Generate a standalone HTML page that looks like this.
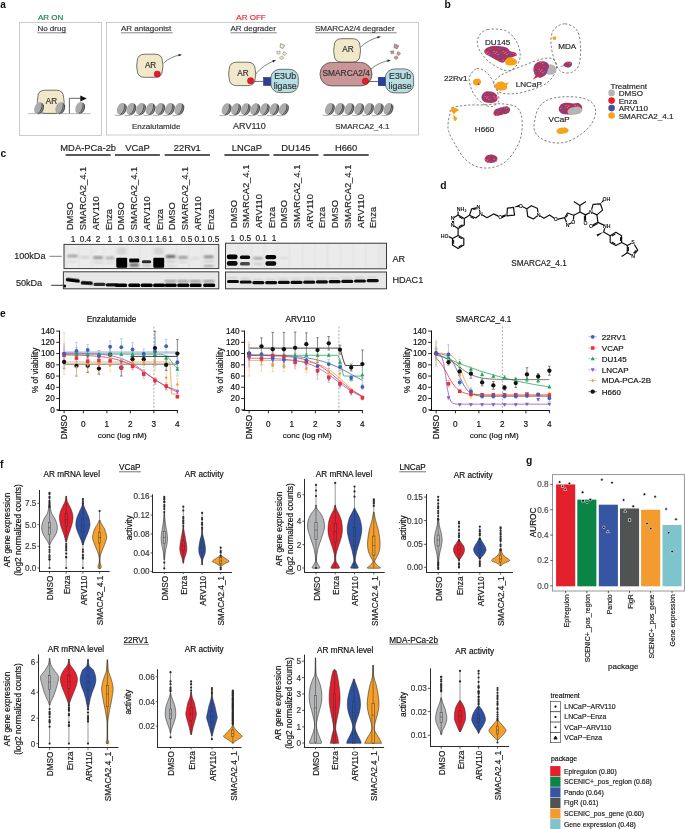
<!DOCTYPE html>
<html><head><meta charset="utf-8"><style>
html,body{margin:0;padding:0;background:#fff;}
svg{display:block;font-family:"Liberation Sans", sans-serif;}
#wrap{width:685px;height:829px;overflow:hidden;will-change:transform;}
</style></head><body><div id="wrap">
<svg width="685" height="829" viewBox="0 0 685 829">
<defs>
<filter id="bl1" x="-50%" y="-50%" width="200%" height="200%"><feGaussianBlur stdDeviation="0.9"/></filter>
<filter id="bl2" x="-50%" y="-50%" width="200%" height="200%"><feGaussianBlur stdDeviation="0.5"/></filter>
</defs>
<rect width="685" height="829" fill="#fff"/>
<text x="0.30" y="8.20" font-size="10" text-anchor="start" fill="#111" font-weight="bold">a</text>
<text x="50.70" y="20.00" font-size="8" text-anchor="middle" fill="#1a7f4b" stroke="#1a7f4b" stroke-width="0.18">AR ON</text>
<text x="251.00" y="20.00" font-size="8" text-anchor="middle" fill="#ec2530" stroke="#ec2530" stroke-width="0.18">AR OFF</text>
<rect x="19.60" y="22.50" width="81.90" height="113.00" fill="none" stroke="#bfbfbf" stroke-width="0.8"/>
<rect x="106.40" y="22.50" width="312.10" height="112.50" fill="none" stroke="#bfbfbf" stroke-width="0.8"/>
<text x="37.40" y="31.20" font-size="8" text-anchor="start" fill="#333" stroke="#333" stroke-width="0.18">No drug</text>
<line x1="37.40" y1="32.80" x2="66.30" y2="32.80" stroke="#333" stroke-width="0.6"/>
<text x="120.90" y="31.20" font-size="8" text-anchor="start" fill="#333" stroke="#333" stroke-width="0.18">AR antagonist</text>
<line x1="120.90" y1="32.80" x2="172.60" y2="32.80" stroke="#333" stroke-width="0.6"/>
<text x="230.50" y="31.20" font-size="8" text-anchor="start" fill="#333" stroke="#333" stroke-width="0.18">AR degrader</text>
<line x1="230.50" y1="32.80" x2="276.80" y2="32.80" stroke="#333" stroke-width="0.6"/>
<text x="315.00" y="31.20" font-size="8" text-anchor="start" fill="#333" stroke="#333" stroke-width="0.18">SMARCA2/4 degrader</text>
<line x1="315.00" y1="32.80" x2="396.60" y2="32.80" stroke="#333" stroke-width="0.6"/>
<line x1="28.00" y1="113.60" x2="90.70" y2="113.60" stroke="#777" stroke-width="0.5"/>
<path d="M45.224,90.2 L56.176,90.2 Q63.6,90.2 63.6,97.62400000000001 Q64.8,101.80000000000001 63.6,105.976 Q63.6,113.4 56.176,113.4 L45.224,113.4 Q37.8,113.4 37.8,105.976 Q36.599999999999994,101.80000000000001 37.8,97.62400000000001 Q37.8,90.2 45.224,90.2Z" fill="#f1e8c9" stroke="#3a3a3a" stroke-width="0.7"/>
<text x="51.50" y="103.60" font-size="8.2" text-anchor="middle" fill="#333" stroke="#333" stroke-width="0.18">AR</text>
<g transform="translate(39.00,108.20) rotate(22) scale(1.0)">
<ellipse cx="0.6" cy="0" rx="4.3" ry="6.1" fill="#9a9a9a"/>
<ellipse cx="-0.9" cy="0" rx="3.6" ry="6.0" fill="#ababab"/>
<path d="M1.0,-5.6 Q4.0,0 1.0,5.6 M2.7,-4.8 Q5.4,0 2.7,4.8" stroke="#474747" stroke-width="0.85" fill="none"/>
</g>
<g transform="translate(60.20,108.20) rotate(22) scale(1.0)">
<ellipse cx="0.6" cy="0" rx="4.3" ry="6.1" fill="#9a9a9a"/>
<ellipse cx="-0.9" cy="0" rx="3.6" ry="6.0" fill="#ababab"/>
<path d="M1.0,-5.6 Q4.0,0 1.0,5.6 M2.7,-4.8 Q5.4,0 2.7,4.8" stroke="#474747" stroke-width="0.85" fill="none"/>
</g>
<g transform="translate(80.10,108.00) rotate(22) scale(1.0)">
<ellipse cx="0.6" cy="0" rx="4.3" ry="6.1" fill="#9a9a9a"/>
<ellipse cx="-0.9" cy="0" rx="3.6" ry="6.0" fill="#ababab"/>
<path d="M1.0,-5.6 Q4.0,0 1.0,5.6 M2.7,-4.8 Q5.4,0 2.7,4.8" stroke="#474747" stroke-width="0.85" fill="none"/>
</g>
<path d="M69.4,113.4 L69.4,98.3 L80.6,98.3" fill="none" stroke="#222" stroke-width="0.7"/>
<path d="M80.3,95.4 L86.8,98.4 L80.3,101.4Z" fill="#111" stroke="none" stroke-width="1"/>
<path d="M144.59199999999998,54.2 L155.008,54.2 Q162.4,54.2 162.4,61.592 Q163.6,65.75 162.4,69.908 Q162.4,77.3 155.008,77.3 L144.59199999999998,77.3 Q137.2,77.3 137.2,69.908 Q136.0,65.75 137.2,61.592 Q137.2,54.2 144.59199999999998,54.2Z" fill="#f1e8c9" stroke="#3a3a3a" stroke-width="0.7"/>
<text x="150.60" y="67.55" font-size="8.2" text-anchor="middle" fill="#333" stroke="#333" stroke-width="0.18">AR</text>
<circle cx="157.30" cy="74.10" r="3.20" fill="#e8192c" stroke="#7a1a1a" stroke-width="0.4"/>
<path d="M163.4,63.2 Q170.96,56.29 181.1,54.8" fill="none" stroke="#333" stroke-width="0.6"/>
<path d="M181.89,54.68 L178.35,53.99 L178.70,56.37Z" fill="#222" stroke="none" stroke-width="1"/>
<g transform="translate(121.70,109.00) rotate(22) scale(1.0)">
<ellipse cx="0.6" cy="0" rx="4.3" ry="6.1" fill="#9a9a9a"/>
<ellipse cx="-0.9" cy="0" rx="3.6" ry="6.0" fill="#ababab"/>
<path d="M1.0,-5.6 Q4.0,0 1.0,5.6 M2.7,-4.8 Q5.4,0 2.7,4.8" stroke="#474747" stroke-width="0.85" fill="none"/>
</g>
<g transform="translate(131.30,109.00) rotate(22) scale(1.0)">
<ellipse cx="0.6" cy="0" rx="4.3" ry="6.1" fill="#9a9a9a"/>
<ellipse cx="-0.9" cy="0" rx="3.6" ry="6.0" fill="#ababab"/>
<path d="M1.0,-5.6 Q4.0,0 1.0,5.6 M2.7,-4.8 Q5.4,0 2.7,4.8" stroke="#474747" stroke-width="0.85" fill="none"/>
</g>
<g transform="translate(140.90,109.00) rotate(22) scale(1.0)">
<ellipse cx="0.6" cy="0" rx="4.3" ry="6.1" fill="#9a9a9a"/>
<ellipse cx="-0.9" cy="0" rx="3.6" ry="6.0" fill="#ababab"/>
<path d="M1.0,-5.6 Q4.0,0 1.0,5.6 M2.7,-4.8 Q5.4,0 2.7,4.8" stroke="#474747" stroke-width="0.85" fill="none"/>
</g>
<g transform="translate(150.50,109.00) rotate(22) scale(1.0)">
<ellipse cx="0.6" cy="0" rx="4.3" ry="6.1" fill="#9a9a9a"/>
<ellipse cx="-0.9" cy="0" rx="3.6" ry="6.0" fill="#ababab"/>
<path d="M1.0,-5.6 Q4.0,0 1.0,5.6 M2.7,-4.8 Q5.4,0 2.7,4.8" stroke="#474747" stroke-width="0.85" fill="none"/>
</g>
<g transform="translate(160.10,109.00) rotate(22) scale(1.0)">
<ellipse cx="0.6" cy="0" rx="4.3" ry="6.1" fill="#9a9a9a"/>
<ellipse cx="-0.9" cy="0" rx="3.6" ry="6.0" fill="#ababab"/>
<path d="M1.0,-5.6 Q4.0,0 1.0,5.6 M2.7,-4.8 Q5.4,0 2.7,4.8" stroke="#474747" stroke-width="0.85" fill="none"/>
</g>
<g transform="translate(169.70,109.00) rotate(22) scale(1.0)">
<ellipse cx="0.6" cy="0" rx="4.3" ry="6.1" fill="#9a9a9a"/>
<ellipse cx="-0.9" cy="0" rx="3.6" ry="6.0" fill="#ababab"/>
<path d="M1.0,-5.6 Q4.0,0 1.0,5.6 M2.7,-4.8 Q5.4,0 2.7,4.8" stroke="#474747" stroke-width="0.85" fill="none"/>
</g>
<g transform="translate(179.30,109.00) rotate(22) scale(1.0)">
<ellipse cx="0.6" cy="0" rx="4.3" ry="6.1" fill="#9a9a9a"/>
<ellipse cx="-0.9" cy="0" rx="3.6" ry="6.0" fill="#ababab"/>
<path d="M1.0,-5.6 Q4.0,0 1.0,5.6 M2.7,-4.8 Q5.4,0 2.7,4.8" stroke="#474747" stroke-width="0.85" fill="none"/>
</g>
<path d="M114.70,115.20 Q118.70,116.20 122.70,114.60" fill="none" stroke="#777" stroke-width="0.6"/>
<path d="M124.30,115.20 Q128.30,116.20 132.30,114.60" fill="none" stroke="#777" stroke-width="0.6"/>
<path d="M133.90,115.20 Q137.90,116.20 141.90,114.60" fill="none" stroke="#777" stroke-width="0.6"/>
<path d="M143.50,115.20 Q147.50,116.20 151.50,114.60" fill="none" stroke="#777" stroke-width="0.6"/>
<path d="M153.10,115.20 Q157.10,116.20 161.10,114.60" fill="none" stroke="#777" stroke-width="0.6"/>
<path d="M162.70,115.20 Q166.70,116.20 170.70,114.60" fill="none" stroke="#777" stroke-width="0.6"/>
<path d="M172.30,115.20 Q176.30,116.20 180.30,114.60" fill="none" stroke="#777" stroke-width="0.6"/>
<text x="156.20" y="129.30" font-size="8" text-anchor="middle" fill="#333" stroke="#333" stroke-width="0.18">Enzalutamide</text>
<path d="M236.688,62.2 L247.712,62.2 Q255.2,62.2 255.2,69.688 Q256.4,73.9 255.2,78.112 Q255.2,85.6 247.712,85.6 L236.688,85.6 Q229.2,85.6 229.2,78.112 Q228.0,73.9 229.2,69.688 Q229.2,62.2 236.688,62.2Z" fill="#f1e8c9" stroke="#3a3a3a" stroke-width="0.7"/>
<text x="243.00" y="75.70" font-size="8.2" text-anchor="middle" fill="#333" stroke="#333" stroke-width="0.18">AR</text>
<circle cx="250.60" cy="80.80" r="3.20" fill="#e8192c" stroke="#7a1a1a" stroke-width="0.4"/>
<line x1="253.80" y1="81.40" x2="263.40" y2="81.40" stroke="#333" stroke-width="0.7"/>
<rect x="263.40" y="77.30" width="8.40" height="8.30" fill="#2b3e9b" stroke="#1a2560" stroke-width="0.4"/>
<rect x="270.90" y="69.30" width="27.40" height="23.30" fill="#b7dfe3" stroke="#3a3a3a" stroke-width="0.7" rx="9.04" ry="8.39"/>
<text x="285.20" y="79.20" font-size="8.8" text-anchor="middle" fill="#333" stroke="#333" stroke-width="0.18">E3Ub</text>
<text x="285.20" y="88.90" font-size="8.8" text-anchor="middle" fill="#333" stroke="#333" stroke-width="0.18">ligase</text>
<path d="M255.4,74.1 Q263.59,64.78 275.2,60.4" fill="none" stroke="#333" stroke-width="0.6"/>
<path d="M275.95,60.12 L272.34,60.20 L273.19,62.44Z" fill="#222" stroke="none" stroke-width="1"/>
<path transform="translate(282,46) rotate(20) scale(1.3)" d="M-1.6,-1.4 L1.8,-1.2 L1.4,1.6 L-1.2,1.4Z" fill="#f1e8c9" stroke="#555" stroke-width="0.35"/>
<path transform="translate(278.5,52.5) rotate(-10) scale(1.0)" d="M-1.6,-1.4 L1.8,-1.2 L1.4,1.6 L-1.2,1.4Z" fill="#f1e8c9" stroke="#555" stroke-width="0.35"/>
<path transform="translate(284.5,53.5) rotate(30) scale(1.0)" d="M-1.6,-1.4 L1.8,-1.2 L1.4,1.6 L-1.2,1.4Z" fill="#f1e8c9" stroke="#555" stroke-width="0.35"/>
<path transform="translate(281.5,57.8) rotate(-30) scale(1.0)" d="M-1.6,-1.4 L1.8,-1.2 L1.4,1.6 L-1.2,1.4Z" fill="#f1e8c9" stroke="#555" stroke-width="0.35"/>
<g transform="translate(226.50,109.20) rotate(22) scale(1.0)">
<ellipse cx="0.6" cy="0" rx="4.3" ry="6.1" fill="#9a9a9a"/>
<ellipse cx="-0.9" cy="0" rx="3.6" ry="6.0" fill="#ababab"/>
<path d="M1.0,-5.6 Q4.0,0 1.0,5.6 M2.7,-4.8 Q5.4,0 2.7,4.8" stroke="#474747" stroke-width="0.85" fill="none"/>
</g>
<g transform="translate(236.05,109.20) rotate(22) scale(1.0)">
<ellipse cx="0.6" cy="0" rx="4.3" ry="6.1" fill="#9a9a9a"/>
<ellipse cx="-0.9" cy="0" rx="3.6" ry="6.0" fill="#ababab"/>
<path d="M1.0,-5.6 Q4.0,0 1.0,5.6 M2.7,-4.8 Q5.4,0 2.7,4.8" stroke="#474747" stroke-width="0.85" fill="none"/>
</g>
<g transform="translate(245.60,109.20) rotate(22) scale(1.0)">
<ellipse cx="0.6" cy="0" rx="4.3" ry="6.1" fill="#9a9a9a"/>
<ellipse cx="-0.9" cy="0" rx="3.6" ry="6.0" fill="#ababab"/>
<path d="M1.0,-5.6 Q4.0,0 1.0,5.6 M2.7,-4.8 Q5.4,0 2.7,4.8" stroke="#474747" stroke-width="0.85" fill="none"/>
</g>
<g transform="translate(255.15,109.20) rotate(22) scale(1.0)">
<ellipse cx="0.6" cy="0" rx="4.3" ry="6.1" fill="#9a9a9a"/>
<ellipse cx="-0.9" cy="0" rx="3.6" ry="6.0" fill="#ababab"/>
<path d="M1.0,-5.6 Q4.0,0 1.0,5.6 M2.7,-4.8 Q5.4,0 2.7,4.8" stroke="#474747" stroke-width="0.85" fill="none"/>
</g>
<g transform="translate(264.70,109.20) rotate(22) scale(1.0)">
<ellipse cx="0.6" cy="0" rx="4.3" ry="6.1" fill="#9a9a9a"/>
<ellipse cx="-0.9" cy="0" rx="3.6" ry="6.0" fill="#ababab"/>
<path d="M1.0,-5.6 Q4.0,0 1.0,5.6 M2.7,-4.8 Q5.4,0 2.7,4.8" stroke="#474747" stroke-width="0.85" fill="none"/>
</g>
<g transform="translate(274.25,109.20) rotate(22) scale(1.0)">
<ellipse cx="0.6" cy="0" rx="4.3" ry="6.1" fill="#9a9a9a"/>
<ellipse cx="-0.9" cy="0" rx="3.6" ry="6.0" fill="#ababab"/>
<path d="M1.0,-5.6 Q4.0,0 1.0,5.6 M2.7,-4.8 Q5.4,0 2.7,4.8" stroke="#474747" stroke-width="0.85" fill="none"/>
</g>
<g transform="translate(283.80,109.20) rotate(22) scale(1.0)">
<ellipse cx="0.6" cy="0" rx="4.3" ry="6.1" fill="#9a9a9a"/>
<ellipse cx="-0.9" cy="0" rx="3.6" ry="6.0" fill="#ababab"/>
<path d="M1.0,-5.6 Q4.0,0 1.0,5.6 M2.7,-4.8 Q5.4,0 2.7,4.8" stroke="#474747" stroke-width="0.85" fill="none"/>
</g>
<path d="M219.50,115.40 Q223.50,116.40 227.50,114.80" fill="none" stroke="#777" stroke-width="0.6"/>
<path d="M229.05,115.40 Q233.05,116.40 237.05,114.80" fill="none" stroke="#777" stroke-width="0.6"/>
<path d="M238.60,115.40 Q242.60,116.40 246.60,114.80" fill="none" stroke="#777" stroke-width="0.6"/>
<path d="M248.15,115.40 Q252.15,116.40 256.15,114.80" fill="none" stroke="#777" stroke-width="0.6"/>
<path d="M257.70,115.40 Q261.70,116.40 265.70,114.80" fill="none" stroke="#777" stroke-width="0.6"/>
<path d="M267.25,115.40 Q271.25,116.40 275.25,114.80" fill="none" stroke="#777" stroke-width="0.6"/>
<path d="M276.80,115.40 Q280.80,116.40 284.80,114.80" fill="none" stroke="#777" stroke-width="0.6"/>
<text x="249.40" y="129.40" font-size="8.3" text-anchor="middle" fill="#333" stroke="#333" stroke-width="0.18" textLength="32.6" lengthAdjust="spacingAndGlyphs">ARV110</text>
<path d="M341.71999999999997,38.7 L352.48,38.7 Q360,38.7 360,46.220000000000006 Q361.2,50.45 360,54.68 Q360,62.2 352.48,62.2 L341.71999999999997,62.2 Q334.2,62.2 334.2,54.68 Q333.0,50.45 334.2,46.220000000000006 Q334.2,38.7 341.71999999999997,38.7Z" fill="#f1e8c9" stroke="#3a3a3a" stroke-width="0.7"/>
<text x="347.90" y="52.25" font-size="8.2" text-anchor="middle" fill="#333" stroke="#333" stroke-width="0.18">AR</text>
<path d="M360.7,47 Q368.95,39.25 380,36.8" fill="none" stroke="#333" stroke-width="0.6"/>
<path d="M380.78,36.63 L377.20,36.19 L377.72,38.53Z" fill="#222" stroke="none" stroke-width="1"/>
<rect x="320.00" y="62.40" width="52.00" height="23.50" fill="#c99597" stroke="#3a3a3a" stroke-width="0.7" rx="11.5" ry="11.5"/>
<text x="346.20" y="75.50" font-size="8.4" text-anchor="middle" fill="#333" stroke="#333" stroke-width="0.18">SMARCA2/4</text>
<circle cx="365.40" cy="81.20" r="3.20" fill="#e8192c" stroke="#7a1a1a" stroke-width="0.4"/>
<line x1="368.00" y1="81.50" x2="378.20" y2="81.50" stroke="#333" stroke-width="0.7"/>
<rect x="378.20" y="77.20" width="8.30" height="8.60" fill="#2b3e9b" stroke="#1a2560" stroke-width="0.4"/>
<rect x="385.40" y="68.90" width="28.20" height="24.00" fill="#b7dfe3" stroke="#3a3a3a" stroke-width="0.7" rx="9.31" ry="8.64"/>
<text x="400.10" y="78.80" font-size="8.8" text-anchor="middle" fill="#333" stroke="#333" stroke-width="0.18">E3Ub</text>
<text x="400.10" y="88.50" font-size="8.8" text-anchor="middle" fill="#333" stroke="#333" stroke-width="0.18">ligase</text>
<path d="M370.7,69.2 Q379.11,62.07 390,60.4" fill="none" stroke="#333" stroke-width="0.6"/>
<path d="M390.79,60.28 L387.25,59.61 L387.61,61.98Z" fill="#222" stroke="none" stroke-width="1"/>
<path transform="translate(396,46.3) rotate(20) scale(1.3)" d="M-1.6,-1.4 L1.8,-1.2 L1.4,1.6 L-1.2,1.4Z" fill="#c99597" stroke="#555" stroke-width="0.35"/>
<path transform="translate(392.2,52.2) rotate(-10) scale(1.0)" d="M-1.6,-1.4 L1.8,-1.2 L1.4,1.6 L-1.2,1.4Z" fill="#c99597" stroke="#555" stroke-width="0.35"/>
<path transform="translate(398.5,53.5) rotate(30) scale(1.0)" d="M-1.6,-1.4 L1.8,-1.2 L1.4,1.6 L-1.2,1.4Z" fill="#c99597" stroke="#555" stroke-width="0.35"/>
<path transform="translate(396,57.6) rotate(-30) scale(1.0)" d="M-1.6,-1.4 L1.8,-1.2 L1.4,1.6 L-1.2,1.4Z" fill="#c99597" stroke="#555" stroke-width="0.35"/>
<g transform="translate(329.80,109.00) rotate(22) scale(1.0)">
<ellipse cx="0.6" cy="0" rx="4.3" ry="6.1" fill="#9a9a9a"/>
<ellipse cx="-0.9" cy="0" rx="3.6" ry="6.0" fill="#ababab"/>
<path d="M1.0,-5.6 Q4.0,0 1.0,5.6 M2.7,-4.8 Q5.4,0 2.7,4.8" stroke="#474747" stroke-width="0.85" fill="none"/>
</g>
<g transform="translate(339.57,109.00) rotate(22) scale(1.0)">
<ellipse cx="0.6" cy="0" rx="4.3" ry="6.1" fill="#9a9a9a"/>
<ellipse cx="-0.9" cy="0" rx="3.6" ry="6.0" fill="#ababab"/>
<path d="M1.0,-5.6 Q4.0,0 1.0,5.6 M2.7,-4.8 Q5.4,0 2.7,4.8" stroke="#474747" stroke-width="0.85" fill="none"/>
</g>
<g transform="translate(349.33,109.00) rotate(22) scale(1.0)">
<ellipse cx="0.6" cy="0" rx="4.3" ry="6.1" fill="#9a9a9a"/>
<ellipse cx="-0.9" cy="0" rx="3.6" ry="6.0" fill="#ababab"/>
<path d="M1.0,-5.6 Q4.0,0 1.0,5.6 M2.7,-4.8 Q5.4,0 2.7,4.8" stroke="#474747" stroke-width="0.85" fill="none"/>
</g>
<g transform="translate(359.10,109.00) rotate(22) scale(1.0)">
<ellipse cx="0.6" cy="0" rx="4.3" ry="6.1" fill="#9a9a9a"/>
<ellipse cx="-0.9" cy="0" rx="3.6" ry="6.0" fill="#ababab"/>
<path d="M1.0,-5.6 Q4.0,0 1.0,5.6 M2.7,-4.8 Q5.4,0 2.7,4.8" stroke="#474747" stroke-width="0.85" fill="none"/>
</g>
<g transform="translate(368.87,109.00) rotate(22) scale(1.0)">
<ellipse cx="0.6" cy="0" rx="4.3" ry="6.1" fill="#9a9a9a"/>
<ellipse cx="-0.9" cy="0" rx="3.6" ry="6.0" fill="#ababab"/>
<path d="M1.0,-5.6 Q4.0,0 1.0,5.6 M2.7,-4.8 Q5.4,0 2.7,4.8" stroke="#474747" stroke-width="0.85" fill="none"/>
</g>
<g transform="translate(378.63,109.00) rotate(22) scale(1.0)">
<ellipse cx="0.6" cy="0" rx="4.3" ry="6.1" fill="#9a9a9a"/>
<ellipse cx="-0.9" cy="0" rx="3.6" ry="6.0" fill="#ababab"/>
<path d="M1.0,-5.6 Q4.0,0 1.0,5.6 M2.7,-4.8 Q5.4,0 2.7,4.8" stroke="#474747" stroke-width="0.85" fill="none"/>
</g>
<g transform="translate(388.40,109.00) rotate(22) scale(1.0)">
<ellipse cx="0.6" cy="0" rx="4.3" ry="6.1" fill="#9a9a9a"/>
<ellipse cx="-0.9" cy="0" rx="3.6" ry="6.0" fill="#ababab"/>
<path d="M1.0,-5.6 Q4.0,0 1.0,5.6 M2.7,-4.8 Q5.4,0 2.7,4.8" stroke="#474747" stroke-width="0.85" fill="none"/>
</g>
<path d="M322.80,115.20 Q326.80,116.20 330.80,114.60" fill="none" stroke="#777" stroke-width="0.6"/>
<path d="M332.57,115.20 Q336.57,116.20 340.57,114.60" fill="none" stroke="#777" stroke-width="0.6"/>
<path d="M342.33,115.20 Q346.33,116.20 350.33,114.60" fill="none" stroke="#777" stroke-width="0.6"/>
<path d="M352.10,115.20 Q356.10,116.20 360.10,114.60" fill="none" stroke="#777" stroke-width="0.6"/>
<path d="M361.87,115.20 Q365.87,116.20 369.87,114.60" fill="none" stroke="#777" stroke-width="0.6"/>
<path d="M371.63,115.20 Q375.63,116.20 379.63,114.60" fill="none" stroke="#777" stroke-width="0.6"/>
<path d="M381.40,115.20 Q385.40,116.20 389.40,114.60" fill="none" stroke="#777" stroke-width="0.6"/>
<text x="362.40" y="129.30" font-size="8" text-anchor="middle" fill="#333" stroke="#333" stroke-width="0.18">SMARCA2_4.1</text>
<text x="444.50" y="8.30" font-size="10.3" text-anchor="start" fill="#111" font-weight="bold">b</text>
<path d="M487.40,29.60 C491.93,28.63 501.03,28.82 505.80,30.70 C510.57,32.58 513.62,37.17 516.00,40.90 C518.38,44.63 519.75,49.35 520.10,53.10 C520.45,56.85 519.80,60.50 518.10,63.40 C516.40,66.30 512.97,69.67 509.90,70.50 C506.83,71.33 503.45,70.10 499.70,68.40 C495.95,66.70 490.98,63.78 487.40,60.30 C483.82,56.82 479.67,51.47 478.20,47.50 C476.73,43.53 477.07,39.48 478.60,36.50 C480.13,33.52 482.87,30.57 487.40,29.60Z" fill="none" stroke="#5e5a55" stroke-width="0.75" stroke-dasharray="2.4,1.8"/>
<path d="M565.00,23.80 C569.00,23.97 574.90,26.63 577.50,31.00 C580.10,35.37 580.43,44.17 580.60,50.00 C580.77,55.83 580.10,62.25 578.50,66.00 C576.90,69.75 573.92,71.58 571.00,72.50 C568.08,73.42 563.67,73.25 561.00,71.50 C558.33,69.75 556.67,66.58 555.00,62.00 C553.33,57.42 551.25,49.33 551.00,44.00 C550.75,38.67 551.17,33.37 553.50,30.00 C555.83,26.63 561.00,23.63 565.00,23.80Z" fill="none" stroke="#5e5a55" stroke-width="0.75" stroke-dasharray="2.4,1.8"/>
<path d="M476.80,68.60 C479.55,67.77 483.22,69.77 486.00,72.00 C488.78,74.23 491.58,78.67 493.50,82.00 C495.42,85.33 496.63,88.83 497.50,92.00 C498.37,95.17 499.62,98.58 498.70,101.00 C497.78,103.42 494.45,105.92 492.00,106.50 C489.55,107.08 486.67,106.08 484.00,104.50 C481.33,102.92 478.17,99.75 476.00,97.00 C473.83,94.25 472.08,91.33 471.00,88.00 C469.92,84.67 468.53,80.23 469.50,77.00 C470.47,73.77 474.05,69.43 476.80,68.60Z" fill="none" stroke="#5e5a55" stroke-width="0.75" stroke-dasharray="2.4,1.8"/>
<path d="M493.80,84.00 C493.63,81.33 496.13,78.75 499.00,76.50 C501.87,74.25 506.50,72.50 511.00,70.50 C515.50,68.50 521.17,66.33 526.00,64.50 C530.83,62.67 535.83,60.53 540.00,59.50 C544.17,58.47 548.25,57.55 551.00,58.30 C553.75,59.05 555.92,61.38 556.50,64.00 C557.08,66.62 556.25,70.75 554.50,74.00 C552.75,77.25 549.92,80.83 546.00,83.50 C542.08,86.17 536.17,88.32 531.00,90.00 C525.83,91.68 520.17,93.18 515.00,93.60 C509.83,94.02 503.53,94.10 500.00,92.50 C496.47,90.90 493.97,86.67 493.80,84.00Z" fill="none" stroke="#5e5a55" stroke-width="0.75" stroke-dasharray="2.4,1.8"/>
<path d="M451.70,107.80 C454.50,106.50 461.72,105.68 467.00,105.20 C472.28,104.72 477.62,105.13 483.40,104.90 C489.18,104.67 496.27,103.48 501.70,103.80 C507.13,104.12 512.75,104.93 516.00,106.80 C519.25,108.67 520.17,111.60 521.20,115.00 C522.23,118.40 522.38,123.12 522.20,127.20 C522.02,131.28 521.47,135.42 520.10,139.50 C518.73,143.58 516.72,147.78 514.00,151.70 C511.28,155.62 507.88,160.30 503.80,163.00 C499.72,165.70 494.27,167.38 489.50,167.90 C484.73,168.42 479.47,167.77 475.20,166.10 C470.93,164.43 467.13,161.32 463.90,157.90 C460.67,154.48 458.35,150.03 455.80,145.60 C453.25,141.17 449.83,135.40 448.60,131.30 C447.37,127.20 448.13,124.05 448.40,121.00 C448.67,117.95 449.65,115.20 450.20,113.00 C450.75,110.80 448.90,109.10 451.70,107.80Z" fill="none" stroke="#5e5a55" stroke-width="0.75" stroke-dasharray="2.4,1.8"/>
<path d="M534.50,122.00 C535.15,118.17 536.33,111.67 538.50,108.00 C540.67,104.33 543.75,101.83 547.50,100.00 C551.25,98.17 555.92,97.45 561.00,97.00 C566.08,96.55 573.00,96.50 578.00,97.30 C583.00,98.10 588.07,99.52 591.00,101.80 C593.93,104.08 595.43,107.47 595.60,111.00 C595.77,114.53 594.27,119.25 592.00,123.00 C589.73,126.75 586.17,130.37 582.00,133.50 C577.83,136.63 572.00,140.28 567.00,141.80 C562.00,143.32 556.42,143.23 552.00,142.60 C547.58,141.97 543.40,139.93 540.50,138.00 C537.60,136.07 535.60,133.67 534.60,131.00 C533.60,128.33 533.85,125.83 534.50,122.00Z" fill="none" stroke="#5e5a55" stroke-width="0.75" stroke-dasharray="2.4,1.8"/>
<pattern id="spk" width="9" height="9" patternUnits="userSpaceOnUse"><rect width="9" height="9" fill="#a8305e"/><circle cx="2.1" cy="4.9" r="0.63" fill="#e8202a"/><circle cx="5.6" cy="0.6" r="0.70" fill="#e8202a"/><circle cx="2.3" cy="2.1" r="0.59" fill="#6a4fa0"/><circle cx="7.5" cy="4.3" r="0.50" fill="#3f5cb5"/><circle cx="5.7" cy="7.8" r="0.67" fill="#3f5cb5"/><circle cx="6.0" cy="0.6" r="0.63" fill="#3f5cb5"/><circle cx="2.7" cy="0.3" r="0.59" fill="#f07a8a"/><circle cx="6.5" cy="7.9" r="0.73" fill="#3f5cb5"/><circle cx="3.6" cy="7.2" r="0.73" fill="#e8202a"/><circle cx="7.9" cy="0.9" r="0.52" fill="#e8202a"/><circle cx="8.7" cy="3.9" r="0.54" fill="#3f5cb5"/><circle cx="4.6" cy="3.5" r="0.63" fill="#e8202a"/><circle cx="5.3" cy="8.1" r="0.73" fill="#3f5cb5"/><circle cx="7.7" cy="8.9" r="0.50" fill="#3f5cb5"/><circle cx="7.7" cy="8.7" r="0.62" fill="#f07a8a"/><circle cx="6.4" cy="1.9" r="0.62" fill="#3f5cb5"/><circle cx="2.6" cy="0.6" r="0.75" fill="#f07a8a"/><circle cx="0.8" cy="7.2" r="0.50" fill="#e8202a"/><circle cx="2.6" cy="6.9" r="0.46" fill="#f07a8a"/><circle cx="5.5" cy="0.4" r="0.55" fill="#3f5cb5"/><circle cx="7.9" cy="8.8" r="0.75" fill="#3f5cb5"/><circle cx="2.8" cy="0.7" r="0.46" fill="#3f5cb5"/><circle cx="1.8" cy="3.7" r="0.50" fill="#3f5cb5"/><circle cx="0.4" cy="7.8" r="0.74" fill="#e8202a"/><circle cx="8.1" cy="3.4" r="0.61" fill="#e8202a"/><circle cx="5.8" cy="5.4" r="0.64" fill="#3f5cb5"/><circle cx="8.5" cy="4.6" r="0.67" fill="#e8202a"/><circle cx="2.1" cy="2.7" r="0.61" fill="#6a4fa0"/><circle cx="4.9" cy="0.1" r="0.62" fill="#e8202a"/><circle cx="0.2" cy="5.5" r="0.47" fill="#3f5cb5"/><circle cx="5.6" cy="4.2" r="0.56" fill="#3f5cb5"/><circle cx="6.4" cy="6.6" r="0.47" fill="#e8202a"/><circle cx="6.1" cy="8.7" r="0.59" fill="#e8202a"/><circle cx="5.3" cy="2.9" r="0.54" fill="#e8202a"/><circle cx="3.3" cy="5.4" r="0.56" fill="#e8202a"/><circle cx="7.0" cy="0.2" r="0.67" fill="#3f5cb5"/><circle cx="2.8" cy="2.0" r="0.52" fill="#3f5cb5"/><circle cx="1.7" cy="3.9" r="0.48" fill="#3f5cb5"/><circle cx="2.9" cy="3.0" r="0.58" fill="#3f5cb5"/><circle cx="7.7" cy="1.5" r="0.65" fill="#e8202a"/><circle cx="8.0" cy="4.1" r="0.49" fill="#e8202a"/><circle cx="4.8" cy="1.7" r="0.70" fill="#3f5cb5"/><circle cx="1.7" cy="2.5" r="0.64" fill="#3f5cb5"/><circle cx="7.3" cy="3.1" r="0.54" fill="#e8202a"/><circle cx="7.1" cy="2.4" r="0.58" fill="#e8202a"/><circle cx="3.8" cy="3.7" r="0.50" fill="#f07a8a"/><circle cx="0.0" cy="8.5" r="0.75" fill="#f07a8a"/><circle cx="3.9" cy="8.6" r="0.52" fill="#f07a8a"/><circle cx="6.7" cy="7.5" r="0.61" fill="#3f5cb5"/><circle cx="2.6" cy="3.1" r="0.47" fill="#e8202a"/><circle cx="5.3" cy="2.6" r="0.46" fill="#3f5cb5"/><circle cx="8.1" cy="6.2" r="0.72" fill="#f07a8a"/><circle cx="8.1" cy="5.2" r="0.67" fill="#e8202a"/><circle cx="1.5" cy="2.7" r="0.61" fill="#3f5cb5"/><circle cx="3.7" cy="8.5" r="0.55" fill="#3f5cb5"/><circle cx="2.3" cy="7.8" r="0.68" fill="#e8202a"/><circle cx="3.2" cy="1.8" r="0.70" fill="#3f5cb5"/><circle cx="1.5" cy="7.1" r="0.69" fill="#f07a8a"/><circle cx="7.4" cy="0.1" r="0.71" fill="#3f5cb5"/><circle cx="0.4" cy="2.4" r="0.61" fill="#e8202a"/><circle cx="3.8" cy="4.3" r="0.45" fill="#3f5cb5"/><circle cx="0.5" cy="1.1" r="0.47" fill="#e8202a"/><circle cx="8.8" cy="7.7" r="0.60" fill="#e8202a"/><circle cx="2.8" cy="2.8" r="0.64" fill="#e8202a"/><circle cx="5.3" cy="3.2" r="0.55" fill="#e8202a"/><circle cx="1.1" cy="5.0" r="0.56" fill="#3f5cb5"/><circle cx="0.7" cy="1.6" r="0.63" fill="#e8202a"/><circle cx="7.0" cy="3.4" r="0.64" fill="#3f5cb5"/><circle cx="3.9" cy="3.4" r="0.66" fill="#e8202a"/><circle cx="3.8" cy="6.2" r="0.52" fill="#e8202a"/></pattern>
<path d="M484.50,50.00 C485.33,48.85 487.42,47.23 490.00,46.60 C492.58,45.97 497.17,46.00 500.00,46.20 C502.83,46.40 505.33,47.00 507.00,47.80 C508.67,48.60 508.67,50.25 510.00,51.00 C511.33,51.75 513.87,51.58 515.00,52.30 C516.13,53.02 517.30,54.48 516.80,55.30 C516.30,56.12 513.72,56.50 512.00,57.20 C510.28,57.90 508.00,58.57 506.50,59.50 C505.00,60.43 504.58,62.63 503.00,62.80 C501.42,62.97 499.17,61.55 497.00,60.50 C494.83,59.45 492.00,57.67 490.00,56.50 C488.00,55.33 485.92,54.58 485.00,53.50 C484.08,52.42 483.67,51.15 484.50,50.00Z" fill="url(#spk)"/>
<path fill="#f5a31a" d="M505.50,60.00 C506.00,58.82 507.75,57.83 509.00,57.50 C510.25,57.17 511.75,57.50 513.00,58.00 C514.25,58.50 515.97,59.47 516.50,60.50 C517.03,61.53 517.12,63.35 516.20,64.20 C515.28,65.05 512.70,65.53 511.00,65.60 C509.30,65.67 506.92,65.53 506.00,64.60 C505.08,63.67 505.00,61.18 505.50,60.00Z"/>
<circle cx="554.40" cy="38.10" r="1.90" fill="#f5a31a" stroke="none" stroke-width="0.5"/>
<path d="M563.50,64.50 C563.83,63.63 565.75,62.02 567.00,61.60 C568.25,61.18 570.17,61.43 571.00,62.00 C571.83,62.57 572.33,64.07 572.00,65.00 C571.67,65.93 570.17,67.30 569.00,67.60 C567.83,67.90 565.92,67.32 565.00,66.80 C564.08,66.28 563.17,65.37 563.50,64.50Z" fill="url(#spk)"/>
<line x1="560.50" y1="66.50" x2="564.00" y2="65.50" stroke="#7a7ac0" stroke-width="0.8"/>
<ellipse cx="550.3" cy="69.5" rx="6" ry="5.3" fill="#b5b5b5"/>
<path d="M534.00,66.00 C534.58,64.58 535.67,63.28 537.00,62.50 C538.33,61.72 540.33,61.30 542.00,61.30 C543.67,61.30 545.83,61.72 547.00,62.50 C548.17,63.28 548.92,64.58 549.00,66.00 C549.08,67.42 548.08,69.50 547.50,71.00 C546.92,72.50 546.75,73.87 545.50,75.00 C544.25,76.13 541.67,77.72 540.00,77.80 C538.33,77.88 536.58,76.63 535.50,75.50 C534.42,74.37 533.75,72.58 533.50,71.00 C533.25,69.42 533.42,67.42 534.00,66.00Z" fill="url(#spk)"/>
<path d="M536,75 L533,79.5 L538,77Z" fill="#e8202a"/>
<path fill="#f5a31a" d="M473.00,81.00 C473.33,79.98 474.83,78.95 476.00,78.70 C477.17,78.45 479.17,78.78 480.00,79.50 C480.83,80.22 481.33,82.03 481.00,83.00 C480.67,83.97 479.17,85.00 478.00,85.30 C476.83,85.60 474.83,85.52 474.00,84.80 C473.17,84.08 472.67,82.02 473.00,81.00Z"/>
<circle cx="478.50" cy="84.20" r="0.90" fill="#e8202a" stroke="none" stroke-width="0.5"/>
<path d="M482.00,95.00 C482.67,93.68 484.33,92.13 486.00,91.60 C487.67,91.07 490.20,91.23 492.00,91.80 C493.80,92.37 495.92,93.63 496.80,95.00 C497.68,96.37 497.93,98.72 497.30,100.00 C496.67,101.28 494.88,102.28 493.00,102.70 C491.12,103.12 487.83,103.03 486.00,102.50 C484.17,101.97 482.67,100.75 482.00,99.50 C481.33,98.25 481.33,96.32 482.00,95.00Z" fill="url(#spk)"/>
<path fill="#f5a31a" d="M494.80,86.00 C494.88,84.75 496.30,83.05 497.50,82.30 C498.70,81.55 500.67,81.35 502.00,81.50 C503.33,81.65 504.37,83.07 505.50,83.20 C506.63,83.33 508.55,81.97 508.80,82.30 C509.05,82.63 507.30,84.17 507.00,85.20 C506.70,86.23 507.75,87.63 507.00,88.50 C506.25,89.37 504.17,90.18 502.50,90.40 C500.83,90.62 498.28,90.53 497.00,89.80 C495.72,89.07 494.72,87.25 494.80,86.00Z"/>
<path fill="#f5a31a" d="M451.00,109.00 C451.33,108.38 452.50,107.88 453.50,107.80 C454.50,107.72 456.12,108.05 457.00,108.50 C457.88,108.95 458.97,109.92 458.80,110.50 C458.63,111.08 456.80,111.25 456.00,112.00 C455.20,112.75 453.83,114.00 454.00,115.00 C454.17,116.00 456.75,117.00 457.00,118.00 C457.25,119.00 456.08,120.83 455.50,121.00 C454.92,121.17 453.83,120.17 453.50,119.00 C453.17,117.83 453.83,115.25 453.50,114.00 C453.17,112.75 451.92,112.33 451.50,111.50 C451.08,110.67 450.67,109.62 451.00,109.00Z"/>
<path d="M493.50,112.50 C493.83,111.50 494.58,109.88 496.00,109.00 C497.42,108.12 500.08,107.63 502.00,107.20 C503.92,106.77 506.17,106.10 507.50,106.40 C508.83,106.70 509.83,107.90 510.00,109.00 C510.17,110.10 509.67,112.07 508.50,113.00 C507.33,113.93 504.92,114.10 503.00,114.60 C501.08,115.10 498.50,115.93 497.00,116.00 C495.50,116.07 494.58,115.58 494.00,115.00 C493.42,114.42 493.17,113.50 493.50,112.50Z" fill="url(#spk)"/>
<path d="M484.60,158.50 C484.85,157.37 486.10,155.82 487.50,155.20 C488.90,154.58 491.38,154.42 493.00,154.80 C494.62,155.18 496.62,156.38 497.20,157.50 C497.78,158.62 497.53,160.58 496.50,161.50 C495.47,162.42 492.75,162.92 491.00,163.00 C489.25,163.08 487.07,162.75 486.00,162.00 C484.93,161.25 484.35,159.63 484.60,158.50Z" fill="url(#spk)"/>
<path d="M558.80,108.00 C559.13,106.75 560.13,104.87 561.50,104.00 C562.87,103.13 565.08,102.88 567.00,102.80 C568.92,102.72 571.17,103.47 573.00,103.50 C574.83,103.53 576.58,102.67 578.00,103.00 C579.42,103.33 580.83,104.33 581.50,105.50 C582.17,106.67 582.50,108.65 582.00,110.00 C581.50,111.35 580.33,112.85 578.50,113.60 C576.67,114.35 573.58,114.43 571.00,114.50 C568.42,114.57 564.92,114.50 563.00,114.00 C561.08,113.50 560.20,112.50 559.50,111.50 C558.80,110.50 558.47,109.25 558.80,108.00Z" fill="url(#spk)"/>
<path fill="#b5b5b5" d="M568.00,110.00 C568.75,108.90 571.33,107.73 573.00,107.20 C574.67,106.67 576.52,106.50 578.00,106.80 C579.48,107.10 581.48,107.97 581.90,109.00 C582.32,110.03 581.82,112.07 580.50,113.00 C579.18,113.93 576.00,114.47 574.00,114.60 C572.00,114.73 569.50,114.57 568.50,113.80 C567.50,113.03 567.25,111.10 568.00,110.00Z"/>
<path fill="#f5a31a" d="M556.60,131.00 C556.85,130.17 557.60,128.77 559.00,128.20 C560.40,127.63 563.40,127.33 565.00,127.60 C566.60,127.87 568.27,128.93 568.60,129.80 C568.93,130.67 568.27,132.12 567.00,132.80 C565.73,133.48 562.58,133.83 561.00,133.90 C559.42,133.97 558.23,133.68 557.50,133.20 C556.77,132.72 556.35,131.83 556.60,131.00Z"/>
<text x="485.00" y="44.80" font-size="8.1" text-anchor="start" fill="#231f20" stroke="#231f20" stroke-width="0.18">DU145</text>
<text x="558.20" y="48.90" font-size="8.1" text-anchor="start" fill="#231f20" stroke="#231f20" stroke-width="0.18">MDA</text>
<text x="444.00" y="80.60" font-size="8.1" text-anchor="start" fill="#231f20" stroke="#231f20" stroke-width="0.18">22Rv1</text>
<text x="515.70" y="86.80" font-size="8.1" text-anchor="start" fill="#231f20" stroke="#231f20" stroke-width="0.18">LNCaP</text>
<text x="474.80" y="132.20" font-size="8.1" text-anchor="start" fill="#231f20" stroke="#231f20" stroke-width="0.18">H660</text>
<text x="548.50" y="121.80" font-size="8.1" text-anchor="start" fill="#231f20" stroke="#231f20" stroke-width="0.18">VCaP</text>
<text x="610.50" y="88.50" font-size="8.1" text-anchor="start" fill="#231f20" stroke="#231f20" stroke-width="0.18">Treatment</text>
<circle cx="611.60" cy="92.90" r="3.30" fill="#b5b5b5" stroke="none" stroke-width="0.5"/>
<text x="618.70" y="95.90" font-size="8.1" text-anchor="start" fill="#231f20" stroke="#231f20" stroke-width="0.18">DMSO</text>
<circle cx="611.60" cy="100.60" r="3.30" fill="#e8202a" stroke="none" stroke-width="0.5"/>
<text x="618.70" y="103.60" font-size="8.1" text-anchor="start" fill="#231f20" stroke="#231f20" stroke-width="0.18">Enza</text>
<circle cx="611.60" cy="108.10" r="3.30" fill="#3a53a4" stroke="none" stroke-width="0.5"/>
<text x="618.70" y="111.10" font-size="8.1" text-anchor="start" fill="#231f20" stroke="#231f20" stroke-width="0.18">ARV110</text>
<circle cx="611.60" cy="115.50" r="3.30" fill="#f5a31a" stroke="none" stroke-width="0.5"/>
<text x="618.70" y="118.50" font-size="8.1" text-anchor="start" fill="#231f20" stroke="#231f20" stroke-width="0.18">SMARCA2_4.1</text>
<text x="0.40" y="157.30" font-size="10.3" text-anchor="start" fill="#111" font-weight="bold">c</text>
<text x="88.20" y="151.20" font-size="9.4" text-anchor="middle" fill="#231f20" stroke="#231f20" stroke-width="0.18">MDA-PCa-2b</text>
<line x1="65.70" y1="155.10" x2="110.70" y2="155.10" stroke="#231f20" stroke-width="1.5"/>
<text x="137.40" y="151.20" font-size="9.4" text-anchor="middle" fill="#231f20" stroke="#231f20" stroke-width="0.18">VCaP</text>
<line x1="114.90" y1="155.10" x2="159.90" y2="155.10" stroke="#231f20" stroke-width="1.5"/>
<text x="187.30" y="151.20" font-size="9.4" text-anchor="middle" fill="#231f20" stroke="#231f20" stroke-width="0.18">22Rv1</text>
<line x1="164.70" y1="155.10" x2="209.90" y2="155.10" stroke="#231f20" stroke-width="1.5"/>
<text x="246.90" y="151.20" font-size="9.4" text-anchor="middle" fill="#231f20" stroke="#231f20" stroke-width="0.18">LNCaP</text>
<line x1="224.40" y1="155.10" x2="269.40" y2="155.10" stroke="#231f20" stroke-width="1.5"/>
<text x="295.95" y="151.20" font-size="9.4" text-anchor="middle" fill="#231f20" stroke="#231f20" stroke-width="0.18">DU145</text>
<line x1="273.40" y1="155.10" x2="318.50" y2="155.10" stroke="#231f20" stroke-width="1.5"/>
<text x="346.10" y="151.20" font-size="9.4" text-anchor="middle" fill="#231f20" stroke="#231f20" stroke-width="0.18">H660</text>
<line x1="323.50" y1="155.10" x2="368.70" y2="155.10" stroke="#231f20" stroke-width="1.5"/>
<text x="0.00" y="0.00" transform="translate(73.30,230.30) rotate(-90)" font-size="9.4" text-anchor="start" fill="#231f20" stroke="#231f20" stroke-width="0.18">DMSO</text>
<text x="0.00" y="0.00" transform="translate(86.05,230.30) rotate(-90)" font-size="9.4" text-anchor="start" fill="#231f20" stroke="#231f20" stroke-width="0.18">SMARCA2_4.1</text>
<text x="0.00" y="0.00" transform="translate(98.80,230.30) rotate(-90)" font-size="9.4" text-anchor="start" fill="#231f20" stroke="#231f20" stroke-width="0.18">ARV110</text>
<text x="0.00" y="0.00" transform="translate(111.55,230.30) rotate(-90)" font-size="9.4" text-anchor="start" fill="#231f20" stroke="#231f20" stroke-width="0.18">Enza</text>
<text x="0.00" y="0.00" transform="translate(124.30,230.30) rotate(-90)" font-size="9.4" text-anchor="start" fill="#231f20" stroke="#231f20" stroke-width="0.18">DMSO</text>
<text x="0.00" y="0.00" transform="translate(137.05,230.30) rotate(-90)" font-size="9.4" text-anchor="start" fill="#231f20" stroke="#231f20" stroke-width="0.18">SMARCA2_4.1</text>
<text x="0.00" y="0.00" transform="translate(149.80,230.30) rotate(-90)" font-size="9.4" text-anchor="start" fill="#231f20" stroke="#231f20" stroke-width="0.18">ARV110</text>
<text x="0.00" y="0.00" transform="translate(162.55,230.30) rotate(-90)" font-size="9.4" text-anchor="start" fill="#231f20" stroke="#231f20" stroke-width="0.18">Enza</text>
<text x="0.00" y="0.00" transform="translate(175.30,230.30) rotate(-90)" font-size="9.4" text-anchor="start" fill="#231f20" stroke="#231f20" stroke-width="0.18">DMSO</text>
<text x="0.00" y="0.00" transform="translate(188.05,230.30) rotate(-90)" font-size="9.4" text-anchor="start" fill="#231f20" stroke="#231f20" stroke-width="0.18">SMARCA2_4.1</text>
<text x="0.00" y="0.00" transform="translate(200.80,230.30) rotate(-90)" font-size="9.4" text-anchor="start" fill="#231f20" stroke="#231f20" stroke-width="0.18">ARV110</text>
<text x="0.00" y="0.00" transform="translate(213.55,230.30) rotate(-90)" font-size="9.4" text-anchor="start" fill="#231f20" stroke="#231f20" stroke-width="0.18">Enza</text>
<text x="0.00" y="0.00" transform="translate(236.50,228.20) rotate(-90)" font-size="9.4" text-anchor="start" fill="#231f20" stroke="#231f20" stroke-width="0.18">DMSO</text>
<text x="0.00" y="0.00" transform="translate(249.20,228.20) rotate(-90)" font-size="9.4" text-anchor="start" fill="#231f20" stroke="#231f20" stroke-width="0.18">SMARCA2_4.1</text>
<text x="0.00" y="0.00" transform="translate(261.90,228.20) rotate(-90)" font-size="9.4" text-anchor="start" fill="#231f20" stroke="#231f20" stroke-width="0.18">ARV110</text>
<text x="0.00" y="0.00" transform="translate(274.60,228.20) rotate(-90)" font-size="9.4" text-anchor="start" fill="#231f20" stroke="#231f20" stroke-width="0.18">Enza</text>
<text x="0.00" y="0.00" transform="translate(287.30,228.20) rotate(-90)" font-size="9.4" text-anchor="start" fill="#231f20" stroke="#231f20" stroke-width="0.18">DMSO</text>
<text x="0.00" y="0.00" transform="translate(300.00,228.20) rotate(-90)" font-size="9.4" text-anchor="start" fill="#231f20" stroke="#231f20" stroke-width="0.18">SMARCA2_4.1</text>
<text x="0.00" y="0.00" transform="translate(312.70,228.20) rotate(-90)" font-size="9.4" text-anchor="start" fill="#231f20" stroke="#231f20" stroke-width="0.18">ARV110</text>
<text x="0.00" y="0.00" transform="translate(325.40,228.20) rotate(-90)" font-size="9.4" text-anchor="start" fill="#231f20" stroke="#231f20" stroke-width="0.18">Enza</text>
<text x="0.00" y="0.00" transform="translate(338.10,228.20) rotate(-90)" font-size="9.4" text-anchor="start" fill="#231f20" stroke="#231f20" stroke-width="0.18">DMSO</text>
<text x="0.00" y="0.00" transform="translate(350.80,228.20) rotate(-90)" font-size="9.4" text-anchor="start" fill="#231f20" stroke="#231f20" stroke-width="0.18">SMARCA2_4.1</text>
<text x="0.00" y="0.00" transform="translate(363.50,228.20) rotate(-90)" font-size="9.4" text-anchor="start" fill="#231f20" stroke="#231f20" stroke-width="0.18">ARV110</text>
<text x="0.00" y="0.00" transform="translate(376.20,228.20) rotate(-90)" font-size="9.4" text-anchor="start" fill="#231f20" stroke="#231f20" stroke-width="0.18">Enza</text>
<text x="73.00" y="241.80" font-size="8.3" text-anchor="middle" fill="#231f20" stroke="#231f20" stroke-width="0.18">1</text>
<text x="85.40" y="241.80" font-size="8.3" text-anchor="middle" fill="#231f20" stroke="#231f20" stroke-width="0.18">0.4</text>
<text x="98.10" y="241.80" font-size="8.3" text-anchor="middle" fill="#231f20" stroke="#231f20" stroke-width="0.18">2</text>
<text x="109.80" y="241.80" font-size="8.3" text-anchor="middle" fill="#231f20" stroke="#231f20" stroke-width="0.18">1</text>
<text x="120.90" y="241.80" font-size="8.3" text-anchor="middle" fill="#231f20" stroke="#231f20" stroke-width="0.18">1</text>
<text x="133.70" y="241.80" font-size="8.3" text-anchor="middle" fill="#231f20" stroke="#231f20" stroke-width="0.18">0.3</text>
<text x="147.10" y="241.80" font-size="8.3" text-anchor="middle" fill="#231f20" stroke="#231f20" stroke-width="0.18">0.1</text>
<text x="161.20" y="241.80" font-size="8.3" text-anchor="middle" fill="#231f20" stroke="#231f20" stroke-width="0.18">1.6</text>
<text x="170.60" y="241.80" font-size="8.3" text-anchor="middle" fill="#231f20" stroke="#231f20" stroke-width="0.18">1</text>
<text x="186.70" y="241.80" font-size="8.3" text-anchor="middle" fill="#231f20" stroke="#231f20" stroke-width="0.18">0.5</text>
<text x="200.20" y="241.80" font-size="8.3" text-anchor="middle" fill="#231f20" stroke="#231f20" stroke-width="0.18">0.1</text>
<text x="213.60" y="241.80" font-size="8.3" text-anchor="middle" fill="#231f20" stroke="#231f20" stroke-width="0.18">0.5</text>
<text x="232.80" y="240.90" font-size="8.3" text-anchor="middle" fill="#231f20" stroke="#231f20" stroke-width="0.18">1</text>
<text x="245.30" y="240.90" font-size="8.3" text-anchor="middle" fill="#231f20" stroke="#231f20" stroke-width="0.18">0.5</text>
<text x="261.20" y="240.90" font-size="8.3" text-anchor="middle" fill="#231f20" stroke="#231f20" stroke-width="0.18">0.1</text>
<text x="274.10" y="240.90" font-size="8.3" text-anchor="middle" fill="#231f20" stroke="#231f20" stroke-width="0.18">1</text>
<rect x="64.00" y="244.40" width="154.80" height="24.20" fill="#e7e7e7" stroke="none" stroke-width="1"/>
<rect x="67.90" y="245.00" width="10.00" height="23.00" fill="#ebebeb" stroke="none" stroke-width="1"/>
<rect x="79.80" y="245.00" width="10.00" height="23.00" fill="#ebebeb" stroke="none" stroke-width="1"/>
<rect x="92.70" y="245.00" width="10.00" height="23.00" fill="#ebebeb" stroke="none" stroke-width="1"/>
<rect x="104.60" y="245.00" width="10.00" height="23.00" fill="#ebebeb" stroke="none" stroke-width="1"/>
<rect x="115.80" y="245.00" width="10.00" height="23.00" fill="#ebebeb" stroke="none" stroke-width="1"/>
<rect x="129.00" y="245.00" width="10.00" height="23.00" fill="#ebebeb" stroke="none" stroke-width="1"/>
<rect x="141.40" y="245.00" width="10.00" height="23.00" fill="#ebebeb" stroke="none" stroke-width="1"/>
<rect x="153.80" y="245.00" width="10.00" height="23.00" fill="#ebebeb" stroke="none" stroke-width="1"/>
<rect x="165.40" y="245.00" width="10.00" height="23.00" fill="#ebebeb" stroke="none" stroke-width="1"/>
<rect x="177.90" y="245.00" width="10.00" height="23.00" fill="#ebebeb" stroke="none" stroke-width="1"/>
<rect x="190.30" y="245.00" width="10.00" height="23.00" fill="#ebebeb" stroke="none" stroke-width="1"/>
<rect x="203.90" y="245.00" width="10.00" height="23.00" fill="#ebebeb" stroke="none" stroke-width="1"/>
<rect x="67.35" y="254.70" width="10.50" height="2.60" rx="1.30" fill="#9a9a9a" filter="url(#bl1)" transform="rotate(0 72.60 256.00)"/>
<rect x="67.60" y="260.70" width="10.00" height="1.60" rx="0.80" fill="#d8d8d8" filter="url(#bl1)" transform="rotate(0 72.60 261.50)"/>
<rect x="80.30" y="256.30" width="9.00" height="2.00" rx="1.00" fill="#c8c8c8" filter="url(#bl1)" transform="rotate(0 84.80 257.30)"/>
<rect x="93.00" y="256.30" width="10.00" height="2.60" rx="1.30" fill="#8f8f8f" filter="url(#bl1)" transform="rotate(0 98.00 257.60)"/>
<rect x="93.00" y="261.60" width="10.00" height="1.80" rx="0.90" fill="#d0d0d0" filter="url(#bl1)" transform="rotate(0 98.00 262.50)"/>
<rect x="105.50" y="256.80" width="9.00" height="2.40" rx="1.20" fill="#a8a8a8" filter="url(#bl1)" transform="rotate(0 110.00 258.00)"/>
<rect x="105.50" y="261.70" width="9.00" height="1.60" rx="0.80" fill="#d5d5d5" filter="url(#bl1)" transform="rotate(0 110.00 262.50)"/>
<rect x="117.00" y="247.50" width="9.00" height="7.00" rx="1.50" fill="#d3d3d3" filter="url(#bl1)" transform="rotate(0 121.50 251.00)"/>
<rect x="116.40" y="257.70" width="10.80" height="10.00" rx="1.00" fill="#000" filter="url(#bl2)" transform="rotate(0 121.80 262.70)"/>
<rect x="116.70" y="258.20" width="10.20" height="9.00" rx="1.00" fill="#000" filter="url(#bl2)" transform="rotate(0 121.80 262.70)"/>
<rect x="129.20" y="258.40" width="10.00" height="4.00" rx="1.00" fill="#050505" filter="url(#bl2)" transform="rotate(0 134.20 260.40)"/>
<rect x="129.45" y="263.00" width="9.50" height="4.00" rx="1.50" fill="#7a7a7a" filter="url(#bl1)" transform="rotate(0 134.20 265.00)"/>
<rect x="141.75" y="260.30" width="9.50" height="3.00" rx="1.50" fill="#2a2a2a" filter="url(#bl2)" transform="rotate(0 146.50 261.80)"/>
<rect x="142.00" y="264.25" width="9.00" height="2.50" rx="1.25" fill="#c0c0c0" filter="url(#bl1)" transform="rotate(0 146.50 265.50)"/>
<rect x="153.40" y="257.70" width="10.80" height="10.00" rx="1.00" fill="#000" filter="url(#bl2)" transform="rotate(0 158.80 262.70)"/>
<rect x="153.70" y="258.20" width="10.20" height="9.00" rx="1.00" fill="#000" filter="url(#bl2)" transform="rotate(0 158.80 262.70)"/>
<rect x="154.30" y="247.50" width="9.00" height="7.00" rx="1.50" fill="#d3d3d3" filter="url(#bl1)" transform="rotate(0 158.80 251.00)"/>
<rect x="165.60" y="255.10" width="10.00" height="3.00" rx="1.50" fill="#666" filter="url(#bl1)" transform="rotate(0 170.60 256.60)"/>
<rect x="165.85" y="260.50" width="9.50" height="2.00" rx="1.00" fill="#c8c8c8" filter="url(#bl1)" transform="rotate(0 170.60 261.50)"/>
<rect x="165.85" y="265.25" width="9.50" height="1.50" rx="0.75" fill="#cfcfcf" filter="url(#bl1)" transform="rotate(0 170.60 266.00)"/>
<rect x="178.25" y="256.10" width="9.50" height="2.60" rx="1.30" fill="#959595" filter="url(#bl1)" transform="rotate(0 183.00 257.40)"/>
<rect x="178.25" y="261.20" width="9.50" height="1.60" rx="0.80" fill="#d0d0d0" filter="url(#bl1)" transform="rotate(0 183.00 262.00)"/>
<rect x="191.00" y="257.50" width="9.00" height="2.00" rx="1.00" fill="#d4d4d4" filter="url(#bl1)" transform="rotate(0 195.50 258.50)"/>
<rect x="203.70" y="255.40" width="10.00" height="2.80" rx="1.40" fill="#858585" filter="url(#bl1)" transform="rotate(0 208.70 256.80)"/>
<rect x="203.70" y="260.70" width="10.00" height="1.60" rx="0.80" fill="#bdbdbd" filter="url(#bl1)" transform="rotate(0 208.70 261.50)"/>
<rect x="203.70" y="265.10" width="10.00" height="1.80" rx="0.90" fill="#a5a5a5" filter="url(#bl1)" transform="rotate(0 208.70 266.00)"/>
<rect x="64.00" y="244.40" width="154.80" height="24.20" fill="none" stroke="#3a3a3a" stroke-width="1"/>
<rect x="63.40" y="271.80" width="155.40" height="17.00" fill="#e7e7e7" stroke="none" stroke-width="1"/>
<rect x="65.80" y="278.60" width="14.00" height="3.40" rx="1.50" fill="#000" filter="url(#bl2)" transform="rotate(7 72.80 280.30)"/>
<rect x="80.80" y="281.30" width="12.00" height="3.40" rx="1.50" fill="#111" filter="url(#bl2)" transform="rotate(3 86.80 283.00)"/>
<rect x="93.50" y="282.70" width="12.00" height="3.20" rx="1.50" fill="#2a2a2a" filter="url(#bl2)" transform="rotate(0 99.50 284.30)"/>
<rect x="105.80" y="283.20" width="12.00" height="3.20" rx="1.50" fill="#111" filter="url(#bl2)" transform="rotate(0 111.80 284.80)"/>
<rect x="115.10" y="283.60" width="12.00" height="3.40" rx="1.50" fill="#050505" filter="url(#bl2)" transform="rotate(0 121.10 285.30)"/>
<rect x="128.30" y="283.60" width="12.00" height="3.40" rx="1.50" fill="#050505" filter="url(#bl2)" transform="rotate(0 134.30 285.30)"/>
<rect x="140.70" y="283.60" width="12.00" height="3.40" rx="1.50" fill="#050505" filter="url(#bl2)" transform="rotate(0 146.70 285.30)"/>
<rect x="153.10" y="283.60" width="12.00" height="3.40" rx="1.50" fill="#050505" filter="url(#bl2)" transform="rotate(0 159.10 285.30)"/>
<rect x="164.70" y="283.60" width="12.00" height="3.40" rx="1.50" fill="#050505" filter="url(#bl2)" transform="rotate(0 170.70 285.30)"/>
<rect x="177.20" y="283.60" width="12.00" height="3.40" rx="1.50" fill="#050505" filter="url(#bl2)" transform="rotate(0 183.20 285.30)"/>
<rect x="189.60" y="283.60" width="12.00" height="3.40" rx="1.50" fill="#050505" filter="url(#bl2)" transform="rotate(0 195.60 285.30)"/>
<rect x="203.20" y="283.60" width="12.00" height="3.40" rx="1.50" fill="#050505" filter="url(#bl2)" transform="rotate(0 209.20 285.30)"/>
<rect x="164.65" y="280.20" width="11.50" height="2.00" rx="1.00" fill="#8a8a8a" filter="url(#bl1)" transform="rotate(0 170.40 281.20)"/>
<rect x="177.15" y="280.20" width="11.50" height="2.00" rx="1.00" fill="#8a8a8a" filter="url(#bl1)" transform="rotate(0 182.90 281.20)"/>
<rect x="189.55" y="280.20" width="11.50" height="2.00" rx="1.00" fill="#8a8a8a" filter="url(#bl1)" transform="rotate(0 195.30 281.20)"/>
<rect x="203.15" y="280.20" width="11.50" height="2.00" rx="1.00" fill="#8a8a8a" filter="url(#bl1)" transform="rotate(0 208.90 281.20)"/>
<rect x="63.10" y="284.50" width="3.00" height="3.00" rx="1.50" fill="#000" filter="url(#bl2)" transform="rotate(0 64.60 286.00)"/>
<rect x="63.40" y="271.80" width="155.40" height="17.00" fill="none" stroke="#3a3a3a" stroke-width="1"/>
<rect x="225.50" y="243.20" width="161.00" height="25.60" fill="#e7e7e7" stroke="none" stroke-width="1"/>
<rect x="227.50" y="244.00" width="10.00" height="24.00" fill="#ebebeb" stroke="none" stroke-width="1"/>
<rect x="240.20" y="244.00" width="10.00" height="24.00" fill="#ebebeb" stroke="none" stroke-width="1"/>
<rect x="252.90" y="244.00" width="10.00" height="24.00" fill="#ebebeb" stroke="none" stroke-width="1"/>
<rect x="265.60" y="244.00" width="10.00" height="24.00" fill="#ebebeb" stroke="none" stroke-width="1"/>
<rect x="278.30" y="244.00" width="10.00" height="24.00" fill="#ebebeb" stroke="none" stroke-width="1"/>
<rect x="291.00" y="244.00" width="10.00" height="24.00" fill="#ebebeb" stroke="none" stroke-width="1"/>
<rect x="303.70" y="244.00" width="10.00" height="24.00" fill="#ebebeb" stroke="none" stroke-width="1"/>
<rect x="316.40" y="244.00" width="10.00" height="24.00" fill="#ebebeb" stroke="none" stroke-width="1"/>
<rect x="329.10" y="244.00" width="10.00" height="24.00" fill="#ebebeb" stroke="none" stroke-width="1"/>
<rect x="341.80" y="244.00" width="10.00" height="24.00" fill="#ebebeb" stroke="none" stroke-width="1"/>
<rect x="354.50" y="244.00" width="10.00" height="24.00" fill="#ebebeb" stroke="none" stroke-width="1"/>
<rect x="367.20" y="244.00" width="10.00" height="24.00" fill="#ebebeb" stroke="none" stroke-width="1"/>
<rect x="226.80" y="254.50" width="10.80" height="4.80" rx="2.20" fill="#000" filter="url(#bl2)" transform="rotate(0 232.20 256.90)"/>
<rect x="226.80" y="261.10" width="10.80" height="4.60" rx="2.20" fill="#0a0a0a" filter="url(#bl2)" transform="rotate(0 232.20 263.40)"/>
<rect x="239.90" y="255.50" width="10.20" height="3.60" rx="1.60" fill="#0d0d0d" filter="url(#bl2)" transform="rotate(0 245.00 257.30)"/>
<rect x="240.00" y="262.10" width="10.00" height="3.40" rx="1.60" fill="#4a4a4a" filter="url(#bl2)" transform="rotate(0 245.00 263.80)"/>
<rect x="253.25" y="257.10" width="9.50" height="2.40" rx="1.20" fill="#a0a0a0" filter="url(#bl1)" transform="rotate(0 258.00 258.30)"/>
<rect x="253.25" y="262.90" width="9.50" height="2.20" rx="1.10" fill="#c4c4c4" filter="url(#bl1)" transform="rotate(0 258.00 264.00)"/>
<rect x="265.40" y="254.90" width="10.80" height="4.40" rx="2.00" fill="#000" filter="url(#bl2)" transform="rotate(0 270.80 257.10)"/>
<rect x="265.40" y="261.30" width="10.80" height="4.40" rx="2.00" fill="#080808" filter="url(#bl2)" transform="rotate(0 270.80 263.50)"/>
<rect x="279.00" y="257.00" width="9.00" height="2.00" rx="1.00" fill="#dadada" filter="url(#bl1)" transform="rotate(0 283.50 258.00)"/>
<rect x="225.50" y="243.20" width="161.00" height="25.60" fill="none" stroke="#3a3a3a" stroke-width="1"/>
<rect x="225.50" y="272.00" width="161.00" height="16.80" fill="#e7e7e7" stroke="none" stroke-width="1"/>
<rect x="227.00" y="279.90" width="12.00" height="3.20" rx="1.50" fill="#0a0a0a" filter="url(#bl2)" transform="rotate(0 233.00 281.50)"/>
<rect x="227.50" y="277.60" width="10.00" height="1.40" rx="0.70" fill="#c8c8c8" filter="url(#bl1)" transform="rotate(0 232.50 278.30)"/>
<rect x="239.70" y="280.40" width="12.00" height="3.20" rx="1.50" fill="#0a0a0a" filter="url(#bl2)" transform="rotate(0 245.70 282.00)"/>
<rect x="240.20" y="278.10" width="10.00" height="1.40" rx="0.70" fill="#c8c8c8" filter="url(#bl1)" transform="rotate(0 245.20 278.80)"/>
<rect x="252.40" y="281.00" width="12.00" height="3.20" rx="1.50" fill="#0a0a0a" filter="url(#bl2)" transform="rotate(0 258.40 282.60)"/>
<rect x="252.90" y="278.70" width="10.00" height="1.40" rx="0.70" fill="#c8c8c8" filter="url(#bl1)" transform="rotate(0 257.90 279.40)"/>
<rect x="265.10" y="281.00" width="12.00" height="3.20" rx="1.50" fill="#0a0a0a" filter="url(#bl2)" transform="rotate(0 271.10 282.60)"/>
<rect x="265.60" y="278.70" width="10.00" height="1.40" rx="0.70" fill="#c8c8c8" filter="url(#bl1)" transform="rotate(0 270.60 279.40)"/>
<rect x="277.80" y="280.80" width="12.00" height="3.20" rx="1.50" fill="#0a0a0a" filter="url(#bl2)" transform="rotate(0 283.80 282.40)"/>
<rect x="278.30" y="278.50" width="10.00" height="1.40" rx="0.70" fill="#c8c8c8" filter="url(#bl1)" transform="rotate(0 283.30 279.20)"/>
<rect x="290.50" y="280.70" width="12.00" height="3.20" rx="1.50" fill="#0a0a0a" filter="url(#bl2)" transform="rotate(0 296.50 282.30)"/>
<rect x="291.00" y="278.40" width="10.00" height="1.40" rx="0.70" fill="#c8c8c8" filter="url(#bl1)" transform="rotate(0 296.00 279.10)"/>
<rect x="303.20" y="280.60" width="12.00" height="3.20" rx="1.50" fill="#0a0a0a" filter="url(#bl2)" transform="rotate(0 309.20 282.20)"/>
<rect x="303.70" y="278.30" width="10.00" height="1.40" rx="0.70" fill="#c8c8c8" filter="url(#bl1)" transform="rotate(0 308.70 279.00)"/>
<rect x="315.90" y="280.20" width="12.00" height="3.20" rx="1.50" fill="#0a0a0a" filter="url(#bl2)" transform="rotate(0 321.90 281.80)"/>
<rect x="316.40" y="277.90" width="10.00" height="1.40" rx="0.70" fill="#c8c8c8" filter="url(#bl1)" transform="rotate(0 321.40 278.60)"/>
<rect x="328.60" y="280.00" width="12.00" height="3.20" rx="1.50" fill="#0a0a0a" filter="url(#bl2)" transform="rotate(0 334.60 281.60)"/>
<rect x="329.10" y="277.70" width="10.00" height="1.40" rx="0.70" fill="#c8c8c8" filter="url(#bl1)" transform="rotate(0 334.10 278.40)"/>
<rect x="341.30" y="279.70" width="12.00" height="3.20" rx="1.50" fill="#0a0a0a" filter="url(#bl2)" transform="rotate(0 347.30 281.30)"/>
<rect x="341.80" y="277.40" width="10.00" height="1.40" rx="0.70" fill="#c8c8c8" filter="url(#bl1)" transform="rotate(0 346.80 278.10)"/>
<rect x="354.00" y="279.40" width="12.00" height="3.20" rx="1.50" fill="#0a0a0a" filter="url(#bl2)" transform="rotate(0 360.00 281.00)"/>
<rect x="354.50" y="277.10" width="10.00" height="1.40" rx="0.70" fill="#c8c8c8" filter="url(#bl1)" transform="rotate(0 359.50 277.80)"/>
<rect x="366.70" y="279.00" width="12.00" height="3.20" rx="1.50" fill="#0a0a0a" filter="url(#bl2)" transform="rotate(0 372.70 280.60)"/>
<rect x="367.20" y="276.70" width="10.00" height="1.40" rx="0.70" fill="#c8c8c8" filter="url(#bl1)" transform="rotate(0 372.20 277.40)"/>
<rect x="225.50" y="272.00" width="161.00" height="16.80" fill="none" stroke="#3a3a3a" stroke-width="1"/>
<text x="45.50" y="259.30" font-size="9.1" text-anchor="end" fill="#231f20" stroke="#231f20" stroke-width="0.18">100kDa</text>
<line x1="49.40" y1="256.30" x2="61.80" y2="256.30" stroke="#808080" stroke-width="1.0"/>
<text x="42.20" y="286.40" font-size="9.1" text-anchor="end" fill="#231f20" stroke="#231f20" stroke-width="0.18">50kDa</text>
<line x1="51.20" y1="285.30" x2="63.40" y2="285.30" stroke="#222" stroke-width="0.9"/>
<text x="392.40" y="262.20" font-size="9.1" text-anchor="start" fill="#231f20" stroke="#231f20" stroke-width="0.18">AR</text>
<text x="392.40" y="283.30" font-size="9.1" text-anchor="start" fill="#231f20" stroke="#231f20" stroke-width="0.18">HDAC1</text>
<text x="440.30" y="189.30" font-size="10.3" text-anchor="start" fill="#111" font-weight="bold">d</text>
<path d="M458.10,214.90 L464.30,218.40 L464.30,225.00 L458.10,228.50 L452.50,225.00 L452.50,218.40Z" fill="none" stroke="#111" stroke-width="1.2" stroke-linejoin="round"/>
<line x1="458.80" y1="216.56" x2="462.52" y2="218.66" stroke="#111" stroke-width="1.08"/>
<line x1="462.52" y1="224.74" x2="458.80" y2="226.84" stroke="#111" stroke-width="1.08"/>
<line x1="453.60" y1="223.68" x2="453.60" y2="219.72" stroke="#111" stroke-width="1.08"/>
<path d="M458.10,214.90 L458.10,211.40" fill="none" stroke="#111" stroke-width="1.2" stroke-linejoin="round"/>
<path d="M458.10,235.50 L463.80,238.50 L463.80,245.10 L458.10,248.60 L452.50,245.10 L452.50,238.50Z" fill="none" stroke="#111" stroke-width="1.2" stroke-linejoin="round"/>
<path d="M458.10,228.50 L458.10,235.50" fill="none" stroke="#111" stroke-width="1.2" stroke-linejoin="round"/>
<line x1="458.73" y1="237.07" x2="462.15" y2="238.87" stroke="#111" stroke-width="1.08"/>
<line x1="462.08" y1="244.86" x2="458.66" y2="246.96" stroke="#111" stroke-width="1.08"/>
<line x1="453.60" y1="243.78" x2="453.60" y2="239.82" stroke="#111" stroke-width="1.08"/>
<path d="M452.50,238.50 L448.80,236.60" fill="none" stroke="#111" stroke-width="1.2" stroke-linejoin="round"/>
<path d="M469.50,215.30 L471.70,208.80 L478.30,207.40 L480.90,214.00 L475.70,218.00Z" fill="none" stroke="#111" stroke-width="1.2" stroke-linejoin="round"/>
<path d="M464.30,218.40 L469.50,215.30" fill="none" stroke="#111" stroke-width="1.2" stroke-linejoin="round"/>
<line x1="473.23" y1="209.50" x2="477.19" y2="208.66" stroke="#111" stroke-width="1.08"/>
<line x1="470.34" y1="216.76" x2="474.06" y2="218.38" stroke="#111" stroke-width="1.08"/>
<path d="M480.90,214.00 L486.90,217.70 L493.60,213.90 L500.20,217.10 L505.90,214.90" fill="none" stroke="#111" stroke-width="1.2" stroke-linejoin="round"/>
<path d="M507.40,208.20 L513.50,207.30 L514.50,215.20 L506.90,215.80Z" fill="none" stroke="#111" stroke-width="1.2" stroke-linejoin="round"/>
<path d="M506.9,215.8 L501.21,216.24 L501.79,218.36Z" fill="#111" stroke="none" stroke-width="1"/>
<path d="M513.5,207.3 L519.75,206.97 L519.25,204.83Z" fill="#111" stroke="none" stroke-width="1"/>
<path d="M520.70,205.70 L526.80,208.80" fill="none" stroke="#111" stroke-width="1.2" stroke-linejoin="round"/>
<path d="M526.80,208.80 L531.50,205.70 L537.20,208.20 L538.60,214.90 L533.40,219.00 L527.70,216.40Z" fill="none" stroke="#111" stroke-width="1.2" stroke-linejoin="round"/>
<path d="M538.60,214.90 L543.90,218.30 L549.60,214.90 L555.30,219.00 L556.10,219.60 L564.70,217.70" fill="none" stroke="#111" stroke-width="1.2" stroke-linejoin="round"/>
<path d="M564.70,217.70 L567.50,213.00 L573.80,215.20 L573.20,222.10 L567.50,224.70Z" fill="none" stroke="#111" stroke-width="1.2" stroke-linejoin="round"/>
<line x1="566.12" y1="217.27" x2="567.80" y2="214.45" stroke="#111" stroke-width="1.08"/>
<path d="M573.80,215.20 L579.90,212.00 L579.90,205.40 L573.80,201.60" fill="none" stroke="#111" stroke-width="1.2" stroke-linejoin="round"/>
<path d="M579.90,205.40 L585.90,201.60" fill="none" stroke="#111" stroke-width="1.2" stroke-linejoin="round"/>
<path d="M579.90,212.00 L585.50,214.90 L590.90,212.00" fill="none" stroke="#111" stroke-width="1.2" stroke-linejoin="round"/>
<path d="M585.50,214.90 L585.50,222.40" fill="none" stroke="#111" stroke-width="1.2" stroke-linejoin="round"/>
<line x1="584.40" y1="215.65" x2="584.40" y2="221.65" stroke="#111" stroke-width="1.08"/>
<path d="M590.90,212.00 L596.90,214.90 L602.60,210.10 L600.40,203.80 L593.10,204.40Z" fill="none" stroke="#111" stroke-width="1.2" stroke-linejoin="round"/>
<path d="M600.4,203.8 L605.30,200.26 L603.70,198.74Z" fill="#111" stroke="none" stroke-width="1"/>
<path d="M596.90,214.90 L597.90,222.40 L605.50,225.90" fill="none" stroke="#111" stroke-width="1.2" stroke-linejoin="round"/>
<path d="M597.90,222.40 L591.20,225.90" fill="none" stroke="#111" stroke-width="1.2" stroke-linejoin="round"/>
<line x1="597.69" y1="223.64" x2="592.33" y2="226.44" stroke="#111" stroke-width="1.08"/>
<path d="M605.50,225.90 L603.60,232.00 L610.20,235.70" fill="none" stroke="#111" stroke-width="1.2" stroke-linejoin="round"/>
<path d="M603.6,232 L596.50,234.42 L597.50,236.38Z" fill="#111" stroke="none" stroke-width="1"/>
<path d="M610.20,235.70 L615.90,232.30 L621.60,235.70 L621.60,242.40 L615.90,245.60 L610.20,242.40Z" fill="none" stroke="#111" stroke-width="1.2" stroke-linejoin="round"/>
<line x1="611.90" y1="235.96" x2="615.32" y2="233.92" stroke="#111" stroke-width="1.08"/>
<line x1="620.50" y1="237.04" x2="620.50" y2="241.06" stroke="#111" stroke-width="1.08"/>
<line x1="615.30" y1="244.00" x2="611.88" y2="242.08" stroke="#111" stroke-width="1.08"/>
<path d="M621.60,242.40 L627.30,245.60" fill="none" stroke="#111" stroke-width="1.2" stroke-linejoin="round"/>
<path d="M627.30,245.60 L633.00,242.40 L637.70,250.00 L633.00,255.70 L627.30,252.80Z" fill="none" stroke="#111" stroke-width="1.2" stroke-linejoin="round"/>
<line x1="628.40" y1="251.36" x2="628.40" y2="247.04" stroke="#111" stroke-width="1.08"/>
<line x1="635.91" y1="250.44" x2="633.09" y2="253.86" stroke="#111" stroke-width="1.08"/>
<path d="M627.30,252.80 L621.60,256.60" fill="none" stroke="#111" stroke-width="1.2" stroke-linejoin="round"/>
<rect x="450.94" y="216.26" width="3.12" height="4.68" fill="#fff" stroke="none" stroke-width="1"/>
<text x="452.50" y="220.47" font-size="5.2" text-anchor="middle" fill="#111" font-weight="bold">N</text>
<rect x="450.94" y="222.86" width="3.12" height="4.68" fill="#fff" stroke="none" stroke-width="1"/>
<text x="452.50" y="227.07" font-size="5.2" text-anchor="middle" fill="#111" font-weight="bold">N</text>
<rect x="476.74" y="205.06" width="3.12" height="4.68" fill="#fff" stroke="none" stroke-width="1"/>
<text x="478.30" y="209.27" font-size="5.2" text-anchor="middle" fill="#111" font-weight="bold">N</text>
<rect x="479.34" y="211.86" width="3.12" height="4.68" fill="#fff" stroke="none" stroke-width="1"/>
<text x="480.90" y="216.07" font-size="5.2" text-anchor="middle" fill="#111" font-weight="bold">N</text>
<rect x="498.64" y="214.96" width="3.12" height="4.68" fill="#fff" stroke="none" stroke-width="1"/>
<text x="500.20" y="219.17" font-size="5.2" text-anchor="middle" fill="#111" font-weight="bold">O</text>
<rect x="519.14" y="203.36" width="3.12" height="4.68" fill="#fff" stroke="none" stroke-width="1"/>
<text x="520.70" y="207.57" font-size="5.2" text-anchor="middle" fill="#111" font-weight="bold">O</text>
<rect x="537.04" y="212.56" width="3.12" height="4.68" fill="#fff" stroke="none" stroke-width="1"/>
<text x="538.60" y="216.77" font-size="5.2" text-anchor="middle" fill="#111" font-weight="bold">N</text>
<rect x="554.24" y="216.86" width="3.12" height="4.68" fill="#fff" stroke="none" stroke-width="1"/>
<text x="555.80" y="221.07" font-size="5.2" text-anchor="middle" fill="#111" font-weight="bold">O</text>
<rect x="565.94" y="222.36" width="3.12" height="4.68" fill="#fff" stroke="none" stroke-width="1"/>
<text x="567.50" y="226.57" font-size="5.2" text-anchor="middle" fill="#111" font-weight="bold">N</text>
<rect x="571.64" y="219.76" width="3.12" height="4.68" fill="#fff" stroke="none" stroke-width="1"/>
<text x="573.20" y="223.97" font-size="5.2" text-anchor="middle" fill="#111" font-weight="bold">O</text>
<rect x="583.94" y="220.86" width="3.12" height="4.68" fill="#fff" stroke="none" stroke-width="1"/>
<text x="585.50" y="225.07" font-size="5.2" text-anchor="middle" fill="#111" font-weight="bold">O</text>
<rect x="589.34" y="209.66" width="3.12" height="4.68" fill="#fff" stroke="none" stroke-width="1"/>
<text x="590.90" y="213.87" font-size="5.2" text-anchor="middle" fill="#111" font-weight="bold">N</text>
<rect x="603.18" y="196.36" width="6.24" height="4.68" fill="#fff" stroke="none" stroke-width="1"/>
<text x="606.30" y="200.57" font-size="5.2" text-anchor="middle" fill="#111" font-weight="bold">OH</text>
<rect x="589.44" y="223.86" width="3.12" height="4.68" fill="#fff" stroke="none" stroke-width="1"/>
<text x="591.00" y="228.07" font-size="5.2" text-anchor="middle" fill="#111" font-weight="bold">O</text>
<rect x="603.68" y="223.56" width="6.24" height="4.68" fill="#fff" stroke="none" stroke-width="1"/>
<text x="606.80" y="227.77" font-size="5.2" text-anchor="middle" fill="#111" font-weight="bold">NH</text>
<rect x="631.44" y="240.06" width="3.12" height="4.68" fill="#fff" stroke="none" stroke-width="1"/>
<text x="633.00" y="244.27" font-size="5.2" text-anchor="middle" fill="#111" font-weight="bold">S</text>
<rect x="631.44" y="253.36" width="3.12" height="4.68" fill="#fff" stroke="none" stroke-width="1"/>
<text x="633.00" y="257.57" font-size="5.2" text-anchor="middle" fill="#111" font-weight="bold">N</text>
<rect x="441.48" y="233.56" width="6.24" height="4.68" fill="#fff" stroke="none" stroke-width="1"/>
<text x="444.60" y="237.77" font-size="5.2" text-anchor="middle" fill="#111" font-weight="bold">HO</text>
<text x="456.80" y="211.30" font-size="5.2" text-anchor="start" fill="#111" font-weight="bold">NH</text>
<text x="464.60" y="212.30" font-size="3.6" text-anchor="start" fill="#111" font-weight="bold">2</text>
<text x="539.00" y="265.90" font-size="8.2" text-anchor="middle" fill="#231f20" stroke="#231f20" stroke-width="0.18">SMARCA2_4.1</text>
<text x="0.00" y="317.30" font-size="10.3" text-anchor="start" fill="#111" font-weight="bold">e</text>
<line x1="153.90" y1="326.50" x2="153.90" y2="410.00" stroke="#8a8a8a" stroke-width="0.7" stroke-dasharray="2,1.6"/>
<path d="M64.13,352.46 L66.02,352.46 L67.91,352.46 L69.79,352.46 L71.68,352.46 L73.57,352.46 L75.46,352.46 L77.34,352.46 L79.23,352.46 L81.12,352.46 L83.01,352.46 L84.90,352.46 L86.78,352.46 L88.67,352.46 L90.56,352.46 L92.45,352.46 L94.34,352.46 L96.22,352.46 L98.11,352.46 L100.00,352.46 L101.89,352.46 L103.77,352.46 L105.66,352.46 L107.55,352.46 L109.44,352.46 L111.33,352.46 L113.21,352.46 L115.10,352.46 L116.99,352.46 L118.88,352.46 L120.77,352.46 L122.65,352.46 L124.54,352.46 L126.43,352.46 L128.32,352.46 L130.20,352.46 L132.09,352.46 L133.98,352.46 L135.87,352.46 L137.76,352.46 L139.64,352.46 L141.53,352.46 L143.42,352.46 L145.31,352.46 L147.19,352.46 L149.08,352.46 L150.97,352.46 L152.86,352.46 L154.75,352.46 L156.63,352.46 L158.52,352.46 L160.41,352.46 L162.30,352.46 L164.19,352.46 L166.07,352.46 L167.96,352.46 L169.85,352.46 L171.74,352.46 L173.62,352.46 L175.51,352.46 L177.40,352.46" fill="none" stroke="#bccbea" stroke-width="2.6" stroke-linejoin="round"/>
<path d="M64.13,362.02 L66.02,362.02 L67.91,362.02 L69.79,362.02 L71.68,362.02 L73.57,362.02 L75.46,362.02 L77.34,362.02 L79.23,362.02 L81.12,362.02 L83.01,362.02 L84.90,362.02 L86.78,362.02 L88.67,362.02 L90.56,362.02 L92.45,362.02 L94.34,362.02 L96.22,362.02 L98.11,362.02 L100.00,362.02 L101.89,362.02 L103.77,362.02 L105.66,362.02 L107.55,362.02 L109.44,362.02 L111.33,362.02 L113.21,362.02 L115.10,362.02 L116.99,362.02 L118.88,362.02 L120.77,362.02 L122.65,362.02 L124.54,362.02 L126.43,362.02 L128.32,362.02 L130.20,362.02 L132.09,362.02 L133.98,362.02 L135.87,362.02 L137.76,362.02 L139.64,362.02 L141.53,362.02 L143.42,362.02 L145.31,362.02 L147.19,362.02 L149.08,362.02 L150.97,362.02 L152.86,362.02 L154.75,362.02 L156.63,362.02 L158.52,362.02 L160.41,362.02 L162.30,362.02 L164.19,362.02 L166.07,362.02 L167.96,362.02 L169.85,362.02 L171.74,394.06 L173.62,394.06 L175.51,394.06 L177.40,394.06" fill="none" stroke="#f59a36" stroke-width="0.8" stroke-linejoin="round"/>
<path d="M64.13,354.15 L66.02,354.15 L67.91,354.15 L69.79,354.15 L71.68,354.15 L73.57,354.15 L75.46,354.15 L77.34,354.15 L79.23,354.15 L81.12,354.15 L83.01,354.15 L84.90,354.15 L86.78,354.15 L88.67,354.15 L90.56,354.15 L92.45,354.15 L94.34,354.15 L96.22,354.15 L98.11,354.15 L100.00,354.15 L101.89,354.15 L103.77,354.15 L105.66,354.15 L107.55,354.15 L109.44,354.15 L111.33,354.15 L113.21,354.15 L115.10,354.15 L116.99,354.15 L118.88,354.15 L120.77,354.15 L122.65,354.15 L124.54,354.15 L126.43,354.15 L128.32,354.15 L130.20,354.15 L132.09,354.15 L133.98,354.15 L135.87,354.15 L137.76,354.15 L139.64,354.15 L141.53,354.15 L143.42,354.15 L145.31,354.15 L147.19,354.15 L149.08,354.15 L150.97,354.15 L152.86,354.16 L154.75,354.17 L156.63,354.19 L158.52,354.24 L160.41,354.34 L162.30,354.55 L164.19,354.96 L166.07,355.75 L167.96,357.16 L169.85,359.33 L171.74,362.05 L173.62,364.69 L175.51,366.70 L177.40,367.95" fill="none" stroke="#25a558" stroke-width="0.8" stroke-linejoin="round"/>
<path d="M64.13,364.27 L66.02,364.27 L67.91,364.27 L69.79,364.27 L71.68,364.27 L73.57,364.27 L75.46,364.27 L77.34,364.27 L79.23,364.27 L81.12,364.27 L83.01,364.27 L84.90,364.27 L86.78,364.27 L88.67,364.27 L90.56,364.27 L92.45,364.27 L94.34,364.27 L96.22,364.27 L98.11,364.27 L100.00,364.27 L101.89,364.27 L103.77,364.27 L105.66,364.27 L107.55,364.27 L109.44,364.27 L111.33,364.27 L113.21,364.27 L115.10,364.27 L116.99,364.27 L118.88,364.27 L120.77,364.27 L122.65,364.27 L124.54,364.27 L126.43,364.27 L128.32,364.27 L130.20,364.27 L132.09,364.27 L133.98,364.27 L135.87,364.27 L137.76,364.27 L139.64,364.27 L141.53,364.27 L143.42,364.27 L145.31,364.27 L147.19,364.27 L149.08,364.27 L150.97,364.27 L152.86,364.27 L154.75,364.27 L156.63,364.27 L158.52,364.27 L160.41,364.27 L162.30,364.27 L164.19,364.27 L166.07,364.27 L167.96,364.27 L169.85,364.27 L171.74,364.27 L173.62,364.27 L175.51,364.27 L177.40,364.27" fill="none" stroke="#a0a0a0" stroke-width="1.6" stroke-linejoin="round"/>
<path d="M64.13,353.12 L66.02,353.13 L67.91,353.15 L69.79,353.17 L71.68,353.19 L73.57,353.21 L75.46,353.24 L77.34,353.27 L79.23,353.31 L81.12,353.35 L83.01,353.40 L84.90,353.45 L86.78,353.51 L88.67,353.59 L90.56,353.67 L92.45,353.76 L94.34,353.87 L96.22,353.99 L98.11,354.13 L100.00,354.29 L101.89,354.48 L103.77,354.68 L105.66,354.92 L107.55,355.19 L109.44,355.49 L111.33,355.83 L113.21,356.22 L115.10,356.65 L116.99,357.14 L118.88,357.68 L120.77,358.28 L122.65,358.95 L124.54,359.69 L126.43,360.51 L128.32,361.39 L130.20,362.35 L132.09,363.39 L133.98,364.50 L135.87,365.68 L137.76,366.93 L139.64,368.23 L141.53,369.58 L143.42,370.97 L145.31,372.38 L147.19,373.80 L149.08,375.22 L150.97,376.62 L152.86,378.00 L154.75,379.33 L156.63,380.62 L158.52,381.84 L160.41,382.99 L162.30,384.08 L164.19,385.09 L166.07,386.02 L167.96,386.88 L169.85,387.67 L171.74,388.38 L173.62,389.03 L175.51,389.61 L177.40,390.13" fill="none" stroke="#8c5cc0" stroke-width="0.8" stroke-linejoin="round"/>
<path d="M64.13,354.93 L66.02,354.96 L67.91,354.99 L69.79,355.02 L71.68,355.06 L73.57,355.10 L75.46,355.15 L77.34,355.20 L79.23,355.26 L81.12,355.32 L83.01,355.40 L84.90,355.48 L86.78,355.57 L88.67,355.68 L90.56,355.79 L92.45,355.92 L94.34,356.06 L96.22,356.22 L98.11,356.39 L100.00,356.59 L101.89,356.81 L103.77,357.05 L105.66,357.32 L107.55,357.61 L109.44,357.94 L111.33,358.30 L113.21,358.70 L115.10,359.14 L116.99,359.62 L118.88,360.14 L120.77,360.71 L122.65,361.34 L124.54,362.01 L126.43,362.74 L128.32,363.52 L130.20,364.37 L132.09,365.26 L133.98,366.22 L135.87,367.23 L137.76,368.29 L139.64,369.40 L141.53,370.56 L143.42,371.75 L145.31,372.98 L147.19,374.24 L149.08,375.51 L150.97,376.80 L152.86,378.09 L154.75,379.37 L156.63,380.64 L158.52,381.89 L160.41,383.10 L162.30,384.29 L164.19,385.43 L166.07,386.52 L167.96,387.56 L169.85,388.55 L171.74,389.48 L173.62,390.36 L175.51,391.18 L177.40,391.94" fill="none" stroke="#ec3038" stroke-width="0.8" stroke-linejoin="round"/>
<line x1="64.10" y1="368.76" x2="64.10" y2="355.27" stroke="#555555" stroke-width="0.7"/>
<line x1="62.80" y1="355.27" x2="65.40" y2="355.27" stroke="#555555" stroke-width="0.7"/>
<line x1="62.80" y1="368.76" x2="65.40" y2="368.76" stroke="#555555" stroke-width="0.7"/>
<line x1="76.49" y1="376.07" x2="76.49" y2="355.83" stroke="#555555" stroke-width="0.7"/>
<line x1="75.19" y1="355.83" x2="77.79" y2="355.83" stroke="#555555" stroke-width="0.7"/>
<line x1="75.19" y1="376.07" x2="77.79" y2="376.07" stroke="#555555" stroke-width="0.7"/>
<line x1="87.70" y1="372.42" x2="87.70" y2="358.93" stroke="#555555" stroke-width="0.7"/>
<line x1="86.40" y1="358.93" x2="89.00" y2="358.93" stroke="#555555" stroke-width="0.7"/>
<line x1="86.40" y1="372.42" x2="89.00" y2="372.42" stroke="#555555" stroke-width="0.7"/>
<line x1="98.91" y1="374.16" x2="98.91" y2="362.92" stroke="#555555" stroke-width="0.7"/>
<line x1="97.61" y1="362.92" x2="100.21" y2="362.92" stroke="#555555" stroke-width="0.7"/>
<line x1="97.61" y1="374.16" x2="100.21" y2="374.16" stroke="#555555" stroke-width="0.7"/>
<line x1="110.12" y1="361.46" x2="110.12" y2="347.96" stroke="#555555" stroke-width="0.7"/>
<line x1="108.82" y1="347.96" x2="111.42" y2="347.96" stroke="#555555" stroke-width="0.7"/>
<line x1="108.82" y1="361.46" x2="111.42" y2="361.46" stroke="#555555" stroke-width="0.7"/>
<line x1="121.33" y1="376.07" x2="121.33" y2="359.21" stroke="#555555" stroke-width="0.7"/>
<line x1="120.03" y1="359.21" x2="122.63" y2="359.21" stroke="#555555" stroke-width="0.7"/>
<line x1="120.03" y1="376.07" x2="122.63" y2="376.07" stroke="#555555" stroke-width="0.7"/>
<line x1="132.54" y1="363.70" x2="132.54" y2="354.71" stroke="#555555" stroke-width="0.7"/>
<line x1="131.24" y1="354.71" x2="133.84" y2="354.71" stroke="#555555" stroke-width="0.7"/>
<line x1="131.24" y1="363.70" x2="133.84" y2="363.70" stroke="#555555" stroke-width="0.7"/>
<line x1="143.75" y1="364.83" x2="143.75" y2="353.59" stroke="#555555" stroke-width="0.7"/>
<line x1="142.45" y1="353.59" x2="145.05" y2="353.59" stroke="#555555" stroke-width="0.7"/>
<line x1="142.45" y1="364.83" x2="145.05" y2="364.83" stroke="#555555" stroke-width="0.7"/>
<line x1="154.96" y1="364.94" x2="154.96" y2="331.21" stroke="#555555" stroke-width="0.7"/>
<line x1="153.66" y1="331.21" x2="156.26" y2="331.21" stroke="#555555" stroke-width="0.7"/>
<line x1="153.66" y1="364.94" x2="156.26" y2="364.94" stroke="#555555" stroke-width="0.7"/>
<line x1="166.17" y1="370.51" x2="166.17" y2="359.26" stroke="#555555" stroke-width="0.7"/>
<line x1="164.87" y1="359.26" x2="167.47" y2="359.26" stroke="#555555" stroke-width="0.7"/>
<line x1="164.87" y1="370.51" x2="167.47" y2="370.51" stroke="#555555" stroke-width="0.7"/>
<line x1="177.38" y1="367.64" x2="177.38" y2="339.53" stroke="#555555" stroke-width="0.7"/>
<line x1="176.08" y1="339.53" x2="178.68" y2="339.53" stroke="#555555" stroke-width="0.7"/>
<line x1="176.08" y1="367.64" x2="178.68" y2="367.64" stroke="#555555" stroke-width="0.7"/>
<line x1="64.10" y1="374.38" x2="64.10" y2="332.79" stroke="#f9c990" stroke-width="0.7"/>
<line x1="62.80" y1="332.79" x2="65.40" y2="332.79" stroke="#f9c990" stroke-width="0.7"/>
<line x1="62.80" y1="374.38" x2="65.40" y2="374.38" stroke="#f9c990" stroke-width="0.7"/>
<line x1="76.49" y1="376.52" x2="76.49" y2="358.53" stroke="#f9c990" stroke-width="0.7"/>
<line x1="75.19" y1="358.53" x2="77.79" y2="358.53" stroke="#f9c990" stroke-width="0.7"/>
<line x1="75.19" y1="376.52" x2="77.79" y2="376.52" stroke="#f9c990" stroke-width="0.7"/>
<line x1="87.70" y1="371.57" x2="87.70" y2="358.08" stroke="#f9c990" stroke-width="0.7"/>
<line x1="86.40" y1="358.08" x2="89.00" y2="358.08" stroke="#f9c990" stroke-width="0.7"/>
<line x1="86.40" y1="371.57" x2="89.00" y2="371.57" stroke="#f9c990" stroke-width="0.7"/>
<line x1="98.91" y1="371.57" x2="98.91" y2="358.08" stroke="#f9c990" stroke-width="0.7"/>
<line x1="97.61" y1="358.08" x2="100.21" y2="358.08" stroke="#f9c990" stroke-width="0.7"/>
<line x1="97.61" y1="371.57" x2="100.21" y2="371.57" stroke="#f9c990" stroke-width="0.7"/>
<line x1="110.12" y1="371.01" x2="110.12" y2="359.77" stroke="#f9c990" stroke-width="0.7"/>
<line x1="108.82" y1="359.77" x2="111.42" y2="359.77" stroke="#f9c990" stroke-width="0.7"/>
<line x1="108.82" y1="371.01" x2="111.42" y2="371.01" stroke="#f9c990" stroke-width="0.7"/>
<line x1="121.33" y1="369.33" x2="121.33" y2="358.08" stroke="#f9c990" stroke-width="0.7"/>
<line x1="120.03" y1="358.08" x2="122.63" y2="358.08" stroke="#f9c990" stroke-width="0.7"/>
<line x1="120.03" y1="369.33" x2="122.63" y2="369.33" stroke="#f9c990" stroke-width="0.7"/>
<line x1="132.54" y1="369.33" x2="132.54" y2="355.83" stroke="#f9c990" stroke-width="0.7"/>
<line x1="131.24" y1="355.83" x2="133.84" y2="355.83" stroke="#f9c990" stroke-width="0.7"/>
<line x1="131.24" y1="369.33" x2="133.84" y2="369.33" stroke="#f9c990" stroke-width="0.7"/>
<line x1="143.75" y1="367.64" x2="143.75" y2="356.40" stroke="#f9c990" stroke-width="0.7"/>
<line x1="142.45" y1="356.40" x2="145.05" y2="356.40" stroke="#f9c990" stroke-width="0.7"/>
<line x1="142.45" y1="367.64" x2="145.05" y2="367.64" stroke="#f9c990" stroke-width="0.7"/>
<line x1="154.96" y1="369.89" x2="154.96" y2="353.02" stroke="#f9c990" stroke-width="0.7"/>
<line x1="153.66" y1="353.02" x2="156.26" y2="353.02" stroke="#f9c990" stroke-width="0.7"/>
<line x1="153.66" y1="369.89" x2="156.26" y2="369.89" stroke="#f9c990" stroke-width="0.7"/>
<line x1="166.17" y1="383.38" x2="166.17" y2="372.14" stroke="#f9c990" stroke-width="0.7"/>
<line x1="164.87" y1="372.14" x2="167.47" y2="372.14" stroke="#f9c990" stroke-width="0.7"/>
<line x1="164.87" y1="383.38" x2="167.47" y2="383.38" stroke="#f9c990" stroke-width="0.7"/>
<line x1="177.38" y1="390.12" x2="177.38" y2="378.88" stroke="#f9c990" stroke-width="0.7"/>
<line x1="176.08" y1="378.88" x2="178.68" y2="378.88" stroke="#f9c990" stroke-width="0.7"/>
<line x1="176.08" y1="390.12" x2="178.68" y2="390.12" stroke="#f9c990" stroke-width="0.7"/>
<line x1="64.10" y1="363.14" x2="64.10" y2="344.03" stroke="#c6addf" stroke-width="0.7"/>
<line x1="62.80" y1="344.03" x2="65.40" y2="344.03" stroke="#c6addf" stroke-width="0.7"/>
<line x1="62.80" y1="363.14" x2="65.40" y2="363.14" stroke="#c6addf" stroke-width="0.7"/>
<line x1="76.49" y1="367.08" x2="76.49" y2="342.34" stroke="#c6addf" stroke-width="0.7"/>
<line x1="75.19" y1="342.34" x2="77.79" y2="342.34" stroke="#c6addf" stroke-width="0.7"/>
<line x1="75.19" y1="367.08" x2="77.79" y2="367.08" stroke="#c6addf" stroke-width="0.7"/>
<line x1="87.70" y1="362.02" x2="87.70" y2="350.77" stroke="#c6addf" stroke-width="0.7"/>
<line x1="86.40" y1="350.77" x2="89.00" y2="350.77" stroke="#c6addf" stroke-width="0.7"/>
<line x1="86.40" y1="362.02" x2="89.00" y2="362.02" stroke="#c6addf" stroke-width="0.7"/>
<line x1="98.91" y1="358.64" x2="98.91" y2="350.77" stroke="#c6addf" stroke-width="0.7"/>
<line x1="97.61" y1="350.77" x2="100.21" y2="350.77" stroke="#c6addf" stroke-width="0.7"/>
<line x1="97.61" y1="358.64" x2="100.21" y2="358.64" stroke="#c6addf" stroke-width="0.7"/>
<line x1="110.12" y1="358.08" x2="110.12" y2="352.46" stroke="#c6addf" stroke-width="0.7"/>
<line x1="108.82" y1="352.46" x2="111.42" y2="352.46" stroke="#c6addf" stroke-width="0.7"/>
<line x1="108.82" y1="358.08" x2="111.42" y2="358.08" stroke="#c6addf" stroke-width="0.7"/>
<line x1="121.33" y1="364.83" x2="121.33" y2="359.21" stroke="#c6addf" stroke-width="0.7"/>
<line x1="120.03" y1="359.21" x2="122.63" y2="359.21" stroke="#c6addf" stroke-width="0.7"/>
<line x1="120.03" y1="364.83" x2="122.63" y2="364.83" stroke="#c6addf" stroke-width="0.7"/>
<line x1="132.54" y1="368.76" x2="132.54" y2="363.14" stroke="#c6addf" stroke-width="0.7"/>
<line x1="131.24" y1="363.14" x2="133.84" y2="363.14" stroke="#c6addf" stroke-width="0.7"/>
<line x1="131.24" y1="368.76" x2="133.84" y2="368.76" stroke="#c6addf" stroke-width="0.7"/>
<line x1="143.75" y1="376.07" x2="143.75" y2="370.45" stroke="#c6addf" stroke-width="0.7"/>
<line x1="142.45" y1="370.45" x2="145.05" y2="370.45" stroke="#c6addf" stroke-width="0.7"/>
<line x1="142.45" y1="376.07" x2="145.05" y2="376.07" stroke="#c6addf" stroke-width="0.7"/>
<line x1="154.96" y1="384.50" x2="154.96" y2="378.88" stroke="#c6addf" stroke-width="0.7"/>
<line x1="153.66" y1="378.88" x2="156.26" y2="378.88" stroke="#c6addf" stroke-width="0.7"/>
<line x1="153.66" y1="384.50" x2="156.26" y2="384.50" stroke="#c6addf" stroke-width="0.7"/>
<line x1="166.17" y1="390.12" x2="166.17" y2="384.50" stroke="#c6addf" stroke-width="0.7"/>
<line x1="164.87" y1="384.50" x2="167.47" y2="384.50" stroke="#c6addf" stroke-width="0.7"/>
<line x1="164.87" y1="390.12" x2="167.47" y2="390.12" stroke="#c6addf" stroke-width="0.7"/>
<line x1="177.38" y1="393.50" x2="177.38" y2="390.12" stroke="#c6addf" stroke-width="0.7"/>
<line x1="176.08" y1="390.12" x2="178.68" y2="390.12" stroke="#c6addf" stroke-width="0.7"/>
<line x1="176.08" y1="393.50" x2="178.68" y2="393.50" stroke="#c6addf" stroke-width="0.7"/>
<line x1="64.10" y1="355.83" x2="64.10" y2="352.46" stroke="#93d3ac" stroke-width="0.7"/>
<line x1="62.80" y1="352.46" x2="65.40" y2="352.46" stroke="#93d3ac" stroke-width="0.7"/>
<line x1="62.80" y1="355.83" x2="65.40" y2="355.83" stroke="#93d3ac" stroke-width="0.7"/>
<line x1="76.49" y1="355.83" x2="76.49" y2="352.46" stroke="#93d3ac" stroke-width="0.7"/>
<line x1="75.19" y1="352.46" x2="77.79" y2="352.46" stroke="#93d3ac" stroke-width="0.7"/>
<line x1="75.19" y1="355.83" x2="77.79" y2="355.83" stroke="#93d3ac" stroke-width="0.7"/>
<line x1="87.70" y1="355.83" x2="87.70" y2="352.46" stroke="#93d3ac" stroke-width="0.7"/>
<line x1="86.40" y1="352.46" x2="89.00" y2="352.46" stroke="#93d3ac" stroke-width="0.7"/>
<line x1="86.40" y1="355.83" x2="89.00" y2="355.83" stroke="#93d3ac" stroke-width="0.7"/>
<line x1="98.91" y1="355.83" x2="98.91" y2="352.46" stroke="#93d3ac" stroke-width="0.7"/>
<line x1="97.61" y1="352.46" x2="100.21" y2="352.46" stroke="#93d3ac" stroke-width="0.7"/>
<line x1="97.61" y1="355.83" x2="100.21" y2="355.83" stroke="#93d3ac" stroke-width="0.7"/>
<line x1="110.12" y1="355.83" x2="110.12" y2="352.46" stroke="#93d3ac" stroke-width="0.7"/>
<line x1="108.82" y1="352.46" x2="111.42" y2="352.46" stroke="#93d3ac" stroke-width="0.7"/>
<line x1="108.82" y1="355.83" x2="111.42" y2="355.83" stroke="#93d3ac" stroke-width="0.7"/>
<line x1="121.33" y1="355.83" x2="121.33" y2="352.46" stroke="#93d3ac" stroke-width="0.7"/>
<line x1="120.03" y1="352.46" x2="122.63" y2="352.46" stroke="#93d3ac" stroke-width="0.7"/>
<line x1="120.03" y1="355.83" x2="122.63" y2="355.83" stroke="#93d3ac" stroke-width="0.7"/>
<line x1="132.54" y1="355.83" x2="132.54" y2="352.46" stroke="#93d3ac" stroke-width="0.7"/>
<line x1="131.24" y1="352.46" x2="133.84" y2="352.46" stroke="#93d3ac" stroke-width="0.7"/>
<line x1="131.24" y1="355.83" x2="133.84" y2="355.83" stroke="#93d3ac" stroke-width="0.7"/>
<line x1="143.75" y1="355.83" x2="143.75" y2="352.46" stroke="#93d3ac" stroke-width="0.7"/>
<line x1="142.45" y1="352.46" x2="145.05" y2="352.46" stroke="#93d3ac" stroke-width="0.7"/>
<line x1="142.45" y1="355.83" x2="145.05" y2="355.83" stroke="#93d3ac" stroke-width="0.7"/>
<line x1="154.96" y1="355.83" x2="154.96" y2="352.46" stroke="#93d3ac" stroke-width="0.7"/>
<line x1="153.66" y1="352.46" x2="156.26" y2="352.46" stroke="#93d3ac" stroke-width="0.7"/>
<line x1="153.66" y1="355.83" x2="156.26" y2="355.83" stroke="#93d3ac" stroke-width="0.7"/>
<line x1="166.17" y1="360.33" x2="166.17" y2="355.83" stroke="#93d3ac" stroke-width="0.7"/>
<line x1="164.87" y1="355.83" x2="167.47" y2="355.83" stroke="#93d3ac" stroke-width="0.7"/>
<line x1="164.87" y1="360.33" x2="167.47" y2="360.33" stroke="#93d3ac" stroke-width="0.7"/>
<line x1="177.38" y1="376.07" x2="177.38" y2="362.58" stroke="#93d3ac" stroke-width="0.7"/>
<line x1="176.08" y1="362.58" x2="178.68" y2="362.58" stroke="#93d3ac" stroke-width="0.7"/>
<line x1="176.08" y1="376.07" x2="178.68" y2="376.07" stroke="#93d3ac" stroke-width="0.7"/>
<line x1="64.10" y1="360.89" x2="64.10" y2="349.65" stroke="#f5a0a3" stroke-width="0.7"/>
<line x1="62.80" y1="349.65" x2="65.40" y2="349.65" stroke="#f5a0a3" stroke-width="0.7"/>
<line x1="62.80" y1="360.89" x2="65.40" y2="360.89" stroke="#f5a0a3" stroke-width="0.7"/>
<line x1="76.49" y1="361.46" x2="76.49" y2="354.71" stroke="#f5a0a3" stroke-width="0.7"/>
<line x1="75.19" y1="354.71" x2="77.79" y2="354.71" stroke="#f5a0a3" stroke-width="0.7"/>
<line x1="75.19" y1="361.46" x2="77.79" y2="361.46" stroke="#f5a0a3" stroke-width="0.7"/>
<line x1="87.70" y1="364.60" x2="87.70" y2="357.86" stroke="#f5a0a3" stroke-width="0.7"/>
<line x1="86.40" y1="357.86" x2="89.00" y2="357.86" stroke="#f5a0a3" stroke-width="0.7"/>
<line x1="86.40" y1="364.60" x2="89.00" y2="364.60" stroke="#f5a0a3" stroke-width="0.7"/>
<line x1="98.91" y1="365.00" x2="98.91" y2="356.00" stroke="#f5a0a3" stroke-width="0.7"/>
<line x1="97.61" y1="356.00" x2="100.21" y2="356.00" stroke="#f5a0a3" stroke-width="0.7"/>
<line x1="97.61" y1="365.00" x2="100.21" y2="365.00" stroke="#f5a0a3" stroke-width="0.7"/>
<line x1="110.12" y1="364.27" x2="110.12" y2="357.52" stroke="#f5a0a3" stroke-width="0.7"/>
<line x1="108.82" y1="357.52" x2="111.42" y2="357.52" stroke="#f5a0a3" stroke-width="0.7"/>
<line x1="108.82" y1="364.27" x2="111.42" y2="364.27" stroke="#f5a0a3" stroke-width="0.7"/>
<line x1="121.33" y1="370.90" x2="121.33" y2="364.15" stroke="#f5a0a3" stroke-width="0.7"/>
<line x1="120.03" y1="364.15" x2="122.63" y2="364.15" stroke="#f5a0a3" stroke-width="0.7"/>
<line x1="120.03" y1="370.90" x2="122.63" y2="370.90" stroke="#f5a0a3" stroke-width="0.7"/>
<line x1="132.54" y1="369.61" x2="132.54" y2="362.86" stroke="#f5a0a3" stroke-width="0.7"/>
<line x1="131.24" y1="362.86" x2="133.84" y2="362.86" stroke="#f5a0a3" stroke-width="0.7"/>
<line x1="131.24" y1="369.61" x2="133.84" y2="369.61" stroke="#f5a0a3" stroke-width="0.7"/>
<line x1="143.75" y1="378.66" x2="143.75" y2="369.66" stroke="#f5a0a3" stroke-width="0.7"/>
<line x1="142.45" y1="369.66" x2="145.05" y2="369.66" stroke="#f5a0a3" stroke-width="0.7"/>
<line x1="142.45" y1="378.66" x2="145.05" y2="378.66" stroke="#f5a0a3" stroke-width="0.7"/>
<line x1="154.96" y1="383.10" x2="154.96" y2="377.48" stroke="#f5a0a3" stroke-width="0.7"/>
<line x1="153.66" y1="377.48" x2="156.26" y2="377.48" stroke="#f5a0a3" stroke-width="0.7"/>
<line x1="153.66" y1="383.10" x2="156.26" y2="383.10" stroke="#f5a0a3" stroke-width="0.7"/>
<line x1="166.17" y1="389.39" x2="166.17" y2="382.65" stroke="#f5a0a3" stroke-width="0.7"/>
<line x1="164.87" y1="382.65" x2="167.47" y2="382.65" stroke="#f5a0a3" stroke-width="0.7"/>
<line x1="164.87" y1="389.39" x2="167.47" y2="389.39" stroke="#f5a0a3" stroke-width="0.7"/>
<line x1="177.38" y1="398.33" x2="177.38" y2="394.96" stroke="#f5a0a3" stroke-width="0.7"/>
<line x1="176.08" y1="394.96" x2="178.68" y2="394.96" stroke="#f5a0a3" stroke-width="0.7"/>
<line x1="176.08" y1="398.33" x2="178.68" y2="398.33" stroke="#f5a0a3" stroke-width="0.7"/>
<line x1="64.10" y1="360.33" x2="64.10" y2="346.84" stroke="#9fb3e0" stroke-width="0.7"/>
<line x1="62.80" y1="346.84" x2="65.40" y2="346.84" stroke="#9fb3e0" stroke-width="0.7"/>
<line x1="62.80" y1="360.33" x2="65.40" y2="360.33" stroke="#9fb3e0" stroke-width="0.7"/>
<line x1="76.49" y1="354.37" x2="76.49" y2="347.63" stroke="#9fb3e0" stroke-width="0.7"/>
<line x1="75.19" y1="347.63" x2="77.79" y2="347.63" stroke="#9fb3e0" stroke-width="0.7"/>
<line x1="75.19" y1="354.37" x2="77.79" y2="354.37" stroke="#9fb3e0" stroke-width="0.7"/>
<line x1="87.70" y1="355.61" x2="87.70" y2="344.37" stroke="#9fb3e0" stroke-width="0.7"/>
<line x1="86.40" y1="344.37" x2="89.00" y2="344.37" stroke="#9fb3e0" stroke-width="0.7"/>
<line x1="86.40" y1="355.61" x2="89.00" y2="355.61" stroke="#9fb3e0" stroke-width="0.7"/>
<line x1="98.91" y1="361.74" x2="98.91" y2="350.49" stroke="#9fb3e0" stroke-width="0.7"/>
<line x1="97.61" y1="350.49" x2="100.21" y2="350.49" stroke="#9fb3e0" stroke-width="0.7"/>
<line x1="97.61" y1="361.74" x2="100.21" y2="361.74" stroke="#9fb3e0" stroke-width="0.7"/>
<line x1="110.12" y1="352.18" x2="110.12" y2="340.94" stroke="#9fb3e0" stroke-width="0.7"/>
<line x1="108.82" y1="340.94" x2="111.42" y2="340.94" stroke="#9fb3e0" stroke-width="0.7"/>
<line x1="108.82" y1="352.18" x2="111.42" y2="352.18" stroke="#9fb3e0" stroke-width="0.7"/>
<line x1="121.33" y1="355.61" x2="121.33" y2="338.75" stroke="#9fb3e0" stroke-width="0.7"/>
<line x1="120.03" y1="338.75" x2="122.63" y2="338.75" stroke="#9fb3e0" stroke-width="0.7"/>
<line x1="120.03" y1="355.61" x2="122.63" y2="355.61" stroke="#9fb3e0" stroke-width="0.7"/>
<line x1="132.54" y1="356.23" x2="132.54" y2="342.74" stroke="#9fb3e0" stroke-width="0.7"/>
<line x1="131.24" y1="342.74" x2="133.84" y2="342.74" stroke="#9fb3e0" stroke-width="0.7"/>
<line x1="131.24" y1="356.23" x2="133.84" y2="356.23" stroke="#9fb3e0" stroke-width="0.7"/>
<line x1="143.75" y1="358.08" x2="143.75" y2="349.09" stroke="#9fb3e0" stroke-width="0.7"/>
<line x1="142.45" y1="349.09" x2="145.05" y2="349.09" stroke="#9fb3e0" stroke-width="0.7"/>
<line x1="142.45" y1="358.08" x2="145.05" y2="358.08" stroke="#9fb3e0" stroke-width="0.7"/>
<line x1="154.96" y1="365.45" x2="154.96" y2="337.34" stroke="#9fb3e0" stroke-width="0.7"/>
<line x1="153.66" y1="337.34" x2="156.26" y2="337.34" stroke="#9fb3e0" stroke-width="0.7"/>
<line x1="153.66" y1="365.45" x2="156.26" y2="365.45" stroke="#9fb3e0" stroke-width="0.7"/>
<line x1="166.17" y1="352.91" x2="166.17" y2="339.42" stroke="#9fb3e0" stroke-width="0.7"/>
<line x1="164.87" y1="339.42" x2="167.47" y2="339.42" stroke="#9fb3e0" stroke-width="0.7"/>
<line x1="164.87" y1="352.91" x2="167.47" y2="352.91" stroke="#9fb3e0" stroke-width="0.7"/>
<line x1="177.38" y1="368.99" x2="177.38" y2="355.50" stroke="#9fb3e0" stroke-width="0.7"/>
<line x1="176.08" y1="355.50" x2="178.68" y2="355.50" stroke="#9fb3e0" stroke-width="0.7"/>
<line x1="176.08" y1="368.99" x2="178.68" y2="368.99" stroke="#9fb3e0" stroke-width="0.7"/>
<circle cx="64.10" cy="362.02" r="2.15" fill="#111111" stroke="none" stroke-width="0.5"/>
<circle cx="76.49" cy="365.95" r="2.15" fill="#111111" stroke="none" stroke-width="0.5"/>
<circle cx="87.70" cy="365.67" r="2.15" fill="#111111" stroke="none" stroke-width="0.5"/>
<circle cx="98.91" cy="368.54" r="2.15" fill="#111111" stroke="none" stroke-width="0.5"/>
<circle cx="110.12" cy="354.71" r="2.15" fill="#111111" stroke="none" stroke-width="0.5"/>
<circle cx="121.33" cy="367.64" r="2.15" fill="#111111" stroke="none" stroke-width="0.5"/>
<circle cx="132.54" cy="359.21" r="2.15" fill="#111111" stroke="none" stroke-width="0.5"/>
<circle cx="143.75" cy="359.21" r="2.15" fill="#111111" stroke="none" stroke-width="0.5"/>
<circle cx="154.96" cy="348.08" r="2.15" fill="#111111" stroke="none" stroke-width="0.5"/>
<circle cx="166.17" cy="364.88" r="2.15" fill="#111111" stroke="none" stroke-width="0.5"/>
<circle cx="177.38" cy="353.59" r="2.15" fill="#111111" stroke="none" stroke-width="0.5"/>
<path d="M64.10,351.79 L65.60,353.59 L64.10,355.39 L62.60,353.59Z" fill="#f59a36" stroke="none" stroke-width="1"/>
<path d="M76.49,365.73 L77.99,367.53 L76.49,369.33 L74.99,367.53Z" fill="#f59a36" stroke="none" stroke-width="1"/>
<path d="M87.70,363.03 L89.20,364.83 L87.70,366.63 L86.20,364.83Z" fill="#f59a36" stroke="none" stroke-width="1"/>
<path d="M98.91,363.03 L100.41,364.83 L98.91,366.63 L97.41,364.83Z" fill="#f59a36" stroke="none" stroke-width="1"/>
<path d="M110.12,363.59 L111.62,365.39 L110.12,367.19 L108.62,365.39Z" fill="#f59a36" stroke="none" stroke-width="1"/>
<path d="M121.33,361.90 L122.83,363.70 L121.33,365.50 L119.83,363.70Z" fill="#f59a36" stroke="none" stroke-width="1"/>
<path d="M132.54,360.78 L134.04,362.58 L132.54,364.38 L131.04,362.58Z" fill="#f59a36" stroke="none" stroke-width="1"/>
<path d="M143.75,360.22 L145.25,362.02 L143.75,363.82 L142.25,362.02Z" fill="#f59a36" stroke="none" stroke-width="1"/>
<path d="M154.96,359.66 L156.46,361.46 L154.96,363.26 L153.46,361.46Z" fill="#f59a36" stroke="none" stroke-width="1"/>
<path d="M166.17,375.96 L167.67,377.76 L166.17,379.56 L164.67,377.76Z" fill="#f59a36" stroke="none" stroke-width="1"/>
<path d="M177.38,382.70 L178.88,384.50 L177.38,386.30 L175.88,384.50Z" fill="#f59a36" stroke="none" stroke-width="1"/>
<path d="M64.10,355.69 L66.10,352.09 L62.10,352.09Z" fill="#8c5cc0" stroke="none" stroke-width="1"/>
<path d="M76.49,356.81 L78.49,353.21 L74.49,353.21Z" fill="#8c5cc0" stroke="none" stroke-width="1"/>
<path d="M87.70,358.50 L89.70,354.90 L85.70,354.90Z" fill="#8c5cc0" stroke="none" stroke-width="1"/>
<path d="M98.91,356.81 L100.91,353.21 L96.91,353.21Z" fill="#8c5cc0" stroke="none" stroke-width="1"/>
<path d="M110.12,357.37 L112.12,353.77 L108.12,353.77Z" fill="#8c5cc0" stroke="none" stroke-width="1"/>
<path d="M121.33,364.12 L123.33,360.52 L119.33,360.52Z" fill="#8c5cc0" stroke="none" stroke-width="1"/>
<path d="M132.54,368.05 L134.54,364.45 L130.54,364.45Z" fill="#8c5cc0" stroke="none" stroke-width="1"/>
<path d="M143.75,375.36 L145.75,371.76 L141.75,371.76Z" fill="#8c5cc0" stroke="none" stroke-width="1"/>
<path d="M154.96,383.79 L156.96,380.19 L152.96,380.19Z" fill="#8c5cc0" stroke="none" stroke-width="1"/>
<path d="M166.17,389.41 L168.17,385.81 L164.17,385.81Z" fill="#8c5cc0" stroke="none" stroke-width="1"/>
<path d="M177.38,393.91 L179.38,390.31 L175.38,390.31Z" fill="#8c5cc0" stroke="none" stroke-width="1"/>
<path d="M64.10,352.05 L66.10,355.65 L62.10,355.65Z" fill="#25a558" stroke="none" stroke-width="1"/>
<path d="M76.49,352.05 L78.49,355.65 L74.49,355.65Z" fill="#25a558" stroke="none" stroke-width="1"/>
<path d="M87.70,352.05 L89.70,355.65 L85.70,355.65Z" fill="#25a558" stroke="none" stroke-width="1"/>
<path d="M98.91,352.05 L100.91,355.65 L96.91,355.65Z" fill="#25a558" stroke="none" stroke-width="1"/>
<path d="M110.12,352.05 L112.12,355.65 L108.12,355.65Z" fill="#25a558" stroke="none" stroke-width="1"/>
<path d="M121.33,352.05 L123.33,355.65 L119.33,355.65Z" fill="#25a558" stroke="none" stroke-width="1"/>
<path d="M132.54,352.05 L134.54,355.65 L130.54,355.65Z" fill="#25a558" stroke="none" stroke-width="1"/>
<path d="M143.75,352.05 L145.75,355.65 L141.75,355.65Z" fill="#25a558" stroke="none" stroke-width="1"/>
<path d="M154.96,352.05 L156.96,355.65 L152.96,355.65Z" fill="#25a558" stroke="none" stroke-width="1"/>
<path d="M166.17,355.98 L168.17,359.58 L164.17,359.58Z" fill="#25a558" stroke="none" stroke-width="1"/>
<path d="M177.38,367.23 L179.38,370.83 L175.38,370.83Z" fill="#25a558" stroke="none" stroke-width="1"/>
<rect x="62.35" y="353.52" width="3.50" height="3.50" fill="#ec3038" stroke="none" stroke-width="1"/>
<rect x="74.74" y="356.33" width="3.50" height="3.50" fill="#ec3038" stroke="none" stroke-width="1"/>
<rect x="85.95" y="359.48" width="3.50" height="3.50" fill="#ec3038" stroke="none" stroke-width="1"/>
<rect x="97.16" y="358.75" width="3.50" height="3.50" fill="#ec3038" stroke="none" stroke-width="1"/>
<rect x="108.37" y="359.14" width="3.50" height="3.50" fill="#ec3038" stroke="none" stroke-width="1"/>
<rect x="119.58" y="365.78" width="3.50" height="3.50" fill="#ec3038" stroke="none" stroke-width="1"/>
<rect x="130.79" y="364.48" width="3.50" height="3.50" fill="#ec3038" stroke="none" stroke-width="1"/>
<rect x="142.00" y="372.41" width="3.50" height="3.50" fill="#ec3038" stroke="none" stroke-width="1"/>
<rect x="153.21" y="378.54" width="3.50" height="3.50" fill="#ec3038" stroke="none" stroke-width="1"/>
<rect x="164.42" y="384.27" width="3.50" height="3.50" fill="#ec3038" stroke="none" stroke-width="1"/>
<rect x="175.63" y="394.90" width="3.50" height="3.50" fill="#ec3038" stroke="none" stroke-width="1"/>
<circle cx="64.10" cy="353.59" r="1.90" fill="#3a62bc" stroke="none" stroke-width="0.5"/>
<circle cx="76.49" cy="351.00" r="1.90" fill="#3a62bc" stroke="none" stroke-width="0.5"/>
<circle cx="87.70" cy="349.99" r="1.90" fill="#3a62bc" stroke="none" stroke-width="0.5"/>
<circle cx="98.91" cy="356.12" r="1.90" fill="#3a62bc" stroke="none" stroke-width="0.5"/>
<circle cx="110.12" cy="346.56" r="1.90" fill="#3a62bc" stroke="none" stroke-width="0.5"/>
<circle cx="121.33" cy="347.18" r="1.90" fill="#3a62bc" stroke="none" stroke-width="0.5"/>
<circle cx="132.54" cy="349.48" r="1.90" fill="#3a62bc" stroke="none" stroke-width="0.5"/>
<circle cx="143.75" cy="353.59" r="1.90" fill="#3a62bc" stroke="none" stroke-width="0.5"/>
<circle cx="154.96" cy="351.39" r="1.90" fill="#3a62bc" stroke="none" stroke-width="0.5"/>
<circle cx="166.17" cy="346.17" r="1.90" fill="#3a62bc" stroke="none" stroke-width="0.5"/>
<circle cx="177.38" cy="362.24" r="1.90" fill="#3a62bc" stroke="none" stroke-width="0.5"/>
<line x1="59.50" y1="330.60" x2="59.50" y2="410.50" stroke="#111" stroke-width="1"/>
<line x1="57.60" y1="410.50" x2="177.90" y2="410.50" stroke="#111" stroke-width="1"/>
<line x1="56.20" y1="409.80" x2="59.60" y2="409.80" stroke="#111" stroke-width="0.9"/>
<text x="54.70" y="412.70" font-size="8.2" text-anchor="end" fill="#111" stroke="#111" stroke-width="0.18">0</text>
<line x1="56.20" y1="398.56" x2="59.60" y2="398.56" stroke="#111" stroke-width="0.9"/>
<text x="54.70" y="401.46" font-size="8.2" text-anchor="end" fill="#111" stroke="#111" stroke-width="0.18">20</text>
<line x1="56.20" y1="387.31" x2="59.60" y2="387.31" stroke="#111" stroke-width="0.9"/>
<text x="54.70" y="390.21" font-size="8.2" text-anchor="end" fill="#111" stroke="#111" stroke-width="0.18">40</text>
<line x1="56.20" y1="376.07" x2="59.60" y2="376.07" stroke="#111" stroke-width="0.9"/>
<text x="54.70" y="378.97" font-size="8.2" text-anchor="end" fill="#111" stroke="#111" stroke-width="0.18">60</text>
<line x1="56.20" y1="364.83" x2="59.60" y2="364.83" stroke="#111" stroke-width="0.9"/>
<text x="54.70" y="367.73" font-size="8.2" text-anchor="end" fill="#111" stroke="#111" stroke-width="0.18">80</text>
<line x1="56.20" y1="353.59" x2="59.60" y2="353.59" stroke="#111" stroke-width="0.9"/>
<text x="54.70" y="356.49" font-size="8.2" text-anchor="end" fill="#111" stroke="#111" stroke-width="0.18">100</text>
<line x1="56.20" y1="342.34" x2="59.60" y2="342.34" stroke="#111" stroke-width="0.9"/>
<text x="54.70" y="345.24" font-size="8.2" text-anchor="end" fill="#111" stroke="#111" stroke-width="0.18">120</text>
<line x1="56.20" y1="331.10" x2="59.60" y2="331.10" stroke="#111" stroke-width="0.9"/>
<text x="54.70" y="334.00" font-size="8.2" text-anchor="end" fill="#111" stroke="#111" stroke-width="0.18">140</text>
<line x1="83.40" y1="410.10" x2="83.40" y2="413.30" stroke="#111" stroke-width="0.9"/>
<text x="83.40" y="426.50" font-size="8.2" text-anchor="middle" fill="#111" stroke="#111" stroke-width="0.18">0</text>
<line x1="106.90" y1="410.10" x2="106.90" y2="413.30" stroke="#111" stroke-width="0.9"/>
<text x="106.90" y="426.50" font-size="8.2" text-anchor="middle" fill="#111" stroke="#111" stroke-width="0.18">1</text>
<line x1="130.40" y1="410.10" x2="130.40" y2="413.30" stroke="#111" stroke-width="0.9"/>
<text x="130.40" y="426.50" font-size="8.2" text-anchor="middle" fill="#111" stroke="#111" stroke-width="0.18">2</text>
<line x1="153.90" y1="410.10" x2="153.90" y2="413.30" stroke="#111" stroke-width="0.9"/>
<text x="153.90" y="426.50" font-size="8.2" text-anchor="middle" fill="#111" stroke="#111" stroke-width="0.18">3</text>
<line x1="177.40" y1="410.10" x2="177.40" y2="413.30" stroke="#111" stroke-width="0.9"/>
<text x="177.40" y="426.50" font-size="8.2" text-anchor="middle" fill="#111" stroke="#111" stroke-width="0.18">4</text>
<line x1="64.10" y1="410.10" x2="64.10" y2="413.30" stroke="#111" stroke-width="0.9"/>
<text x="0.00" y="0.00" transform="translate(67.10,414.80) rotate(-90)" font-size="8.2" text-anchor="end" fill="#111" stroke="#111" stroke-width="0.18">DMSO</text>
<text x="122.18" y="437.90" font-size="8.1" text-anchor="middle" fill="#111" stroke="#111" stroke-width="0.18">conc (log nM)</text>
<text x="0.00" y="0.00" transform="translate(38.20,370.30) rotate(-90)" font-size="8.2" text-anchor="middle" fill="#111" stroke="#111" stroke-width="0.18">% of viability</text>
<text x="111.60" y="321.50" font-size="8.2" text-anchor="middle" fill="#111" stroke="#111" stroke-width="0.18">Enzalutamide</text>
<line x1="130.40" y1="356.40" x2="177.40" y2="356.40" stroke="#111" stroke-width="0.8"/>
<line x1="338.90" y1="326.50" x2="338.90" y2="410.00" stroke="#8a8a8a" stroke-width="0.7" stroke-dasharray="2,1.6"/>
<path d="M249.13,348.13 L251.02,348.13 L252.91,348.13 L254.79,348.13 L256.68,348.13 L258.57,348.13 L260.46,348.13 L262.34,348.13 L264.23,348.13 L266.12,348.13 L268.01,348.13 L269.90,348.13 L271.78,348.13 L273.67,348.13 L275.56,348.13 L277.45,348.13 L279.34,348.13 L281.22,348.13 L283.11,348.13 L285.00,348.13 L286.89,348.13 L288.77,348.13 L290.66,348.13 L292.55,348.13 L294.44,348.13 L296.33,348.13 L298.21,348.13 L300.10,348.13 L301.99,348.13 L303.88,348.13 L305.76,348.13 L307.65,348.13 L309.54,348.13 L311.43,348.13 L313.32,348.13 L315.20,348.13 L317.09,348.13 L318.98,348.13 L320.87,348.13 L322.76,348.13 L324.64,348.13 L326.53,348.13 L328.42,348.13 L330.31,348.13 L332.19,348.13 L334.08,348.13 L335.97,348.13 L337.86,348.13 L339.75,348.13 L341.63,353.89 L343.52,360.87 L345.41,365.50 L347.30,365.50 L349.19,365.50 L351.07,365.50 L352.96,365.50 L354.85,365.50 L356.74,365.50 L358.62,365.50 L360.51,365.50 L362.40,365.50" fill="none" stroke="#111111" stroke-width="0.8" stroke-linejoin="round"/>
<path d="M249.13,355.27 L251.02,355.27 L252.91,355.27 L254.79,355.27 L256.68,355.27 L258.57,355.27 L260.46,355.27 L262.34,355.27 L264.23,355.27 L266.12,355.27 L268.01,355.27 L269.90,355.27 L271.78,355.27 L273.67,355.27 L275.56,355.27 L277.45,355.27 L279.34,355.27 L281.22,355.27 L283.11,355.27 L285.00,355.27 L286.89,355.27 L288.77,355.27 L290.66,355.27 L292.55,355.27 L294.44,355.27 L296.33,355.27 L298.21,355.27 L300.10,355.27 L301.99,355.27 L303.88,355.27 L305.76,355.27 L307.65,355.27 L309.54,355.27 L311.43,355.27 L313.32,355.27 L315.20,355.27 L317.09,355.27 L318.98,355.27 L320.87,355.27 L322.76,355.27 L324.64,355.27 L326.53,355.27 L328.42,355.27 L330.31,355.27 L332.19,355.27 L334.08,355.27 L335.97,355.27 L337.86,355.27 L339.75,359.02 L341.63,367.37 L343.52,375.72 L345.41,376.07 L347.30,376.07 L349.19,376.07 L351.07,376.07 L352.96,376.07 L354.85,376.07 L356.74,376.07 L358.62,376.07 L360.51,376.07 L362.40,376.07" fill="none" stroke="#25a558" stroke-width="0.8" stroke-linejoin="round"/>
<path d="M249.13,354.86 L251.02,354.88 L252.91,354.90 L254.79,354.92 L256.68,354.94 L258.57,354.96 L260.46,354.99 L262.34,355.02 L264.23,355.05 L266.12,355.09 L268.01,355.13 L269.90,355.17 L271.78,355.22 L273.67,355.27 L275.56,355.33 L277.45,355.40 L279.34,355.47 L281.22,355.55 L283.11,355.64 L285.00,355.73 L286.89,355.84 L288.77,355.96 L290.66,356.09 L292.55,356.23 L294.44,356.39 L296.33,356.56 L298.21,356.75 L300.10,356.95 L301.99,357.18 L303.88,357.42 L305.76,357.69 L307.65,357.99 L309.54,358.31 L311.43,358.66 L313.32,359.04 L315.20,359.45 L317.09,359.89 L318.98,360.37 L320.87,360.88 L322.76,361.43 L324.64,362.03 L326.53,362.66 L328.42,363.33 L330.31,364.04 L332.19,364.80 L334.08,365.59 L335.97,366.42 L337.86,367.29 L339.75,368.20 L341.63,369.13 L343.52,370.10 L345.41,371.09 L347.30,372.10 L349.19,373.13 L351.07,374.16 L352.96,375.21 L354.85,376.25 L356.74,377.29 L358.62,378.31 L360.51,379.33 L362.40,380.32" fill="none" stroke="#3a62bc" stroke-width="0.8" stroke-linejoin="round"/>
<path d="M249.13,360.34 L251.02,360.34 L252.91,360.35 L254.79,360.35 L256.68,360.35 L258.57,360.36 L260.46,360.36 L262.34,360.36 L264.23,360.37 L266.12,360.38 L268.01,360.39 L269.90,360.40 L271.78,360.41 L273.67,360.42 L275.56,360.44 L277.45,360.46 L279.34,360.48 L281.22,360.51 L283.11,360.54 L285.00,360.57 L286.89,360.62 L288.77,360.67 L290.66,360.73 L292.55,360.80 L294.44,360.88 L296.33,360.98 L298.21,361.10 L300.10,361.23 L301.99,361.39 L303.88,361.58 L305.76,361.80 L307.65,362.05 L309.54,362.35 L311.43,362.70 L313.32,363.10 L315.20,363.56 L317.09,364.09 L318.98,364.71 L320.87,365.40 L322.76,366.20 L324.64,367.09 L326.53,368.09 L328.42,369.21 L330.31,370.43 L332.19,371.77 L334.08,373.22 L335.97,374.77 L337.86,376.40 L339.75,378.10 L341.63,379.85 L343.52,381.62 L345.41,383.39 L347.30,385.14 L349.19,386.85 L351.07,388.49 L352.96,390.04 L354.85,391.50 L356.74,392.85 L358.62,394.08 L360.51,395.21 L362.40,396.22" fill="none" stroke="#f59a36" stroke-width="0.8" stroke-linejoin="round"/>
<path d="M249.13,358.19 L251.02,358.21 L252.91,358.23 L254.79,358.25 L256.68,358.27 L258.57,358.30 L260.46,358.32 L262.34,358.36 L264.23,358.40 L266.12,358.44 L268.01,358.49 L269.90,358.54 L271.78,358.61 L273.67,358.68 L275.56,358.76 L277.45,358.85 L279.34,358.95 L281.22,359.07 L283.11,359.21 L285.00,359.36 L286.89,359.53 L288.77,359.72 L290.66,359.94 L292.55,360.18 L294.44,360.45 L296.33,360.76 L298.21,361.11 L300.10,361.49 L301.99,361.93 L303.88,362.41 L305.76,362.94 L307.65,363.53 L309.54,364.18 L311.43,364.90 L313.32,365.68 L315.20,366.53 L317.09,367.46 L318.98,368.45 L320.87,369.52 L322.76,370.66 L324.64,371.87 L326.53,373.13 L328.42,374.46 L330.31,375.83 L332.19,377.23 L334.08,378.67 L335.97,380.12 L337.86,381.58 L339.75,383.02 L341.63,384.45 L343.52,385.84 L345.41,387.20 L347.30,388.50 L349.19,389.74 L351.07,390.93 L352.96,392.04 L354.85,393.08 L356.74,394.05 L358.62,394.94 L360.51,395.77 L362.40,396.53" fill="none" stroke="#8c5cc0" stroke-width="0.8" stroke-linejoin="round"/>
<path d="M249.13,355.36 L251.02,355.38 L252.91,355.39 L254.79,355.41 L256.68,355.43 L258.57,355.45 L260.46,355.48 L262.34,355.51 L264.23,355.54 L266.12,355.58 L268.01,355.62 L269.90,355.67 L271.78,355.72 L273.67,355.79 L275.56,355.86 L277.45,355.94 L279.34,356.04 L281.22,356.14 L283.11,356.26 L285.00,356.40 L286.89,356.56 L288.77,356.74 L290.66,356.94 L292.55,357.17 L294.44,357.42 L296.33,357.72 L298.21,358.04 L300.10,358.41 L301.99,358.83 L303.88,359.29 L305.76,359.81 L307.65,360.39 L309.54,361.03 L311.43,361.74 L313.32,362.52 L315.20,363.37 L317.09,364.31 L318.98,365.33 L320.87,366.42 L322.76,367.60 L324.64,368.86 L326.53,370.19 L328.42,371.59 L330.31,373.05 L332.19,374.56 L334.08,376.11 L335.97,377.69 L337.86,379.28 L339.75,380.86 L341.63,382.44 L343.52,383.98 L345.41,385.49 L347.30,386.94 L349.19,388.33 L351.07,389.65 L352.96,390.89 L354.85,392.06 L356.74,393.15 L358.62,394.15 L360.51,395.08 L362.40,395.92" fill="none" stroke="#ec3038" stroke-width="0.8" stroke-linejoin="round"/>
<line x1="261.49" y1="354.77" x2="261.49" y2="337.90" stroke="#555555" stroke-width="0.7"/>
<line x1="260.19" y1="337.90" x2="262.79" y2="337.90" stroke="#555555" stroke-width="0.7"/>
<line x1="260.19" y1="354.77" x2="262.79" y2="354.77" stroke="#555555" stroke-width="0.7"/>
<line x1="272.70" y1="366.12" x2="272.70" y2="332.39" stroke="#555555" stroke-width="0.7"/>
<line x1="271.40" y1="332.39" x2="274.00" y2="332.39" stroke="#555555" stroke-width="0.7"/>
<line x1="271.40" y1="366.12" x2="274.00" y2="366.12" stroke="#555555" stroke-width="0.7"/>
<line x1="283.91" y1="366.12" x2="283.91" y2="332.39" stroke="#555555" stroke-width="0.7"/>
<line x1="282.61" y1="332.39" x2="285.21" y2="332.39" stroke="#555555" stroke-width="0.7"/>
<line x1="282.61" y1="366.12" x2="285.21" y2="366.12" stroke="#555555" stroke-width="0.7"/>
<line x1="295.12" y1="363.54" x2="295.12" y2="332.06" stroke="#555555" stroke-width="0.7"/>
<line x1="293.82" y1="332.06" x2="296.42" y2="332.06" stroke="#555555" stroke-width="0.7"/>
<line x1="293.82" y1="363.54" x2="296.42" y2="363.54" stroke="#555555" stroke-width="0.7"/>
<line x1="306.33" y1="355.38" x2="306.33" y2="332.90" stroke="#555555" stroke-width="0.7"/>
<line x1="305.03" y1="332.90" x2="307.63" y2="332.90" stroke="#555555" stroke-width="0.7"/>
<line x1="305.03" y1="355.38" x2="307.63" y2="355.38" stroke="#555555" stroke-width="0.7"/>
<line x1="317.54" y1="362.41" x2="317.54" y2="337.68" stroke="#555555" stroke-width="0.7"/>
<line x1="316.24" y1="337.68" x2="318.84" y2="337.68" stroke="#555555" stroke-width="0.7"/>
<line x1="316.24" y1="362.41" x2="318.84" y2="362.41" stroke="#555555" stroke-width="0.7"/>
<line x1="328.75" y1="350.04" x2="328.75" y2="336.55" stroke="#555555" stroke-width="0.7"/>
<line x1="327.45" y1="336.55" x2="330.05" y2="336.55" stroke="#555555" stroke-width="0.7"/>
<line x1="327.45" y1="350.04" x2="330.05" y2="350.04" stroke="#555555" stroke-width="0.7"/>
<line x1="339.96" y1="354.15" x2="339.96" y2="345.15" stroke="#555555" stroke-width="0.7"/>
<line x1="338.66" y1="345.15" x2="341.26" y2="345.15" stroke="#555555" stroke-width="0.7"/>
<line x1="338.66" y1="354.15" x2="341.26" y2="354.15" stroke="#555555" stroke-width="0.7"/>
<line x1="351.17" y1="370.90" x2="351.17" y2="364.15" stroke="#555555" stroke-width="0.7"/>
<line x1="349.87" y1="364.15" x2="352.47" y2="364.15" stroke="#555555" stroke-width="0.7"/>
<line x1="349.87" y1="370.90" x2="352.47" y2="370.90" stroke="#555555" stroke-width="0.7"/>
<line x1="362.38" y1="378.15" x2="362.38" y2="350.04" stroke="#555555" stroke-width="0.7"/>
<line x1="361.08" y1="350.04" x2="363.68" y2="350.04" stroke="#555555" stroke-width="0.7"/>
<line x1="361.08" y1="378.15" x2="363.68" y2="378.15" stroke="#555555" stroke-width="0.7"/>
<line x1="249.10" y1="376.07" x2="249.10" y2="342.34" stroke="#f9c990" stroke-width="0.7"/>
<line x1="247.80" y1="342.34" x2="250.40" y2="342.34" stroke="#f9c990" stroke-width="0.7"/>
<line x1="247.80" y1="376.07" x2="250.40" y2="376.07" stroke="#f9c990" stroke-width="0.7"/>
<line x1="261.49" y1="371.01" x2="261.49" y2="350.77" stroke="#f9c990" stroke-width="0.7"/>
<line x1="260.19" y1="350.77" x2="262.79" y2="350.77" stroke="#f9c990" stroke-width="0.7"/>
<line x1="260.19" y1="371.01" x2="262.79" y2="371.01" stroke="#f9c990" stroke-width="0.7"/>
<line x1="272.70" y1="371.57" x2="272.70" y2="358.08" stroke="#f9c990" stroke-width="0.7"/>
<line x1="271.40" y1="358.08" x2="274.00" y2="358.08" stroke="#f9c990" stroke-width="0.7"/>
<line x1="271.40" y1="371.57" x2="274.00" y2="371.57" stroke="#f9c990" stroke-width="0.7"/>
<line x1="283.91" y1="371.41" x2="283.91" y2="362.41" stroke="#f9c990" stroke-width="0.7"/>
<line x1="282.61" y1="362.41" x2="285.21" y2="362.41" stroke="#f9c990" stroke-width="0.7"/>
<line x1="282.61" y1="371.41" x2="285.21" y2="371.41" stroke="#f9c990" stroke-width="0.7"/>
<line x1="295.12" y1="367.08" x2="295.12" y2="358.08" stroke="#f9c990" stroke-width="0.7"/>
<line x1="293.82" y1="358.08" x2="296.42" y2="358.08" stroke="#f9c990" stroke-width="0.7"/>
<line x1="293.82" y1="367.08" x2="296.42" y2="367.08" stroke="#f9c990" stroke-width="0.7"/>
<line x1="306.33" y1="372.36" x2="306.33" y2="365.62" stroke="#f9c990" stroke-width="0.7"/>
<line x1="305.03" y1="365.62" x2="307.63" y2="365.62" stroke="#f9c990" stroke-width="0.7"/>
<line x1="305.03" y1="372.36" x2="307.63" y2="372.36" stroke="#f9c990" stroke-width="0.7"/>
<line x1="317.54" y1="366.51" x2="317.54" y2="355.27" stroke="#f9c990" stroke-width="0.7"/>
<line x1="316.24" y1="355.27" x2="318.84" y2="355.27" stroke="#f9c990" stroke-width="0.7"/>
<line x1="316.24" y1="366.51" x2="318.84" y2="366.51" stroke="#f9c990" stroke-width="0.7"/>
<line x1="328.75" y1="375.23" x2="328.75" y2="368.48" stroke="#f9c990" stroke-width="0.7"/>
<line x1="327.45" y1="368.48" x2="330.05" y2="368.48" stroke="#f9c990" stroke-width="0.7"/>
<line x1="327.45" y1="375.23" x2="330.05" y2="375.23" stroke="#f9c990" stroke-width="0.7"/>
<line x1="339.96" y1="376.91" x2="339.96" y2="370.17" stroke="#f9c990" stroke-width="0.7"/>
<line x1="338.66" y1="370.17" x2="341.26" y2="370.17" stroke="#f9c990" stroke-width="0.7"/>
<line x1="338.66" y1="376.91" x2="341.26" y2="376.91" stroke="#f9c990" stroke-width="0.7"/>
<line x1="351.17" y1="394.23" x2="351.17" y2="388.61" stroke="#f9c990" stroke-width="0.7"/>
<line x1="349.87" y1="388.61" x2="352.47" y2="388.61" stroke="#f9c990" stroke-width="0.7"/>
<line x1="349.87" y1="394.23" x2="352.47" y2="394.23" stroke="#f9c990" stroke-width="0.7"/>
<line x1="362.38" y1="399.85" x2="362.38" y2="396.48" stroke="#f9c990" stroke-width="0.7"/>
<line x1="361.08" y1="396.48" x2="363.68" y2="396.48" stroke="#f9c990" stroke-width="0.7"/>
<line x1="361.08" y1="399.85" x2="363.68" y2="399.85" stroke="#f9c990" stroke-width="0.7"/>
<line x1="249.10" y1="364.94" x2="249.10" y2="351.45" stroke="#c6addf" stroke-width="0.7"/>
<line x1="247.80" y1="351.45" x2="250.40" y2="351.45" stroke="#c6addf" stroke-width="0.7"/>
<line x1="247.80" y1="364.94" x2="250.40" y2="364.94" stroke="#c6addf" stroke-width="0.7"/>
<line x1="261.49" y1="364.83" x2="261.49" y2="353.59" stroke="#c6addf" stroke-width="0.7"/>
<line x1="260.19" y1="353.59" x2="262.79" y2="353.59" stroke="#c6addf" stroke-width="0.7"/>
<line x1="260.19" y1="364.83" x2="262.79" y2="364.83" stroke="#c6addf" stroke-width="0.7"/>
<line x1="272.70" y1="364.83" x2="272.70" y2="355.83" stroke="#c6addf" stroke-width="0.7"/>
<line x1="271.40" y1="355.83" x2="274.00" y2="355.83" stroke="#c6addf" stroke-width="0.7"/>
<line x1="271.40" y1="364.83" x2="274.00" y2="364.83" stroke="#c6addf" stroke-width="0.7"/>
<line x1="283.91" y1="365.39" x2="283.91" y2="356.40" stroke="#c6addf" stroke-width="0.7"/>
<line x1="282.61" y1="356.40" x2="285.21" y2="356.40" stroke="#c6addf" stroke-width="0.7"/>
<line x1="282.61" y1="365.39" x2="285.21" y2="365.39" stroke="#c6addf" stroke-width="0.7"/>
<line x1="295.12" y1="365.95" x2="295.12" y2="356.96" stroke="#c6addf" stroke-width="0.7"/>
<line x1="293.82" y1="356.96" x2="296.42" y2="356.96" stroke="#c6addf" stroke-width="0.7"/>
<line x1="293.82" y1="365.95" x2="296.42" y2="365.95" stroke="#c6addf" stroke-width="0.7"/>
<line x1="306.33" y1="367.08" x2="306.33" y2="360.33" stroke="#c6addf" stroke-width="0.7"/>
<line x1="305.03" y1="360.33" x2="307.63" y2="360.33" stroke="#c6addf" stroke-width="0.7"/>
<line x1="305.03" y1="367.08" x2="307.63" y2="367.08" stroke="#c6addf" stroke-width="0.7"/>
<line x1="317.54" y1="374.95" x2="317.54" y2="368.20" stroke="#c6addf" stroke-width="0.7"/>
<line x1="316.24" y1="368.20" x2="318.84" y2="368.20" stroke="#c6addf" stroke-width="0.7"/>
<line x1="316.24" y1="374.95" x2="318.84" y2="374.95" stroke="#c6addf" stroke-width="0.7"/>
<line x1="328.75" y1="382.25" x2="328.75" y2="375.51" stroke="#c6addf" stroke-width="0.7"/>
<line x1="327.45" y1="375.51" x2="330.05" y2="375.51" stroke="#c6addf" stroke-width="0.7"/>
<line x1="327.45" y1="382.25" x2="330.05" y2="382.25" stroke="#c6addf" stroke-width="0.7"/>
<line x1="339.96" y1="387.88" x2="339.96" y2="382.25" stroke="#c6addf" stroke-width="0.7"/>
<line x1="338.66" y1="382.25" x2="341.26" y2="382.25" stroke="#c6addf" stroke-width="0.7"/>
<line x1="338.66" y1="387.88" x2="341.26" y2="387.88" stroke="#c6addf" stroke-width="0.7"/>
<line x1="351.17" y1="395.18" x2="351.17" y2="390.69" stroke="#c6addf" stroke-width="0.7"/>
<line x1="349.87" y1="390.69" x2="352.47" y2="390.69" stroke="#c6addf" stroke-width="0.7"/>
<line x1="349.87" y1="395.18" x2="352.47" y2="395.18" stroke="#c6addf" stroke-width="0.7"/>
<line x1="362.38" y1="399.68" x2="362.38" y2="396.31" stroke="#c6addf" stroke-width="0.7"/>
<line x1="361.08" y1="396.31" x2="363.68" y2="396.31" stroke="#c6addf" stroke-width="0.7"/>
<line x1="361.08" y1="399.68" x2="363.68" y2="399.68" stroke="#c6addf" stroke-width="0.7"/>
<line x1="249.10" y1="356.96" x2="249.10" y2="353.59" stroke="#93d3ac" stroke-width="0.7"/>
<line x1="247.80" y1="353.59" x2="250.40" y2="353.59" stroke="#93d3ac" stroke-width="0.7"/>
<line x1="247.80" y1="356.96" x2="250.40" y2="356.96" stroke="#93d3ac" stroke-width="0.7"/>
<line x1="261.49" y1="356.96" x2="261.49" y2="353.59" stroke="#93d3ac" stroke-width="0.7"/>
<line x1="260.19" y1="353.59" x2="262.79" y2="353.59" stroke="#93d3ac" stroke-width="0.7"/>
<line x1="260.19" y1="356.96" x2="262.79" y2="356.96" stroke="#93d3ac" stroke-width="0.7"/>
<line x1="272.70" y1="356.96" x2="272.70" y2="353.59" stroke="#93d3ac" stroke-width="0.7"/>
<line x1="271.40" y1="353.59" x2="274.00" y2="353.59" stroke="#93d3ac" stroke-width="0.7"/>
<line x1="271.40" y1="356.96" x2="274.00" y2="356.96" stroke="#93d3ac" stroke-width="0.7"/>
<line x1="283.91" y1="356.96" x2="283.91" y2="353.59" stroke="#93d3ac" stroke-width="0.7"/>
<line x1="282.61" y1="353.59" x2="285.21" y2="353.59" stroke="#93d3ac" stroke-width="0.7"/>
<line x1="282.61" y1="356.96" x2="285.21" y2="356.96" stroke="#93d3ac" stroke-width="0.7"/>
<line x1="295.12" y1="356.96" x2="295.12" y2="353.59" stroke="#93d3ac" stroke-width="0.7"/>
<line x1="293.82" y1="353.59" x2="296.42" y2="353.59" stroke="#93d3ac" stroke-width="0.7"/>
<line x1="293.82" y1="356.96" x2="296.42" y2="356.96" stroke="#93d3ac" stroke-width="0.7"/>
<line x1="306.33" y1="356.96" x2="306.33" y2="353.59" stroke="#93d3ac" stroke-width="0.7"/>
<line x1="305.03" y1="353.59" x2="307.63" y2="353.59" stroke="#93d3ac" stroke-width="0.7"/>
<line x1="305.03" y1="356.96" x2="307.63" y2="356.96" stroke="#93d3ac" stroke-width="0.7"/>
<line x1="317.54" y1="356.96" x2="317.54" y2="353.59" stroke="#93d3ac" stroke-width="0.7"/>
<line x1="316.24" y1="353.59" x2="318.84" y2="353.59" stroke="#93d3ac" stroke-width="0.7"/>
<line x1="316.24" y1="356.96" x2="318.84" y2="356.96" stroke="#93d3ac" stroke-width="0.7"/>
<line x1="328.75" y1="356.96" x2="328.75" y2="353.59" stroke="#93d3ac" stroke-width="0.7"/>
<line x1="327.45" y1="353.59" x2="330.05" y2="353.59" stroke="#93d3ac" stroke-width="0.7"/>
<line x1="327.45" y1="356.96" x2="330.05" y2="356.96" stroke="#93d3ac" stroke-width="0.7"/>
<line x1="339.96" y1="364.83" x2="339.96" y2="359.21" stroke="#93d3ac" stroke-width="0.7"/>
<line x1="338.66" y1="359.21" x2="341.26" y2="359.21" stroke="#93d3ac" stroke-width="0.7"/>
<line x1="338.66" y1="364.83" x2="341.26" y2="364.83" stroke="#93d3ac" stroke-width="0.7"/>
<line x1="351.17" y1="381.13" x2="351.17" y2="376.63" stroke="#93d3ac" stroke-width="0.7"/>
<line x1="349.87" y1="376.63" x2="352.47" y2="376.63" stroke="#93d3ac" stroke-width="0.7"/>
<line x1="349.87" y1="381.13" x2="352.47" y2="381.13" stroke="#93d3ac" stroke-width="0.7"/>
<line x1="362.38" y1="386.02" x2="362.38" y2="363.54" stroke="#93d3ac" stroke-width="0.7"/>
<line x1="361.08" y1="363.54" x2="363.68" y2="363.54" stroke="#93d3ac" stroke-width="0.7"/>
<line x1="361.08" y1="386.02" x2="363.68" y2="386.02" stroke="#93d3ac" stroke-width="0.7"/>
<line x1="249.10" y1="366.80" x2="249.10" y2="344.31" stroke="#f5a0a3" stroke-width="0.7"/>
<line x1="247.80" y1="344.31" x2="250.40" y2="344.31" stroke="#f5a0a3" stroke-width="0.7"/>
<line x1="247.80" y1="366.80" x2="250.40" y2="366.80" stroke="#f5a0a3" stroke-width="0.7"/>
<line x1="261.49" y1="364.44" x2="261.49" y2="353.19" stroke="#f5a0a3" stroke-width="0.7"/>
<line x1="260.19" y1="353.19" x2="262.79" y2="353.19" stroke="#f5a0a3" stroke-width="0.7"/>
<line x1="260.19" y1="364.44" x2="262.79" y2="364.44" stroke="#f5a0a3" stroke-width="0.7"/>
<line x1="272.70" y1="363.99" x2="272.70" y2="347.12" stroke="#f5a0a3" stroke-width="0.7"/>
<line x1="271.40" y1="347.12" x2="274.00" y2="347.12" stroke="#f5a0a3" stroke-width="0.7"/>
<line x1="271.40" y1="363.99" x2="274.00" y2="363.99" stroke="#f5a0a3" stroke-width="0.7"/>
<line x1="283.91" y1="363.14" x2="283.91" y2="349.65" stroke="#f5a0a3" stroke-width="0.7"/>
<line x1="282.61" y1="349.65" x2="285.21" y2="349.65" stroke="#f5a0a3" stroke-width="0.7"/>
<line x1="282.61" y1="363.14" x2="285.21" y2="363.14" stroke="#f5a0a3" stroke-width="0.7"/>
<line x1="295.12" y1="368.99" x2="295.12" y2="355.50" stroke="#f5a0a3" stroke-width="0.7"/>
<line x1="293.82" y1="355.50" x2="296.42" y2="355.50" stroke="#f5a0a3" stroke-width="0.7"/>
<line x1="293.82" y1="368.99" x2="296.42" y2="368.99" stroke="#f5a0a3" stroke-width="0.7"/>
<line x1="306.33" y1="367.64" x2="306.33" y2="356.40" stroke="#f5a0a3" stroke-width="0.7"/>
<line x1="305.03" y1="356.40" x2="307.63" y2="356.40" stroke="#f5a0a3" stroke-width="0.7"/>
<line x1="305.03" y1="367.64" x2="307.63" y2="367.64" stroke="#f5a0a3" stroke-width="0.7"/>
<line x1="317.54" y1="379.11" x2="317.54" y2="362.24" stroke="#f5a0a3" stroke-width="0.7"/>
<line x1="316.24" y1="362.24" x2="318.84" y2="362.24" stroke="#f5a0a3" stroke-width="0.7"/>
<line x1="316.24" y1="379.11" x2="318.84" y2="379.11" stroke="#f5a0a3" stroke-width="0.7"/>
<line x1="328.75" y1="380.62" x2="328.75" y2="373.88" stroke="#f5a0a3" stroke-width="0.7"/>
<line x1="327.45" y1="373.88" x2="330.05" y2="373.88" stroke="#f5a0a3" stroke-width="0.7"/>
<line x1="327.45" y1="380.62" x2="330.05" y2="380.62" stroke="#f5a0a3" stroke-width="0.7"/>
<line x1="339.96" y1="386.47" x2="339.96" y2="380.85" stroke="#f5a0a3" stroke-width="0.7"/>
<line x1="338.66" y1="380.85" x2="341.26" y2="380.85" stroke="#f5a0a3" stroke-width="0.7"/>
<line x1="338.66" y1="386.47" x2="341.26" y2="386.47" stroke="#f5a0a3" stroke-width="0.7"/>
<line x1="351.17" y1="393.39" x2="351.17" y2="388.89" stroke="#f5a0a3" stroke-width="0.7"/>
<line x1="349.87" y1="388.89" x2="352.47" y2="388.89" stroke="#f5a0a3" stroke-width="0.7"/>
<line x1="349.87" y1="393.39" x2="352.47" y2="393.39" stroke="#f5a0a3" stroke-width="0.7"/>
<line x1="362.38" y1="399.34" x2="362.38" y2="395.97" stroke="#f5a0a3" stroke-width="0.7"/>
<line x1="361.08" y1="395.97" x2="363.68" y2="395.97" stroke="#f5a0a3" stroke-width="0.7"/>
<line x1="361.08" y1="399.34" x2="363.68" y2="399.34" stroke="#f5a0a3" stroke-width="0.7"/>
<line x1="249.10" y1="360.44" x2="249.10" y2="346.95" stroke="#9fb3e0" stroke-width="0.7"/>
<line x1="247.80" y1="346.95" x2="250.40" y2="346.95" stroke="#9fb3e0" stroke-width="0.7"/>
<line x1="247.80" y1="360.44" x2="250.40" y2="360.44" stroke="#9fb3e0" stroke-width="0.7"/>
<line x1="261.49" y1="360.78" x2="261.49" y2="347.29" stroke="#9fb3e0" stroke-width="0.7"/>
<line x1="260.19" y1="347.29" x2="262.79" y2="347.29" stroke="#9fb3e0" stroke-width="0.7"/>
<line x1="260.19" y1="360.78" x2="262.79" y2="360.78" stroke="#9fb3e0" stroke-width="0.7"/>
<line x1="272.70" y1="363.42" x2="272.70" y2="352.18" stroke="#9fb3e0" stroke-width="0.7"/>
<line x1="271.40" y1="352.18" x2="274.00" y2="352.18" stroke="#9fb3e0" stroke-width="0.7"/>
<line x1="271.40" y1="363.42" x2="274.00" y2="363.42" stroke="#9fb3e0" stroke-width="0.7"/>
<line x1="283.91" y1="364.94" x2="283.91" y2="353.70" stroke="#9fb3e0" stroke-width="0.7"/>
<line x1="282.61" y1="353.70" x2="285.21" y2="353.70" stroke="#9fb3e0" stroke-width="0.7"/>
<line x1="282.61" y1="364.94" x2="285.21" y2="364.94" stroke="#9fb3e0" stroke-width="0.7"/>
<line x1="295.12" y1="364.60" x2="295.12" y2="353.36" stroke="#9fb3e0" stroke-width="0.7"/>
<line x1="293.82" y1="353.36" x2="296.42" y2="353.36" stroke="#9fb3e0" stroke-width="0.7"/>
<line x1="293.82" y1="364.60" x2="296.42" y2="364.60" stroke="#9fb3e0" stroke-width="0.7"/>
<line x1="306.33" y1="364.55" x2="306.33" y2="355.55" stroke="#9fb3e0" stroke-width="0.7"/>
<line x1="305.03" y1="355.55" x2="307.63" y2="355.55" stroke="#9fb3e0" stroke-width="0.7"/>
<line x1="305.03" y1="364.55" x2="307.63" y2="364.55" stroke="#9fb3e0" stroke-width="0.7"/>
<line x1="317.54" y1="369.49" x2="317.54" y2="362.75" stroke="#9fb3e0" stroke-width="0.7"/>
<line x1="316.24" y1="362.75" x2="318.84" y2="362.75" stroke="#9fb3e0" stroke-width="0.7"/>
<line x1="316.24" y1="369.49" x2="318.84" y2="369.49" stroke="#9fb3e0" stroke-width="0.7"/>
<line x1="328.75" y1="368.59" x2="328.75" y2="359.60" stroke="#9fb3e0" stroke-width="0.7"/>
<line x1="327.45" y1="359.60" x2="330.05" y2="359.60" stroke="#9fb3e0" stroke-width="0.7"/>
<line x1="327.45" y1="368.59" x2="330.05" y2="368.59" stroke="#9fb3e0" stroke-width="0.7"/>
<line x1="339.96" y1="370.28" x2="339.96" y2="363.54" stroke="#9fb3e0" stroke-width="0.7"/>
<line x1="338.66" y1="363.54" x2="341.26" y2="363.54" stroke="#9fb3e0" stroke-width="0.7"/>
<line x1="338.66" y1="370.28" x2="341.26" y2="370.28" stroke="#9fb3e0" stroke-width="0.7"/>
<line x1="351.17" y1="379.78" x2="351.17" y2="375.28" stroke="#9fb3e0" stroke-width="0.7"/>
<line x1="349.87" y1="375.28" x2="352.47" y2="375.28" stroke="#9fb3e0" stroke-width="0.7"/>
<line x1="349.87" y1="379.78" x2="352.47" y2="379.78" stroke="#9fb3e0" stroke-width="0.7"/>
<line x1="362.38" y1="389.17" x2="362.38" y2="384.67" stroke="#9fb3e0" stroke-width="0.7"/>
<line x1="361.08" y1="384.67" x2="363.68" y2="384.67" stroke="#9fb3e0" stroke-width="0.7"/>
<line x1="361.08" y1="389.17" x2="363.68" y2="389.17" stroke="#9fb3e0" stroke-width="0.7"/>
<circle cx="249.10" cy="353.59" r="2.15" fill="#111111" stroke="none" stroke-width="0.5"/>
<circle cx="261.49" cy="346.33" r="2.15" fill="#111111" stroke="none" stroke-width="0.5"/>
<circle cx="272.70" cy="349.26" r="2.15" fill="#111111" stroke="none" stroke-width="0.5"/>
<circle cx="283.91" cy="349.26" r="2.15" fill="#111111" stroke="none" stroke-width="0.5"/>
<circle cx="295.12" cy="347.80" r="2.15" fill="#111111" stroke="none" stroke-width="0.5"/>
<circle cx="306.33" cy="344.14" r="2.15" fill="#111111" stroke="none" stroke-width="0.5"/>
<circle cx="317.54" cy="350.04" r="2.15" fill="#111111" stroke="none" stroke-width="0.5"/>
<circle cx="328.75" cy="343.30" r="2.15" fill="#111111" stroke="none" stroke-width="0.5"/>
<circle cx="339.96" cy="349.65" r="2.15" fill="#111111" stroke="none" stroke-width="0.5"/>
<circle cx="351.17" cy="367.53" r="2.15" fill="#111111" stroke="none" stroke-width="0.5"/>
<circle cx="362.38" cy="364.10" r="2.15" fill="#111111" stroke="none" stroke-width="0.5"/>
<path d="M249.10,357.41 L250.60,359.21 L249.10,361.01 L247.60,359.21Z" fill="#f59a36" stroke="none" stroke-width="1"/>
<path d="M261.49,359.09 L262.99,360.89 L261.49,362.69 L259.99,360.89Z" fill="#f59a36" stroke="none" stroke-width="1"/>
<path d="M272.70,363.03 L274.20,364.83 L272.70,366.63 L271.20,364.83Z" fill="#f59a36" stroke="none" stroke-width="1"/>
<path d="M283.91,365.11 L285.41,366.91 L283.91,368.71 L282.41,366.91Z" fill="#f59a36" stroke="none" stroke-width="1"/>
<path d="M295.12,360.78 L296.62,362.58 L295.12,364.38 L293.62,362.58Z" fill="#f59a36" stroke="none" stroke-width="1"/>
<path d="M306.33,367.19 L307.83,368.99 L306.33,370.79 L304.83,368.99Z" fill="#f59a36" stroke="none" stroke-width="1"/>
<path d="M317.54,359.09 L319.04,360.89 L317.54,362.69 L316.04,360.89Z" fill="#f59a36" stroke="none" stroke-width="1"/>
<path d="M328.75,370.06 L330.25,371.86 L328.75,373.66 L327.25,371.86Z" fill="#f59a36" stroke="none" stroke-width="1"/>
<path d="M339.96,371.74 L341.46,373.54 L339.96,375.34 L338.46,373.54Z" fill="#f59a36" stroke="none" stroke-width="1"/>
<path d="M351.17,389.62 L352.67,391.42 L351.17,393.22 L349.67,391.42Z" fill="#f59a36" stroke="none" stroke-width="1"/>
<path d="M362.38,396.36 L363.88,398.16 L362.38,399.96 L360.88,398.16Z" fill="#f59a36" stroke="none" stroke-width="1"/>
<path d="M249.10,360.30 L251.10,356.70 L247.10,356.70Z" fill="#8c5cc0" stroke="none" stroke-width="1"/>
<path d="M261.49,361.31 L263.49,357.71 L259.49,357.71Z" fill="#8c5cc0" stroke="none" stroke-width="1"/>
<path d="M272.70,362.43 L274.70,358.83 L270.70,358.83Z" fill="#8c5cc0" stroke="none" stroke-width="1"/>
<path d="M283.91,362.99 L285.91,359.39 L281.91,359.39Z" fill="#8c5cc0" stroke="none" stroke-width="1"/>
<path d="M295.12,363.56 L297.12,359.96 L293.12,359.96Z" fill="#8c5cc0" stroke="none" stroke-width="1"/>
<path d="M306.33,365.80 L308.33,362.20 L304.33,362.20Z" fill="#8c5cc0" stroke="none" stroke-width="1"/>
<path d="M317.54,373.67 L319.54,370.07 L315.54,370.07Z" fill="#8c5cc0" stroke="none" stroke-width="1"/>
<path d="M328.75,380.98 L330.75,377.38 L326.75,377.38Z" fill="#8c5cc0" stroke="none" stroke-width="1"/>
<path d="M339.96,387.17 L341.96,383.57 L337.96,383.57Z" fill="#8c5cc0" stroke="none" stroke-width="1"/>
<path d="M351.17,395.04 L353.17,391.44 L349.17,391.44Z" fill="#8c5cc0" stroke="none" stroke-width="1"/>
<path d="M362.38,400.10 L364.38,396.50 L360.38,396.50Z" fill="#8c5cc0" stroke="none" stroke-width="1"/>
<path d="M249.10,353.17 L251.10,356.77 L247.10,356.77Z" fill="#25a558" stroke="none" stroke-width="1"/>
<path d="M261.49,353.17 L263.49,356.77 L259.49,356.77Z" fill="#25a558" stroke="none" stroke-width="1"/>
<path d="M272.70,353.17 L274.70,356.77 L270.70,356.77Z" fill="#25a558" stroke="none" stroke-width="1"/>
<path d="M283.91,353.17 L285.91,356.77 L281.91,356.77Z" fill="#25a558" stroke="none" stroke-width="1"/>
<path d="M295.12,353.17 L297.12,356.77 L293.12,356.77Z" fill="#25a558" stroke="none" stroke-width="1"/>
<path d="M306.33,353.17 L308.33,356.77 L304.33,356.77Z" fill="#25a558" stroke="none" stroke-width="1"/>
<path d="M317.54,353.17 L319.54,356.77 L315.54,356.77Z" fill="#25a558" stroke="none" stroke-width="1"/>
<path d="M328.75,353.17 L330.75,356.77 L326.75,356.77Z" fill="#25a558" stroke="none" stroke-width="1"/>
<path d="M339.96,359.92 L341.96,363.52 L337.96,363.52Z" fill="#25a558" stroke="none" stroke-width="1"/>
<path d="M351.17,376.78 L353.17,380.38 L349.17,380.38Z" fill="#25a558" stroke="none" stroke-width="1"/>
<path d="M362.38,372.68 L364.38,376.28 L360.38,376.28Z" fill="#25a558" stroke="none" stroke-width="1"/>
<rect x="247.35" y="353.80" width="3.50" height="3.50" fill="#ec3038" stroke="none" stroke-width="1"/>
<rect x="259.74" y="357.06" width="3.50" height="3.50" fill="#ec3038" stroke="none" stroke-width="1"/>
<rect x="270.95" y="353.80" width="3.50" height="3.50" fill="#ec3038" stroke="none" stroke-width="1"/>
<rect x="282.16" y="354.65" width="3.50" height="3.50" fill="#ec3038" stroke="none" stroke-width="1"/>
<rect x="293.37" y="360.49" width="3.50" height="3.50" fill="#ec3038" stroke="none" stroke-width="1"/>
<rect x="304.58" y="360.27" width="3.50" height="3.50" fill="#ec3038" stroke="none" stroke-width="1"/>
<rect x="315.79" y="368.92" width="3.50" height="3.50" fill="#ec3038" stroke="none" stroke-width="1"/>
<rect x="327.00" y="375.50" width="3.50" height="3.50" fill="#ec3038" stroke="none" stroke-width="1"/>
<rect x="338.21" y="381.91" width="3.50" height="3.50" fill="#ec3038" stroke="none" stroke-width="1"/>
<rect x="349.42" y="389.39" width="3.50" height="3.50" fill="#ec3038" stroke="none" stroke-width="1"/>
<rect x="360.63" y="395.91" width="3.50" height="3.50" fill="#ec3038" stroke="none" stroke-width="1"/>
<circle cx="249.10" cy="353.70" r="1.90" fill="#3a62bc" stroke="none" stroke-width="0.5"/>
<circle cx="261.49" cy="354.04" r="1.90" fill="#3a62bc" stroke="none" stroke-width="0.5"/>
<circle cx="272.70" cy="357.80" r="1.90" fill="#3a62bc" stroke="none" stroke-width="0.5"/>
<circle cx="283.91" cy="359.32" r="1.90" fill="#3a62bc" stroke="none" stroke-width="0.5"/>
<circle cx="295.12" cy="358.98" r="1.90" fill="#3a62bc" stroke="none" stroke-width="0.5"/>
<circle cx="306.33" cy="360.05" r="1.90" fill="#3a62bc" stroke="none" stroke-width="0.5"/>
<circle cx="317.54" cy="366.12" r="1.90" fill="#3a62bc" stroke="none" stroke-width="0.5"/>
<circle cx="328.75" cy="364.10" r="1.90" fill="#3a62bc" stroke="none" stroke-width="0.5"/>
<circle cx="339.96" cy="366.91" r="1.90" fill="#3a62bc" stroke="none" stroke-width="0.5"/>
<circle cx="351.17" cy="377.53" r="1.90" fill="#3a62bc" stroke="none" stroke-width="0.5"/>
<circle cx="362.38" cy="386.92" r="1.90" fill="#3a62bc" stroke="none" stroke-width="0.5"/>
<line x1="244.50" y1="330.60" x2="244.50" y2="410.50" stroke="#111" stroke-width="1"/>
<line x1="242.60" y1="410.50" x2="362.90" y2="410.50" stroke="#111" stroke-width="1"/>
<line x1="241.20" y1="409.80" x2="244.60" y2="409.80" stroke="#111" stroke-width="0.9"/>
<text x="239.70" y="412.70" font-size="8.2" text-anchor="end" fill="#111" stroke="#111" stroke-width="0.18">0</text>
<line x1="241.20" y1="398.56" x2="244.60" y2="398.56" stroke="#111" stroke-width="0.9"/>
<text x="239.70" y="401.46" font-size="8.2" text-anchor="end" fill="#111" stroke="#111" stroke-width="0.18">20</text>
<line x1="241.20" y1="387.31" x2="244.60" y2="387.31" stroke="#111" stroke-width="0.9"/>
<text x="239.70" y="390.21" font-size="8.2" text-anchor="end" fill="#111" stroke="#111" stroke-width="0.18">40</text>
<line x1="241.20" y1="376.07" x2="244.60" y2="376.07" stroke="#111" stroke-width="0.9"/>
<text x="239.70" y="378.97" font-size="8.2" text-anchor="end" fill="#111" stroke="#111" stroke-width="0.18">60</text>
<line x1="241.20" y1="364.83" x2="244.60" y2="364.83" stroke="#111" stroke-width="0.9"/>
<text x="239.70" y="367.73" font-size="8.2" text-anchor="end" fill="#111" stroke="#111" stroke-width="0.18">80</text>
<line x1="241.20" y1="353.59" x2="244.60" y2="353.59" stroke="#111" stroke-width="0.9"/>
<text x="239.70" y="356.49" font-size="8.2" text-anchor="end" fill="#111" stroke="#111" stroke-width="0.18">100</text>
<line x1="241.20" y1="342.34" x2="244.60" y2="342.34" stroke="#111" stroke-width="0.9"/>
<text x="239.70" y="345.24" font-size="8.2" text-anchor="end" fill="#111" stroke="#111" stroke-width="0.18">120</text>
<line x1="241.20" y1="331.10" x2="244.60" y2="331.10" stroke="#111" stroke-width="0.9"/>
<text x="239.70" y="334.00" font-size="8.2" text-anchor="end" fill="#111" stroke="#111" stroke-width="0.18">140</text>
<line x1="268.40" y1="410.10" x2="268.40" y2="413.30" stroke="#111" stroke-width="0.9"/>
<text x="268.40" y="426.50" font-size="8.2" text-anchor="middle" fill="#111" stroke="#111" stroke-width="0.18">0</text>
<line x1="291.90" y1="410.10" x2="291.90" y2="413.30" stroke="#111" stroke-width="0.9"/>
<text x="291.90" y="426.50" font-size="8.2" text-anchor="middle" fill="#111" stroke="#111" stroke-width="0.18">1</text>
<line x1="315.40" y1="410.10" x2="315.40" y2="413.30" stroke="#111" stroke-width="0.9"/>
<text x="315.40" y="426.50" font-size="8.2" text-anchor="middle" fill="#111" stroke="#111" stroke-width="0.18">2</text>
<line x1="338.90" y1="410.10" x2="338.90" y2="413.30" stroke="#111" stroke-width="0.9"/>
<text x="338.90" y="426.50" font-size="8.2" text-anchor="middle" fill="#111" stroke="#111" stroke-width="0.18">3</text>
<line x1="362.40" y1="410.10" x2="362.40" y2="413.30" stroke="#111" stroke-width="0.9"/>
<text x="362.40" y="426.50" font-size="8.2" text-anchor="middle" fill="#111" stroke="#111" stroke-width="0.18">4</text>
<line x1="249.10" y1="410.10" x2="249.10" y2="413.30" stroke="#111" stroke-width="0.9"/>
<text x="0.00" y="0.00" transform="translate(252.10,414.80) rotate(-90)" font-size="8.2" text-anchor="end" fill="#111" stroke="#111" stroke-width="0.18">DMSO</text>
<text x="307.17" y="437.90" font-size="8.1" text-anchor="middle" fill="#111" stroke="#111" stroke-width="0.18">conc (log nM)</text>
<text x="0.00" y="0.00" transform="translate(223.20,370.30) rotate(-90)" font-size="8.2" text-anchor="middle" fill="#111" stroke="#111" stroke-width="0.18">% of viability</text>
<text x="300.30" y="321.50" font-size="8.2" text-anchor="middle" fill="#111" stroke="#111" stroke-width="0.18">ARV110</text>
<line x1="502.40" y1="326.50" x2="502.40" y2="410.00" stroke="#8a8a8a" stroke-width="0.7" stroke-dasharray="2,1.6"/>
<path d="M436.13,353.59 L438.02,354.44 L439.91,355.29 L441.79,356.12 L443.68,356.94 L445.57,357.76 L447.46,358.56 L449.34,359.36 L451.23,360.14 L453.12,360.91 L455.01,361.68 L456.90,362.43 L458.78,363.17 L460.67,363.90 L462.56,364.63 L464.45,365.34 L466.34,366.04 L468.22,366.73 L470.11,367.41 L472.00,368.08 L473.89,368.75 L475.77,369.40 L477.66,370.04 L479.55,370.67 L481.44,371.29 L483.33,371.90 L485.21,372.50 L487.10,373.08 L488.99,373.66 L490.88,374.23 L492.76,374.79 L494.65,375.34 L496.54,375.88 L498.43,376.40 L500.32,376.92 L502.20,377.43 L504.09,377.93 L505.98,378.41 L507.87,378.89 L509.76,379.36 L511.64,379.81 L513.53,380.26 L515.42,380.69 L517.31,381.12 L519.19,381.53 L521.08,381.94 L522.97,382.33 L524.86,382.72 L526.75,383.09 L528.63,383.46 L530.52,383.81 L532.41,384.16 L534.30,384.49 L536.19,384.81 L538.07,385.12 L539.96,385.43 L541.85,385.72 L543.74,386.00 L545.62,386.27 L547.51,386.54 L549.40,386.79" fill="none" stroke="#25a558" stroke-width="0.8" stroke-linejoin="round"/>
<path d="M436.13,355.26 L438.02,355.64 L439.91,356.10 L441.79,356.65 L443.68,357.30 L445.57,358.07 L447.46,358.95 L449.34,359.96 L451.23,361.09 L453.12,362.32 L455.01,363.65 L456.90,365.05 L458.78,366.49 L460.67,367.93 L462.56,369.34 L464.45,370.68 L466.34,371.94 L468.22,373.08 L470.11,374.11 L472.00,375.01 L473.89,375.79 L475.77,376.46 L477.66,377.02 L479.55,377.50 L481.44,377.89 L483.33,378.22 L485.21,378.48 L487.10,378.70 L488.99,378.88 L490.88,379.02 L492.76,379.13 L494.65,379.23 L496.54,379.30 L498.43,379.37 L500.32,379.41 L502.20,379.45 L504.09,379.49 L505.98,379.51 L507.87,379.53 L509.76,379.55 L511.64,379.56 L513.53,379.57 L515.42,379.58 L517.31,379.59 L519.19,379.59 L521.08,379.60 L522.97,379.60 L524.86,379.60 L526.75,379.60 L528.63,379.61 L530.52,379.61 L532.41,379.61 L534.30,379.61 L536.19,379.61 L538.07,379.61 L539.96,379.61 L541.85,379.61 L543.74,379.61 L545.62,379.61 L547.51,379.61 L549.40,379.61" fill="none" stroke="#555" stroke-width="0.8" stroke-linejoin="round"/>
<path d="M436.13,353.34 L438.02,353.50 L439.91,353.73 L441.79,354.08 L443.68,354.58 L445.57,355.33 L447.46,356.39 L449.34,357.89 L451.23,359.95 L453.12,362.65 L455.01,366.04 L456.90,370.01 L458.78,374.34 L460.67,378.69 L462.56,382.74 L464.45,386.22 L466.34,389.02 L468.22,391.17 L470.11,392.75 L472.00,393.87 L473.89,394.65 L475.77,395.19 L477.66,395.56 L479.55,395.81 L481.44,395.97 L483.33,396.08 L485.21,396.16 L487.10,396.21 L488.99,396.24 L490.88,396.26 L492.76,396.28 L494.65,396.29 L496.54,396.30 L498.43,396.30 L500.32,396.30 L502.20,396.30 L504.09,396.31 L505.98,396.31 L507.87,396.31 L509.76,396.31 L511.64,396.31 L513.53,396.31 L515.42,396.31 L517.31,396.31 L519.19,396.31 L521.08,396.31 L522.97,396.31 L524.86,396.31 L526.75,396.31 L528.63,396.31 L530.52,396.31 L532.41,396.31 L534.30,396.31 L536.19,396.31 L538.07,396.31 L539.96,396.31 L541.85,396.31 L543.74,396.31 L545.62,396.31 L547.51,396.31 L549.40,396.31" fill="none" stroke="#3a62bc" stroke-width="0.8" stroke-linejoin="round"/>
<path d="M436.13,353.09 L438.02,353.13 L439.91,353.19 L441.79,353.29 L443.68,353.45 L445.57,353.70 L447.46,354.09 L449.34,354.68 L451.23,355.60 L453.12,356.98 L455.01,358.98 L456.90,361.77 L458.78,365.42 L460.67,369.85 L462.56,374.73 L464.45,379.58 L466.34,383.93 L468.22,387.48 L470.11,390.17 L472.00,392.09 L473.89,393.41 L475.77,394.28 L477.66,394.85 L479.55,395.22 L481.44,395.45 L483.33,395.60 L485.21,395.70 L487.10,395.76 L488.99,395.79 L490.88,395.82 L492.76,395.83 L494.65,395.84 L496.54,395.85 L498.43,395.85 L500.32,395.85 L502.20,395.86 L504.09,395.86 L505.98,395.86 L507.87,395.86 L509.76,395.86 L511.64,395.86 L513.53,395.86 L515.42,395.86 L517.31,395.86 L519.19,395.86 L521.08,395.86 L522.97,395.86 L524.86,395.86 L526.75,395.86 L528.63,395.86 L530.52,395.86 L532.41,395.86 L534.30,395.86 L536.19,395.86 L538.07,395.86 L539.96,395.86 L541.85,395.86 L543.74,395.86 L545.62,395.86 L547.51,395.86 L549.40,395.86" fill="none" stroke="#f59a36" stroke-width="0.8" stroke-linejoin="round"/>
<path d="M436.13,358.25 L438.02,359.97 L439.91,362.12 L441.79,364.71 L443.68,367.71 L445.57,371.02 L447.46,374.48 L449.34,377.92 L451.23,381.15 L453.12,384.04 L455.01,386.50 L456.90,388.51 L458.78,390.12 L460.67,391.36 L462.56,392.30 L464.45,393.00 L466.34,393.52 L468.22,393.90 L470.11,394.18 L472.00,394.38 L473.89,394.53 L475.77,394.63 L477.66,394.71 L479.55,394.76 L481.44,394.80 L483.33,394.83 L485.21,394.85 L487.10,394.87 L488.99,394.88 L490.88,394.88 L492.76,394.89 L494.65,394.89 L496.54,394.90 L498.43,394.90 L500.32,394.90 L502.20,394.90 L504.09,394.90 L505.98,394.90 L507.87,394.90 L509.76,394.90 L511.64,394.90 L513.53,394.90 L515.42,394.90 L517.31,394.90 L519.19,394.90 L521.08,394.90 L522.97,394.90 L524.86,394.90 L526.75,394.90 L528.63,394.90 L530.52,394.90 L532.41,394.90 L534.30,394.90 L536.19,394.90 L538.07,394.90 L539.96,394.90 L541.85,394.90 L543.74,394.90 L545.62,394.90 L547.51,394.90 L549.40,394.90" fill="none" stroke="#ec3038" stroke-width="0.8" stroke-linejoin="round"/>
<path d="M436.13,353.18 L438.02,353.49 L439.91,354.41 L441.79,357.00 L443.68,363.45 L445.57,375.38 L447.46,388.93 L449.34,397.90 L451.23,401.92 L453.12,403.41 L455.01,403.92 L456.90,404.09 L458.78,404.15 L460.67,404.17 L462.56,404.18 L464.45,404.18 L466.34,404.18 L468.22,404.18 L470.11,404.18 L472.00,404.18 L473.89,404.18 L475.77,404.18 L477.66,404.18 L479.55,404.18 L481.44,404.18 L483.33,404.18 L485.21,404.18 L487.10,404.18 L488.99,404.18 L490.88,404.18 L492.76,404.18 L494.65,404.18 L496.54,404.18 L498.43,404.18 L500.32,404.18 L502.20,404.18 L504.09,404.18 L505.98,404.18 L507.87,404.18 L509.76,404.18 L511.64,404.18 L513.53,404.18 L515.42,404.18 L517.31,404.18 L519.19,404.18 L521.08,404.18 L522.97,404.18 L524.86,404.18 L526.75,404.18 L528.63,404.18 L530.52,404.18 L532.41,404.18 L534.30,404.18 L536.19,404.18 L538.07,404.18 L539.96,404.18 L541.85,404.18 L543.74,404.18 L545.62,404.18 L547.51,404.18 L549.40,404.18" fill="none" stroke="#8c5cc0" stroke-width="0.8" stroke-linejoin="round"/>
<line x1="436.10" y1="357.80" x2="436.10" y2="348.81" stroke="#555555" stroke-width="0.7"/>
<line x1="434.80" y1="348.81" x2="437.40" y2="348.81" stroke="#555555" stroke-width="0.7"/>
<line x1="434.80" y1="357.80" x2="437.40" y2="357.80" stroke="#555555" stroke-width="0.7"/>
<line x1="448.49" y1="365.00" x2="448.49" y2="359.38" stroke="#555555" stroke-width="0.7"/>
<line x1="447.19" y1="359.38" x2="449.79" y2="359.38" stroke="#555555" stroke-width="0.7"/>
<line x1="447.19" y1="365.00" x2="449.79" y2="365.00" stroke="#555555" stroke-width="0.7"/>
<line x1="459.70" y1="375.40" x2="459.70" y2="367.53" stroke="#555555" stroke-width="0.7"/>
<line x1="458.40" y1="367.53" x2="461.00" y2="367.53" stroke="#555555" stroke-width="0.7"/>
<line x1="458.40" y1="375.40" x2="461.00" y2="375.40" stroke="#555555" stroke-width="0.7"/>
<line x1="470.91" y1="378.21" x2="470.91" y2="369.21" stroke="#555555" stroke-width="0.7"/>
<line x1="469.61" y1="369.21" x2="472.21" y2="369.21" stroke="#555555" stroke-width="0.7"/>
<line x1="469.61" y1="378.21" x2="472.21" y2="378.21" stroke="#555555" stroke-width="0.7"/>
<line x1="482.12" y1="385.80" x2="482.12" y2="379.05" stroke="#555555" stroke-width="0.7"/>
<line x1="480.82" y1="379.05" x2="483.42" y2="379.05" stroke="#555555" stroke-width="0.7"/>
<line x1="480.82" y1="385.80" x2="483.42" y2="385.80" stroke="#555555" stroke-width="0.7"/>
<line x1="493.33" y1="389.34" x2="493.33" y2="381.47" stroke="#555555" stroke-width="0.7"/>
<line x1="492.03" y1="381.47" x2="494.63" y2="381.47" stroke="#555555" stroke-width="0.7"/>
<line x1="492.03" y1="389.34" x2="494.63" y2="389.34" stroke="#555555" stroke-width="0.7"/>
<line x1="504.54" y1="390.01" x2="504.54" y2="385.52" stroke="#555555" stroke-width="0.7"/>
<line x1="503.24" y1="385.52" x2="505.84" y2="385.52" stroke="#555555" stroke-width="0.7"/>
<line x1="503.24" y1="390.01" x2="505.84" y2="390.01" stroke="#555555" stroke-width="0.7"/>
<line x1="515.75" y1="387.60" x2="515.75" y2="378.60" stroke="#555555" stroke-width="0.7"/>
<line x1="514.45" y1="378.60" x2="517.05" y2="378.60" stroke="#555555" stroke-width="0.7"/>
<line x1="514.45" y1="387.60" x2="517.05" y2="387.60" stroke="#555555" stroke-width="0.7"/>
<line x1="526.96" y1="381.19" x2="526.96" y2="367.70" stroke="#555555" stroke-width="0.7"/>
<line x1="525.66" y1="367.70" x2="528.26" y2="367.70" stroke="#555555" stroke-width="0.7"/>
<line x1="525.66" y1="381.19" x2="528.26" y2="381.19" stroke="#555555" stroke-width="0.7"/>
<line x1="538.17" y1="379.33" x2="538.17" y2="373.71" stroke="#555555" stroke-width="0.7"/>
<line x1="536.87" y1="373.71" x2="539.47" y2="373.71" stroke="#555555" stroke-width="0.7"/>
<line x1="536.87" y1="379.33" x2="539.47" y2="379.33" stroke="#555555" stroke-width="0.7"/>
<line x1="549.38" y1="375.23" x2="549.38" y2="366.23" stroke="#555555" stroke-width="0.7"/>
<line x1="548.08" y1="366.23" x2="550.68" y2="366.23" stroke="#555555" stroke-width="0.7"/>
<line x1="548.08" y1="375.23" x2="550.68" y2="375.23" stroke="#555555" stroke-width="0.7"/>
<line x1="436.10" y1="366.51" x2="436.10" y2="340.66" stroke="#f9c990" stroke-width="0.7"/>
<line x1="434.80" y1="340.66" x2="437.40" y2="340.66" stroke="#f9c990" stroke-width="0.7"/>
<line x1="434.80" y1="366.51" x2="437.40" y2="366.51" stroke="#f9c990" stroke-width="0.7"/>
<line x1="448.49" y1="363.14" x2="448.49" y2="351.90" stroke="#f9c990" stroke-width="0.7"/>
<line x1="447.19" y1="351.90" x2="449.79" y2="351.90" stroke="#f9c990" stroke-width="0.7"/>
<line x1="447.19" y1="363.14" x2="449.79" y2="363.14" stroke="#f9c990" stroke-width="0.7"/>
<line x1="459.70" y1="379.95" x2="459.70" y2="370.96" stroke="#f9c990" stroke-width="0.7"/>
<line x1="458.40" y1="370.96" x2="461.00" y2="370.96" stroke="#f9c990" stroke-width="0.7"/>
<line x1="458.40" y1="379.95" x2="461.00" y2="379.95" stroke="#f9c990" stroke-width="0.7"/>
<line x1="470.91" y1="398.56" x2="470.91" y2="392.94" stroke="#f9c990" stroke-width="0.7"/>
<line x1="469.61" y1="392.94" x2="472.21" y2="392.94" stroke="#f9c990" stroke-width="0.7"/>
<line x1="469.61" y1="398.56" x2="472.21" y2="398.56" stroke="#f9c990" stroke-width="0.7"/>
<line x1="482.12" y1="397.55" x2="482.12" y2="394.17" stroke="#f9c990" stroke-width="0.7"/>
<line x1="480.82" y1="394.17" x2="483.42" y2="394.17" stroke="#f9c990" stroke-width="0.7"/>
<line x1="480.82" y1="397.55" x2="483.42" y2="397.55" stroke="#f9c990" stroke-width="0.7"/>
<line x1="493.33" y1="397.55" x2="493.33" y2="394.17" stroke="#f9c990" stroke-width="0.7"/>
<line x1="492.03" y1="394.17" x2="494.63" y2="394.17" stroke="#f9c990" stroke-width="0.7"/>
<line x1="492.03" y1="397.55" x2="494.63" y2="397.55" stroke="#f9c990" stroke-width="0.7"/>
<line x1="504.54" y1="397.55" x2="504.54" y2="394.17" stroke="#f9c990" stroke-width="0.7"/>
<line x1="503.24" y1="394.17" x2="505.84" y2="394.17" stroke="#f9c990" stroke-width="0.7"/>
<line x1="503.24" y1="397.55" x2="505.84" y2="397.55" stroke="#f9c990" stroke-width="0.7"/>
<line x1="515.75" y1="397.55" x2="515.75" y2="394.17" stroke="#f9c990" stroke-width="0.7"/>
<line x1="514.45" y1="394.17" x2="517.05" y2="394.17" stroke="#f9c990" stroke-width="0.7"/>
<line x1="514.45" y1="397.55" x2="517.05" y2="397.55" stroke="#f9c990" stroke-width="0.7"/>
<line x1="526.96" y1="397.43" x2="526.96" y2="394.06" stroke="#f9c990" stroke-width="0.7"/>
<line x1="525.66" y1="394.06" x2="528.26" y2="394.06" stroke="#f9c990" stroke-width="0.7"/>
<line x1="525.66" y1="397.43" x2="528.26" y2="397.43" stroke="#f9c990" stroke-width="0.7"/>
<line x1="538.17" y1="396.87" x2="538.17" y2="393.50" stroke="#f9c990" stroke-width="0.7"/>
<line x1="536.87" y1="393.50" x2="539.47" y2="393.50" stroke="#f9c990" stroke-width="0.7"/>
<line x1="536.87" y1="396.87" x2="539.47" y2="396.87" stroke="#f9c990" stroke-width="0.7"/>
<line x1="549.38" y1="395.75" x2="549.38" y2="392.37" stroke="#f9c990" stroke-width="0.7"/>
<line x1="548.08" y1="392.37" x2="550.68" y2="392.37" stroke="#f9c990" stroke-width="0.7"/>
<line x1="548.08" y1="395.75" x2="550.68" y2="395.75" stroke="#f9c990" stroke-width="0.7"/>
<line x1="436.10" y1="360.33" x2="436.10" y2="346.84" stroke="#c6addf" stroke-width="0.7"/>
<line x1="434.80" y1="346.84" x2="437.40" y2="346.84" stroke="#c6addf" stroke-width="0.7"/>
<line x1="434.80" y1="360.33" x2="437.40" y2="360.33" stroke="#c6addf" stroke-width="0.7"/>
<line x1="448.49" y1="398.89" x2="448.49" y2="396.65" stroke="#c6addf" stroke-width="0.7"/>
<line x1="447.19" y1="396.65" x2="449.79" y2="396.65" stroke="#c6addf" stroke-width="0.7"/>
<line x1="447.19" y1="398.89" x2="449.79" y2="398.89" stroke="#c6addf" stroke-width="0.7"/>
<line x1="459.70" y1="405.30" x2="459.70" y2="404.18" stroke="#c6addf" stroke-width="0.7"/>
<line x1="458.40" y1="404.18" x2="461.00" y2="404.18" stroke="#c6addf" stroke-width="0.7"/>
<line x1="458.40" y1="405.30" x2="461.00" y2="405.30" stroke="#c6addf" stroke-width="0.7"/>
<line x1="470.91" y1="405.30" x2="470.91" y2="404.18" stroke="#c6addf" stroke-width="0.7"/>
<line x1="469.61" y1="404.18" x2="472.21" y2="404.18" stroke="#c6addf" stroke-width="0.7"/>
<line x1="469.61" y1="405.30" x2="472.21" y2="405.30" stroke="#c6addf" stroke-width="0.7"/>
<line x1="482.12" y1="405.30" x2="482.12" y2="404.18" stroke="#c6addf" stroke-width="0.7"/>
<line x1="480.82" y1="404.18" x2="483.42" y2="404.18" stroke="#c6addf" stroke-width="0.7"/>
<line x1="480.82" y1="405.30" x2="483.42" y2="405.30" stroke="#c6addf" stroke-width="0.7"/>
<line x1="493.33" y1="405.30" x2="493.33" y2="404.18" stroke="#c6addf" stroke-width="0.7"/>
<line x1="492.03" y1="404.18" x2="494.63" y2="404.18" stroke="#c6addf" stroke-width="0.7"/>
<line x1="492.03" y1="405.30" x2="494.63" y2="405.30" stroke="#c6addf" stroke-width="0.7"/>
<line x1="504.54" y1="405.30" x2="504.54" y2="404.18" stroke="#c6addf" stroke-width="0.7"/>
<line x1="503.24" y1="404.18" x2="505.84" y2="404.18" stroke="#c6addf" stroke-width="0.7"/>
<line x1="503.24" y1="405.30" x2="505.84" y2="405.30" stroke="#c6addf" stroke-width="0.7"/>
<line x1="515.75" y1="405.30" x2="515.75" y2="404.18" stroke="#c6addf" stroke-width="0.7"/>
<line x1="514.45" y1="404.18" x2="517.05" y2="404.18" stroke="#c6addf" stroke-width="0.7"/>
<line x1="514.45" y1="405.30" x2="517.05" y2="405.30" stroke="#c6addf" stroke-width="0.7"/>
<line x1="526.96" y1="404.74" x2="526.96" y2="403.62" stroke="#c6addf" stroke-width="0.7"/>
<line x1="525.66" y1="403.62" x2="528.26" y2="403.62" stroke="#c6addf" stroke-width="0.7"/>
<line x1="525.66" y1="404.74" x2="528.26" y2="404.74" stroke="#c6addf" stroke-width="0.7"/>
<line x1="538.17" y1="400.58" x2="538.17" y2="398.33" stroke="#c6addf" stroke-width="0.7"/>
<line x1="536.87" y1="398.33" x2="539.47" y2="398.33" stroke="#c6addf" stroke-width="0.7"/>
<line x1="536.87" y1="400.58" x2="539.47" y2="400.58" stroke="#c6addf" stroke-width="0.7"/>
<line x1="549.38" y1="404.74" x2="549.38" y2="403.62" stroke="#c6addf" stroke-width="0.7"/>
<line x1="548.08" y1="403.62" x2="550.68" y2="403.62" stroke="#c6addf" stroke-width="0.7"/>
<line x1="548.08" y1="404.74" x2="550.68" y2="404.74" stroke="#c6addf" stroke-width="0.7"/>
<line x1="436.10" y1="364.83" x2="436.10" y2="342.34" stroke="#93d3ac" stroke-width="0.7"/>
<line x1="434.80" y1="342.34" x2="437.40" y2="342.34" stroke="#93d3ac" stroke-width="0.7"/>
<line x1="434.80" y1="364.83" x2="437.40" y2="364.83" stroke="#93d3ac" stroke-width="0.7"/>
<line x1="448.49" y1="359.77" x2="448.49" y2="355.27" stroke="#93d3ac" stroke-width="0.7"/>
<line x1="447.19" y1="355.27" x2="449.79" y2="355.27" stroke="#93d3ac" stroke-width="0.7"/>
<line x1="447.19" y1="359.77" x2="449.79" y2="359.77" stroke="#93d3ac" stroke-width="0.7"/>
<line x1="459.70" y1="366.23" x2="459.70" y2="359.49" stroke="#93d3ac" stroke-width="0.7"/>
<line x1="458.40" y1="359.49" x2="461.00" y2="359.49" stroke="#93d3ac" stroke-width="0.7"/>
<line x1="458.40" y1="366.23" x2="461.00" y2="366.23" stroke="#93d3ac" stroke-width="0.7"/>
<line x1="470.91" y1="371.41" x2="470.91" y2="366.91" stroke="#93d3ac" stroke-width="0.7"/>
<line x1="469.61" y1="366.91" x2="472.21" y2="366.91" stroke="#93d3ac" stroke-width="0.7"/>
<line x1="469.61" y1="371.41" x2="472.21" y2="371.41" stroke="#93d3ac" stroke-width="0.7"/>
<line x1="482.12" y1="376.13" x2="482.12" y2="372.75" stroke="#93d3ac" stroke-width="0.7"/>
<line x1="480.82" y1="372.75" x2="483.42" y2="372.75" stroke="#93d3ac" stroke-width="0.7"/>
<line x1="480.82" y1="376.13" x2="483.42" y2="376.13" stroke="#93d3ac" stroke-width="0.7"/>
<line x1="493.33" y1="377.81" x2="493.33" y2="374.44" stroke="#93d3ac" stroke-width="0.7"/>
<line x1="492.03" y1="374.44" x2="494.63" y2="374.44" stroke="#93d3ac" stroke-width="0.7"/>
<line x1="492.03" y1="377.81" x2="494.63" y2="377.81" stroke="#93d3ac" stroke-width="0.7"/>
<line x1="504.54" y1="378.94" x2="504.54" y2="375.57" stroke="#93d3ac" stroke-width="0.7"/>
<line x1="503.24" y1="375.57" x2="505.84" y2="375.57" stroke="#93d3ac" stroke-width="0.7"/>
<line x1="503.24" y1="378.94" x2="505.84" y2="378.94" stroke="#93d3ac" stroke-width="0.7"/>
<line x1="515.75" y1="380.79" x2="515.75" y2="377.42" stroke="#93d3ac" stroke-width="0.7"/>
<line x1="514.45" y1="377.42" x2="517.05" y2="377.42" stroke="#93d3ac" stroke-width="0.7"/>
<line x1="514.45" y1="380.79" x2="517.05" y2="380.79" stroke="#93d3ac" stroke-width="0.7"/>
<line x1="526.96" y1="382.25" x2="526.96" y2="375.51" stroke="#93d3ac" stroke-width="0.7"/>
<line x1="525.66" y1="375.51" x2="528.26" y2="375.51" stroke="#93d3ac" stroke-width="0.7"/>
<line x1="525.66" y1="382.25" x2="528.26" y2="382.25" stroke="#93d3ac" stroke-width="0.7"/>
<line x1="538.17" y1="382.42" x2="538.17" y2="379.05" stroke="#93d3ac" stroke-width="0.7"/>
<line x1="536.87" y1="379.05" x2="539.47" y2="379.05" stroke="#93d3ac" stroke-width="0.7"/>
<line x1="536.87" y1="382.42" x2="539.47" y2="382.42" stroke="#93d3ac" stroke-width="0.7"/>
<line x1="549.38" y1="388.44" x2="549.38" y2="385.07" stroke="#93d3ac" stroke-width="0.7"/>
<line x1="548.08" y1="385.07" x2="550.68" y2="385.07" stroke="#93d3ac" stroke-width="0.7"/>
<line x1="548.08" y1="388.44" x2="550.68" y2="388.44" stroke="#93d3ac" stroke-width="0.7"/>
<line x1="436.10" y1="359.21" x2="436.10" y2="347.96" stroke="#f5a0a3" stroke-width="0.7"/>
<line x1="434.80" y1="347.96" x2="437.40" y2="347.96" stroke="#f5a0a3" stroke-width="0.7"/>
<line x1="434.80" y1="359.21" x2="437.40" y2="359.21" stroke="#f5a0a3" stroke-width="0.7"/>
<line x1="448.49" y1="387.20" x2="448.49" y2="380.46" stroke="#f5a0a3" stroke-width="0.7"/>
<line x1="447.19" y1="380.46" x2="449.79" y2="380.46" stroke="#f5a0a3" stroke-width="0.7"/>
<line x1="447.19" y1="387.20" x2="449.79" y2="387.20" stroke="#f5a0a3" stroke-width="0.7"/>
<line x1="459.70" y1="392.37" x2="459.70" y2="390.12" stroke="#f5a0a3" stroke-width="0.7"/>
<line x1="458.40" y1="390.12" x2="461.00" y2="390.12" stroke="#f5a0a3" stroke-width="0.7"/>
<line x1="458.40" y1="392.37" x2="461.00" y2="392.37" stroke="#f5a0a3" stroke-width="0.7"/>
<line x1="470.91" y1="395.41" x2="470.91" y2="393.16" stroke="#f5a0a3" stroke-width="0.7"/>
<line x1="469.61" y1="393.16" x2="472.21" y2="393.16" stroke="#f5a0a3" stroke-width="0.7"/>
<line x1="469.61" y1="395.41" x2="472.21" y2="395.41" stroke="#f5a0a3" stroke-width="0.7"/>
<line x1="482.12" y1="395.86" x2="482.12" y2="393.61" stroke="#f5a0a3" stroke-width="0.7"/>
<line x1="480.82" y1="393.61" x2="483.42" y2="393.61" stroke="#f5a0a3" stroke-width="0.7"/>
<line x1="480.82" y1="395.86" x2="483.42" y2="395.86" stroke="#f5a0a3" stroke-width="0.7"/>
<line x1="493.33" y1="395.86" x2="493.33" y2="393.61" stroke="#f5a0a3" stroke-width="0.7"/>
<line x1="492.03" y1="393.61" x2="494.63" y2="393.61" stroke="#f5a0a3" stroke-width="0.7"/>
<line x1="492.03" y1="395.86" x2="494.63" y2="395.86" stroke="#f5a0a3" stroke-width="0.7"/>
<line x1="504.54" y1="395.86" x2="504.54" y2="393.61" stroke="#f5a0a3" stroke-width="0.7"/>
<line x1="503.24" y1="393.61" x2="505.84" y2="393.61" stroke="#f5a0a3" stroke-width="0.7"/>
<line x1="503.24" y1="395.86" x2="505.84" y2="395.86" stroke="#f5a0a3" stroke-width="0.7"/>
<line x1="515.75" y1="395.86" x2="515.75" y2="393.61" stroke="#f5a0a3" stroke-width="0.7"/>
<line x1="514.45" y1="393.61" x2="517.05" y2="393.61" stroke="#f5a0a3" stroke-width="0.7"/>
<line x1="514.45" y1="395.86" x2="517.05" y2="395.86" stroke="#f5a0a3" stroke-width="0.7"/>
<line x1="526.96" y1="395.18" x2="526.96" y2="392.94" stroke="#f5a0a3" stroke-width="0.7"/>
<line x1="525.66" y1="392.94" x2="528.26" y2="392.94" stroke="#f5a0a3" stroke-width="0.7"/>
<line x1="525.66" y1="395.18" x2="528.26" y2="395.18" stroke="#f5a0a3" stroke-width="0.7"/>
<line x1="538.17" y1="395.75" x2="538.17" y2="393.50" stroke="#f5a0a3" stroke-width="0.7"/>
<line x1="536.87" y1="393.50" x2="539.47" y2="393.50" stroke="#f5a0a3" stroke-width="0.7"/>
<line x1="536.87" y1="395.75" x2="539.47" y2="395.75" stroke="#f5a0a3" stroke-width="0.7"/>
<line x1="549.38" y1="396.31" x2="549.38" y2="394.06" stroke="#f5a0a3" stroke-width="0.7"/>
<line x1="548.08" y1="394.06" x2="550.68" y2="394.06" stroke="#f5a0a3" stroke-width="0.7"/>
<line x1="548.08" y1="396.31" x2="550.68" y2="396.31" stroke="#f5a0a3" stroke-width="0.7"/>
<line x1="436.10" y1="358.08" x2="436.10" y2="349.09" stroke="#9fb3e0" stroke-width="0.7"/>
<line x1="434.80" y1="349.09" x2="437.40" y2="349.09" stroke="#9fb3e0" stroke-width="0.7"/>
<line x1="434.80" y1="358.08" x2="437.40" y2="358.08" stroke="#9fb3e0" stroke-width="0.7"/>
<line x1="448.49" y1="363.99" x2="448.49" y2="344.87" stroke="#9fb3e0" stroke-width="0.7"/>
<line x1="447.19" y1="344.87" x2="449.79" y2="344.87" stroke="#9fb3e0" stroke-width="0.7"/>
<line x1="447.19" y1="363.99" x2="449.79" y2="363.99" stroke="#9fb3e0" stroke-width="0.7"/>
<line x1="459.70" y1="385.23" x2="459.70" y2="379.61" stroke="#9fb3e0" stroke-width="0.7"/>
<line x1="458.40" y1="379.61" x2="461.00" y2="379.61" stroke="#9fb3e0" stroke-width="0.7"/>
<line x1="458.40" y1="385.23" x2="461.00" y2="385.23" stroke="#9fb3e0" stroke-width="0.7"/>
<line x1="470.91" y1="394.62" x2="470.91" y2="387.88" stroke="#9fb3e0" stroke-width="0.7"/>
<line x1="469.61" y1="387.88" x2="472.21" y2="387.88" stroke="#9fb3e0" stroke-width="0.7"/>
<line x1="469.61" y1="394.62" x2="472.21" y2="394.62" stroke="#9fb3e0" stroke-width="0.7"/>
<line x1="482.12" y1="398.05" x2="482.12" y2="394.68" stroke="#9fb3e0" stroke-width="0.7"/>
<line x1="480.82" y1="394.68" x2="483.42" y2="394.68" stroke="#9fb3e0" stroke-width="0.7"/>
<line x1="480.82" y1="398.05" x2="483.42" y2="398.05" stroke="#9fb3e0" stroke-width="0.7"/>
<line x1="493.33" y1="398.05" x2="493.33" y2="394.68" stroke="#9fb3e0" stroke-width="0.7"/>
<line x1="492.03" y1="394.68" x2="494.63" y2="394.68" stroke="#9fb3e0" stroke-width="0.7"/>
<line x1="492.03" y1="398.05" x2="494.63" y2="398.05" stroke="#9fb3e0" stroke-width="0.7"/>
<line x1="504.54" y1="398.05" x2="504.54" y2="394.68" stroke="#9fb3e0" stroke-width="0.7"/>
<line x1="503.24" y1="394.68" x2="505.84" y2="394.68" stroke="#9fb3e0" stroke-width="0.7"/>
<line x1="503.24" y1="398.05" x2="505.84" y2="398.05" stroke="#9fb3e0" stroke-width="0.7"/>
<line x1="515.75" y1="398.05" x2="515.75" y2="394.68" stroke="#9fb3e0" stroke-width="0.7"/>
<line x1="514.45" y1="394.68" x2="517.05" y2="394.68" stroke="#9fb3e0" stroke-width="0.7"/>
<line x1="514.45" y1="398.05" x2="517.05" y2="398.05" stroke="#9fb3e0" stroke-width="0.7"/>
<line x1="526.96" y1="397.43" x2="526.96" y2="394.06" stroke="#9fb3e0" stroke-width="0.7"/>
<line x1="525.66" y1="394.06" x2="528.26" y2="394.06" stroke="#9fb3e0" stroke-width="0.7"/>
<line x1="525.66" y1="397.43" x2="528.26" y2="397.43" stroke="#9fb3e0" stroke-width="0.7"/>
<line x1="538.17" y1="396.31" x2="538.17" y2="392.94" stroke="#9fb3e0" stroke-width="0.7"/>
<line x1="536.87" y1="392.94" x2="539.47" y2="392.94" stroke="#9fb3e0" stroke-width="0.7"/>
<line x1="536.87" y1="396.31" x2="539.47" y2="396.31" stroke="#9fb3e0" stroke-width="0.7"/>
<line x1="549.38" y1="401.59" x2="549.38" y2="394.85" stroke="#9fb3e0" stroke-width="0.7"/>
<line x1="548.08" y1="394.85" x2="550.68" y2="394.85" stroke="#9fb3e0" stroke-width="0.7"/>
<line x1="548.08" y1="401.59" x2="550.68" y2="401.59" stroke="#9fb3e0" stroke-width="0.7"/>
<circle cx="436.10" cy="353.30" r="2.15" fill="#111111" stroke="none" stroke-width="0.5"/>
<circle cx="448.49" cy="362.19" r="2.15" fill="#111111" stroke="none" stroke-width="0.5"/>
<circle cx="459.70" cy="371.46" r="2.15" fill="#111111" stroke="none" stroke-width="0.5"/>
<circle cx="470.91" cy="373.71" r="2.15" fill="#111111" stroke="none" stroke-width="0.5"/>
<circle cx="482.12" cy="382.42" r="2.15" fill="#111111" stroke="none" stroke-width="0.5"/>
<circle cx="493.33" cy="385.40" r="2.15" fill="#111111" stroke="none" stroke-width="0.5"/>
<circle cx="504.54" cy="387.76" r="2.15" fill="#111111" stroke="none" stroke-width="0.5"/>
<circle cx="515.75" cy="383.10" r="2.15" fill="#111111" stroke="none" stroke-width="0.5"/>
<circle cx="526.96" cy="374.44" r="2.15" fill="#111111" stroke="none" stroke-width="0.5"/>
<circle cx="538.17" cy="376.52" r="2.15" fill="#111111" stroke="none" stroke-width="0.5"/>
<circle cx="549.38" cy="370.73" r="2.15" fill="#111111" stroke="none" stroke-width="0.5"/>
<path d="M436.10,351.79 L437.60,353.59 L436.10,355.39 L434.60,353.59Z" fill="#f59a36" stroke="none" stroke-width="1"/>
<path d="M448.49,355.72 L449.99,357.52 L448.49,359.32 L446.99,357.52Z" fill="#f59a36" stroke="none" stroke-width="1"/>
<path d="M459.70,373.65 L461.20,375.45 L459.70,377.25 L458.20,375.45Z" fill="#f59a36" stroke="none" stroke-width="1"/>
<path d="M470.91,393.95 L472.41,395.75 L470.91,397.55 L469.41,395.75Z" fill="#f59a36" stroke="none" stroke-width="1"/>
<path d="M482.12,394.06 L483.62,395.86 L482.12,397.66 L480.62,395.86Z" fill="#f59a36" stroke="none" stroke-width="1"/>
<path d="M493.33,394.06 L494.83,395.86 L493.33,397.66 L491.83,395.86Z" fill="#f59a36" stroke="none" stroke-width="1"/>
<path d="M504.54,394.06 L506.04,395.86 L504.54,397.66 L503.04,395.86Z" fill="#f59a36" stroke="none" stroke-width="1"/>
<path d="M515.75,394.06 L517.25,395.86 L515.75,397.66 L514.25,395.86Z" fill="#f59a36" stroke="none" stroke-width="1"/>
<path d="M526.96,393.95 L528.46,395.75 L526.96,397.55 L525.46,395.75Z" fill="#f59a36" stroke="none" stroke-width="1"/>
<path d="M538.17,393.38 L539.67,395.18 L538.17,396.98 L536.67,395.18Z" fill="#f59a36" stroke="none" stroke-width="1"/>
<path d="M549.38,392.26 L550.88,394.06 L549.38,395.86 L547.88,394.06Z" fill="#f59a36" stroke="none" stroke-width="1"/>
<path d="M436.10,355.69 L438.10,352.09 L434.10,352.09Z" fill="#8c5cc0" stroke="none" stroke-width="1"/>
<path d="M448.49,399.87 L450.49,396.27 L446.49,396.27Z" fill="#8c5cc0" stroke="none" stroke-width="1"/>
<path d="M459.70,406.84 L461.70,403.24 L457.70,403.24Z" fill="#8c5cc0" stroke="none" stroke-width="1"/>
<path d="M470.91,406.84 L472.91,403.24 L468.91,403.24Z" fill="#8c5cc0" stroke="none" stroke-width="1"/>
<path d="M482.12,406.84 L484.12,403.24 L480.12,403.24Z" fill="#8c5cc0" stroke="none" stroke-width="1"/>
<path d="M493.33,406.84 L495.33,403.24 L491.33,403.24Z" fill="#8c5cc0" stroke="none" stroke-width="1"/>
<path d="M504.54,406.84 L506.54,403.24 L502.54,403.24Z" fill="#8c5cc0" stroke="none" stroke-width="1"/>
<path d="M515.75,406.84 L517.75,403.24 L513.75,403.24Z" fill="#8c5cc0" stroke="none" stroke-width="1"/>
<path d="M526.96,406.28 L528.96,402.68 L524.96,402.68Z" fill="#8c5cc0" stroke="none" stroke-width="1"/>
<path d="M538.17,401.56 L540.17,397.96 L536.17,397.96Z" fill="#8c5cc0" stroke="none" stroke-width="1"/>
<path d="M549.38,406.28 L551.38,402.68 L547.38,402.68Z" fill="#8c5cc0" stroke="none" stroke-width="1"/>
<path d="M436.10,351.49 L438.10,355.09 L434.10,355.09Z" fill="#25a558" stroke="none" stroke-width="1"/>
<path d="M448.49,355.42 L450.49,359.02 L446.49,359.02Z" fill="#25a558" stroke="none" stroke-width="1"/>
<path d="M459.70,360.76 L461.70,364.36 L457.70,364.36Z" fill="#25a558" stroke="none" stroke-width="1"/>
<path d="M470.91,367.06 L472.91,370.66 L468.91,370.66Z" fill="#25a558" stroke="none" stroke-width="1"/>
<path d="M482.12,372.34 L484.12,375.94 L480.12,375.94Z" fill="#25a558" stroke="none" stroke-width="1"/>
<path d="M493.33,374.03 L495.33,377.63 L491.33,377.63Z" fill="#25a558" stroke="none" stroke-width="1"/>
<path d="M504.54,375.15 L506.54,378.75 L502.54,378.75Z" fill="#25a558" stroke="none" stroke-width="1"/>
<path d="M515.75,377.01 L517.75,380.61 L513.75,380.61Z" fill="#25a558" stroke="none" stroke-width="1"/>
<path d="M526.96,376.78 L528.96,380.38 L524.96,380.38Z" fill="#25a558" stroke="none" stroke-width="1"/>
<path d="M538.17,378.64 L540.17,382.24 L536.17,382.24Z" fill="#25a558" stroke="none" stroke-width="1"/>
<path d="M549.38,384.65 L551.38,388.25 L547.38,388.25Z" fill="#25a558" stroke="none" stroke-width="1"/>
<rect x="434.35" y="351.84" width="3.50" height="3.50" fill="#ec3038" stroke="none" stroke-width="1"/>
<rect x="446.74" y="382.08" width="3.50" height="3.50" fill="#ec3038" stroke="none" stroke-width="1"/>
<rect x="457.95" y="389.50" width="3.50" height="3.50" fill="#ec3038" stroke="none" stroke-width="1"/>
<rect x="469.16" y="392.53" width="3.50" height="3.50" fill="#ec3038" stroke="none" stroke-width="1"/>
<rect x="480.37" y="392.98" width="3.50" height="3.50" fill="#ec3038" stroke="none" stroke-width="1"/>
<rect x="491.58" y="392.98" width="3.50" height="3.50" fill="#ec3038" stroke="none" stroke-width="1"/>
<rect x="502.79" y="392.98" width="3.50" height="3.50" fill="#ec3038" stroke="none" stroke-width="1"/>
<rect x="514.00" y="392.98" width="3.50" height="3.50" fill="#ec3038" stroke="none" stroke-width="1"/>
<rect x="525.21" y="392.31" width="3.50" height="3.50" fill="#ec3038" stroke="none" stroke-width="1"/>
<rect x="536.42" y="392.87" width="3.50" height="3.50" fill="#ec3038" stroke="none" stroke-width="1"/>
<rect x="547.63" y="393.43" width="3.50" height="3.50" fill="#ec3038" stroke="none" stroke-width="1"/>
<circle cx="436.10" cy="353.59" r="1.90" fill="#3a62bc" stroke="none" stroke-width="0.5"/>
<circle cx="448.49" cy="354.43" r="1.90" fill="#3a62bc" stroke="none" stroke-width="0.5"/>
<circle cx="459.70" cy="382.42" r="1.90" fill="#3a62bc" stroke="none" stroke-width="0.5"/>
<circle cx="470.91" cy="391.25" r="1.90" fill="#3a62bc" stroke="none" stroke-width="0.5"/>
<circle cx="482.12" cy="396.36" r="1.90" fill="#3a62bc" stroke="none" stroke-width="0.5"/>
<circle cx="493.33" cy="396.36" r="1.90" fill="#3a62bc" stroke="none" stroke-width="0.5"/>
<circle cx="504.54" cy="396.36" r="1.90" fill="#3a62bc" stroke="none" stroke-width="0.5"/>
<circle cx="515.75" cy="396.36" r="1.90" fill="#3a62bc" stroke="none" stroke-width="0.5"/>
<circle cx="526.96" cy="395.75" r="1.90" fill="#3a62bc" stroke="none" stroke-width="0.5"/>
<circle cx="538.17" cy="394.62" r="1.90" fill="#3a62bc" stroke="none" stroke-width="0.5"/>
<circle cx="549.38" cy="398.22" r="1.90" fill="#3a62bc" stroke="none" stroke-width="0.5"/>
<line x1="431.50" y1="330.60" x2="431.50" y2="410.50" stroke="#111" stroke-width="1"/>
<line x1="429.60" y1="410.50" x2="549.90" y2="410.50" stroke="#111" stroke-width="1"/>
<line x1="428.20" y1="409.80" x2="431.60" y2="409.80" stroke="#111" stroke-width="0.9"/>
<text x="426.70" y="412.70" font-size="8.2" text-anchor="end" fill="#111" stroke="#111" stroke-width="0.18">0</text>
<line x1="428.20" y1="398.56" x2="431.60" y2="398.56" stroke="#111" stroke-width="0.9"/>
<text x="426.70" y="401.46" font-size="8.2" text-anchor="end" fill="#111" stroke="#111" stroke-width="0.18">20</text>
<line x1="428.20" y1="387.31" x2="431.60" y2="387.31" stroke="#111" stroke-width="0.9"/>
<text x="426.70" y="390.21" font-size="8.2" text-anchor="end" fill="#111" stroke="#111" stroke-width="0.18">40</text>
<line x1="428.20" y1="376.07" x2="431.60" y2="376.07" stroke="#111" stroke-width="0.9"/>
<text x="426.70" y="378.97" font-size="8.2" text-anchor="end" fill="#111" stroke="#111" stroke-width="0.18">60</text>
<line x1="428.20" y1="364.83" x2="431.60" y2="364.83" stroke="#111" stroke-width="0.9"/>
<text x="426.70" y="367.73" font-size="8.2" text-anchor="end" fill="#111" stroke="#111" stroke-width="0.18">80</text>
<line x1="428.20" y1="353.59" x2="431.60" y2="353.59" stroke="#111" stroke-width="0.9"/>
<text x="426.70" y="356.49" font-size="8.2" text-anchor="end" fill="#111" stroke="#111" stroke-width="0.18">100</text>
<line x1="428.20" y1="342.34" x2="431.60" y2="342.34" stroke="#111" stroke-width="0.9"/>
<text x="426.70" y="345.24" font-size="8.2" text-anchor="end" fill="#111" stroke="#111" stroke-width="0.18">120</text>
<line x1="428.20" y1="331.10" x2="431.60" y2="331.10" stroke="#111" stroke-width="0.9"/>
<text x="426.70" y="334.00" font-size="8.2" text-anchor="end" fill="#111" stroke="#111" stroke-width="0.18">140</text>
<line x1="455.40" y1="410.10" x2="455.40" y2="413.30" stroke="#111" stroke-width="0.9"/>
<text x="455.40" y="426.50" font-size="8.2" text-anchor="middle" fill="#111" stroke="#111" stroke-width="0.18">0</text>
<line x1="478.90" y1="410.10" x2="478.90" y2="413.30" stroke="#111" stroke-width="0.9"/>
<text x="478.90" y="426.50" font-size="8.2" text-anchor="middle" fill="#111" stroke="#111" stroke-width="0.18">1</text>
<line x1="502.40" y1="410.10" x2="502.40" y2="413.30" stroke="#111" stroke-width="0.9"/>
<text x="502.40" y="426.50" font-size="8.2" text-anchor="middle" fill="#111" stroke="#111" stroke-width="0.18">2</text>
<line x1="525.90" y1="410.10" x2="525.90" y2="413.30" stroke="#111" stroke-width="0.9"/>
<text x="525.90" y="426.50" font-size="8.2" text-anchor="middle" fill="#111" stroke="#111" stroke-width="0.18">3</text>
<line x1="549.40" y1="410.10" x2="549.40" y2="413.30" stroke="#111" stroke-width="0.9"/>
<text x="549.40" y="426.50" font-size="8.2" text-anchor="middle" fill="#111" stroke="#111" stroke-width="0.18">4</text>
<line x1="436.10" y1="410.10" x2="436.10" y2="413.30" stroke="#111" stroke-width="0.9"/>
<text x="0.00" y="0.00" transform="translate(439.10,414.80) rotate(-90)" font-size="8.2" text-anchor="end" fill="#111" stroke="#111" stroke-width="0.18">DMSO</text>
<text x="494.17" y="437.90" font-size="8.1" text-anchor="middle" fill="#111" stroke="#111" stroke-width="0.18">conc (log nM)</text>
<text x="0.00" y="0.00" transform="translate(410.20,370.30) rotate(-90)" font-size="8.2" text-anchor="middle" fill="#111" stroke="#111" stroke-width="0.18">% of viability</text>
<text x="483.60" y="321.50" font-size="8.2" text-anchor="middle" fill="#111" stroke="#111" stroke-width="0.18">SMARCA2_4.1</text>
<line x1="588.40" y1="336.80" x2="596.90" y2="336.80" stroke="#9fb3e0" stroke-width="0.8"/>
<circle cx="592.70" cy="336.80" r="1.90" fill="#3a62bc" stroke="none" stroke-width="0.5"/>
<text x="601.80" y="339.70" font-size="8" text-anchor="start" fill="#111" stroke="#111" stroke-width="0.18">22RV1</text>
<line x1="588.40" y1="348.00" x2="596.90" y2="348.00" stroke="#f5a0a3" stroke-width="0.8"/>
<rect x="590.95" y="346.25" width="3.50" height="3.50" fill="#ec3038" stroke="none" stroke-width="1"/>
<text x="601.80" y="350.90" font-size="8" text-anchor="start" fill="#111" stroke="#111" stroke-width="0.18">VCAP</text>
<line x1="588.40" y1="358.70" x2="596.90" y2="358.70" stroke="#93d3ac" stroke-width="0.8"/>
<path d="M592.70,356.60 L594.70,360.20 L590.70,360.20Z" fill="#25a558" stroke="none" stroke-width="1"/>
<text x="601.80" y="361.60" font-size="8" text-anchor="start" fill="#111" stroke="#111" stroke-width="0.18">DU145</text>
<line x1="588.40" y1="369.80" x2="596.90" y2="369.80" stroke="#c6addf" stroke-width="0.8"/>
<path d="M592.70,371.90 L594.70,368.30 L590.70,368.30Z" fill="#8c5cc0" stroke="none" stroke-width="1"/>
<text x="601.80" y="372.70" font-size="8" text-anchor="start" fill="#111" stroke="#111" stroke-width="0.18">LNCAP</text>
<line x1="588.40" y1="380.50" x2="596.90" y2="380.50" stroke="#f9c990" stroke-width="0.8"/>
<path d="M592.70,378.70 L594.20,380.50 L592.70,382.30 L591.20,380.50Z" fill="#f59a36" stroke="none" stroke-width="1"/>
<text x="601.80" y="383.40" font-size="8" text-anchor="start" fill="#111" stroke="#111" stroke-width="0.18">MDA-PCA-2B</text>
<line x1="588.40" y1="391.70" x2="596.90" y2="391.70" stroke="#555555" stroke-width="0.8"/>
<circle cx="592.70" cy="391.70" r="2.15" fill="#111111" stroke="none" stroke-width="0.5"/>
<text x="601.80" y="394.60" font-size="8" text-anchor="start" fill="#111" stroke="#111" stroke-width="0.18">H660</text>
<text x="0.00" y="468.40" font-size="10.3" text-anchor="start" fill="#111" font-weight="bold">f</text>
<line x1="39.50" y1="489.90" x2="39.50" y2="572.00" stroke="#2a2a2a" stroke-width="1.0"/>
<line x1="39.00" y1="571.50" x2="109.70" y2="571.50" stroke="#2a2a2a" stroke-width="1.0"/>
<line x1="37.40" y1="503.40" x2="39.60" y2="503.40" stroke="#333" stroke-width="0.8"/>
<text x="36.40" y="506.30" font-size="8.2" text-anchor="end" fill="#3a3a3a" stroke="#3a3a3a" stroke-width="0.18">7.5</text>
<line x1="37.40" y1="524.70" x2="39.60" y2="524.70" stroke="#333" stroke-width="0.8"/>
<text x="36.40" y="527.60" font-size="8.2" text-anchor="end" fill="#3a3a3a" stroke="#3a3a3a" stroke-width="0.18">5.0</text>
<line x1="37.40" y1="546.30" x2="39.60" y2="546.30" stroke="#333" stroke-width="0.8"/>
<text x="36.40" y="549.20" font-size="8.2" text-anchor="end" fill="#3a3a3a" stroke="#3a3a3a" stroke-width="0.18">2.5</text>
<line x1="37.40" y1="568.00" x2="39.60" y2="568.00" stroke="#333" stroke-width="0.8"/>
<text x="36.40" y="570.90" font-size="8.2" text-anchor="end" fill="#3a3a3a" stroke="#3a3a3a" stroke-width="0.18">0.0</text>
<line x1="49.50" y1="571.50" x2="49.50" y2="573.70" stroke="#333" stroke-width="0.8"/>
<text x="0.00" y="0.00" transform="translate(53.20,575.60) rotate(-90)" font-size="8.2" text-anchor="end" fill="#1a1a1a" stroke="#1a1a1a" stroke-width="0.18">DMSO</text>
<line x1="66.20" y1="571.50" x2="66.20" y2="573.70" stroke="#333" stroke-width="0.8"/>
<text x="0.00" y="0.00" transform="translate(69.90,575.60) rotate(-90)" font-size="8.2" text-anchor="end" fill="#1a1a1a" stroke="#1a1a1a" stroke-width="0.18">Enza</text>
<line x1="82.90" y1="571.50" x2="82.90" y2="573.70" stroke="#333" stroke-width="0.8"/>
<text x="0.00" y="0.00" transform="translate(86.60,575.60) rotate(-90)" font-size="8.2" text-anchor="end" fill="#1a1a1a" stroke="#1a1a1a" stroke-width="0.18">ARV110</text>
<line x1="99.60" y1="571.50" x2="99.60" y2="573.70" stroke="#333" stroke-width="0.8"/>
<text x="0.00" y="0.00" transform="translate(103.30,575.60) rotate(-90)" font-size="8.2" text-anchor="end" fill="#1a1a1a" stroke="#1a1a1a" stroke-width="0.18">SMACA2_4.1</text>
<text x="71.80" y="477.20" font-size="8.2" text-anchor="middle" fill="#111" stroke="#111" stroke-width="0.18">AR mRNA level</text>
<text x="0.00" y="0.00" transform="translate(10.20,530.00) rotate(-90)" font-size="8.3" text-anchor="middle" fill="#111" stroke="#111" stroke-width="0.18">AR gene expression</text>
<text x="0.00" y="0.00" transform="translate(21.20,530.00) rotate(-90)" font-size="8.4" text-anchor="middle" fill="#111" stroke="#111" stroke-width="0.18">(log2 normalized counts)</text>
<line x1="49.50" y1="492.90" x2="49.50" y2="522.20" stroke="#333" stroke-width="0.5"/>
<line x1="49.50" y1="534.30" x2="49.50" y2="568.00" stroke="#333" stroke-width="0.5"/>
<path d="M49.80,505.00 C49.92,505.67 50.18,507.58 50.50,509.00 C50.82,510.42 51.05,512.03 51.70,513.50 C52.35,514.97 53.63,516.35 54.40,517.80 C55.17,519.25 55.80,520.55 56.30,522.20 C56.80,523.85 57.40,525.87 57.40,527.70 C57.40,529.53 56.88,531.55 56.30,533.20 C55.72,534.85 54.77,536.15 53.90,537.60 C53.03,539.05 51.77,540.67 51.10,541.90 C50.43,543.13 50.10,544.48 49.90,545.00 L49.10,545.00 C48.90,544.48 48.57,543.13 47.90,541.90 C47.23,540.67 45.97,539.05 45.10,537.60 C44.23,536.15 43.28,534.85 42.70,533.20 C42.12,531.55 41.60,529.53 41.60,527.70 C41.60,525.87 42.20,523.85 42.70,522.20 C43.20,520.55 43.83,519.25 44.60,517.80 C45.37,516.35 46.65,514.97 47.30,513.50 C47.95,512.03 48.18,510.42 48.50,509.00 C48.82,507.58 49.08,505.67 49.20,505.00Z" fill="#b4b6b8" stroke="#262626" stroke-width="0.55"/>
<line x1="49.50" y1="505.00" x2="49.50" y2="522.20" stroke="#333" stroke-width="0.5"/>
<line x1="49.50" y1="534.30" x2="49.50" y2="545.00" stroke="#333" stroke-width="0.5"/>
<rect x="48.35" y="522.20" width="2.30" height="12.10" fill="none" stroke="#333" stroke-width="0.45"/>
<line x1="48.35" y1="527.70" x2="50.65" y2="527.70" stroke="#333" stroke-width="0.45"/>
<circle cx="49.50" cy="494.00" r="1.1" fill="#2a2a2a"/>
<circle cx="49.50" cy="496.80" r="1.1" fill="#2a2a2a"/>
<circle cx="49.50" cy="498.10" r="1.1" fill="#2a2a2a"/>
<circle cx="49.50" cy="500.90" r="1.1" fill="#2a2a2a"/>
<circle cx="49.50" cy="502.40" r="1.1" fill="#2a2a2a"/>
<circle cx="49.50" cy="503.90" r="1.1" fill="#2a2a2a"/>
<circle cx="49.50" cy="505.20" r="1.1" fill="#2a2a2a"/>
<circle cx="49.50" cy="506.70" r="1.1" fill="#2a2a2a"/>
<circle cx="49.50" cy="507.00" r="1.1" fill="#2a2a2a"/>
<circle cx="49.50" cy="547.00" r="1.1" fill="#2a2a2a"/>
<circle cx="49.50" cy="549.80" r="1.1" fill="#2a2a2a"/>
<circle cx="49.50" cy="552.00" r="1.1" fill="#2a2a2a"/>
<circle cx="49.50" cy="555.40" r="1.1" fill="#2a2a2a"/>
<circle cx="49.50" cy="557.20" r="1.1" fill="#2a2a2a"/>
<circle cx="49.50" cy="559.40" r="1.1" fill="#2a2a2a"/>
<circle cx="49.50" cy="559.50" r="1.1" fill="#2a2a2a"/>
<circle cx="49.50" cy="492.90" r="1.10" fill="#2a2a2a" stroke="none" stroke-width="0.5"/>
<circle cx="49.50" cy="568.00" r="1.10" fill="#2a2a2a" stroke="none" stroke-width="0.5"/>
<line x1="66.20" y1="496.00" x2="66.20" y2="513.50" stroke="#333" stroke-width="0.5"/>
<line x1="66.20" y1="526.60" x2="66.20" y2="568.00" stroke="#333" stroke-width="0.5"/>
<path d="M66.40,496.00 C66.55,496.90 66.70,499.58 67.30,501.40 C67.90,503.22 69.18,505.07 70.00,506.90 C70.82,508.73 71.70,510.58 72.20,512.40 C72.70,514.22 73.00,515.98 73.00,517.80 C73.00,519.62 72.60,521.47 72.20,523.30 C71.80,525.13 71.20,526.97 70.60,528.80 C70.00,530.63 69.18,532.48 68.60,534.30 C68.02,536.12 67.45,538.42 67.10,539.70 C66.75,540.98 66.60,541.62 66.50,542.00 L65.90,542.00 C65.80,541.62 65.65,540.98 65.30,539.70 C64.95,538.42 64.38,536.12 63.80,534.30 C63.22,532.48 62.40,530.63 61.80,528.80 C61.20,526.97 60.60,525.13 60.20,523.30 C59.80,521.47 59.40,519.62 59.40,517.80 C59.40,515.98 59.70,514.22 60.20,512.40 C60.70,510.58 61.58,508.73 62.40,506.90 C63.22,505.07 64.50,503.22 65.10,501.40 C65.70,499.58 65.85,496.90 66.00,496.00Z" fill="#e41e2d" stroke="#262626" stroke-width="0.55"/>
<line x1="66.20" y1="496.00" x2="66.20" y2="513.50" stroke="#333" stroke-width="0.5"/>
<line x1="66.20" y1="526.60" x2="66.20" y2="542.00" stroke="#333" stroke-width="0.5"/>
<rect x="65.05" y="513.50" width="2.30" height="13.10" fill="none" stroke="#333" stroke-width="0.45"/>
<line x1="65.05" y1="519.80" x2="67.35" y2="519.80" stroke="#333" stroke-width="0.45"/>
<circle cx="66.20" cy="544.00" r="1.1" fill="#2a2a2a"/>
<circle cx="66.20" cy="546.20" r="1.1" fill="#2a2a2a"/>
<circle cx="66.20" cy="548.00" r="1.1" fill="#2a2a2a"/>
<circle cx="66.20" cy="550.20" r="1.1" fill="#2a2a2a"/>
<circle cx="66.20" cy="553.60" r="1.1" fill="#2a2a2a"/>
<circle cx="66.20" cy="557.00" r="1.1" fill="#2a2a2a"/>
<circle cx="66.20" cy="557.30" r="1.1" fill="#2a2a2a"/>
<circle cx="66.20" cy="568.00" r="1.10" fill="#2a2a2a" stroke="none" stroke-width="0.5"/>
<line x1="82.90" y1="499.20" x2="82.90" y2="518.90" stroke="#333" stroke-width="0.5"/>
<line x1="82.90" y1="532.10" x2="82.90" y2="568.00" stroke="#333" stroke-width="0.5"/>
<path d="M83.10,503.60 C83.28,504.15 83.60,505.43 84.20,506.90 C84.80,508.37 85.92,510.58 86.70,512.40 C87.48,514.22 88.35,515.80 88.90,517.80 C89.45,519.80 90.00,522.38 90.00,524.40 C90.00,526.42 89.45,528.07 88.90,529.90 C88.35,531.73 87.43,533.58 86.70,535.40 C85.97,537.22 85.07,539.20 84.50,540.80 C83.93,542.40 83.50,544.30 83.30,545.00 L82.50,545.00 C82.30,544.30 81.87,542.40 81.30,540.80 C80.73,539.20 79.83,537.22 79.10,535.40 C78.37,533.58 77.45,531.73 76.90,529.90 C76.35,528.07 75.80,526.42 75.80,524.40 C75.80,522.38 76.35,519.80 76.90,517.80 C77.45,515.80 78.32,514.22 79.10,512.40 C79.88,510.58 81.00,508.37 81.60,506.90 C82.20,505.43 82.52,504.15 82.70,503.60Z" fill="#2e50a2" stroke="#262626" stroke-width="0.55"/>
<line x1="82.90" y1="503.60" x2="82.90" y2="518.90" stroke="#333" stroke-width="0.5"/>
<line x1="82.90" y1="532.10" x2="82.90" y2="545.00" stroke="#333" stroke-width="0.5"/>
<rect x="81.75" y="518.90" width="2.30" height="13.20" fill="none" stroke="#333" stroke-width="0.45"/>
<line x1="81.75" y1="525.50" x2="84.05" y2="525.50" stroke="#333" stroke-width="0.45"/>
<circle cx="82.90" cy="499.20" r="1.1" fill="#2a2a2a"/>
<circle cx="82.90" cy="501.40" r="1.1" fill="#2a2a2a"/>
<circle cx="82.90" cy="503.60" r="1.1" fill="#2a2a2a"/>
<circle cx="82.90" cy="503.60" r="1.1" fill="#2a2a2a"/>
<circle cx="82.90" cy="549.60" r="1.1" fill="#2a2a2a"/>
<circle cx="82.90" cy="551.80" r="1.1" fill="#2a2a2a"/>
<circle cx="82.90" cy="555.20" r="1.1" fill="#2a2a2a"/>
<circle cx="82.90" cy="557.40" r="1.1" fill="#2a2a2a"/>
<circle cx="82.90" cy="558.40" r="1.1" fill="#2a2a2a"/>
<circle cx="82.90" cy="568.00" r="1.10" fill="#2a2a2a" stroke="none" stroke-width="0.5"/>
<line x1="99.60" y1="511.00" x2="99.60" y2="532.10" stroke="#333" stroke-width="0.5"/>
<line x1="99.60" y1="543.00" x2="99.60" y2="568.60" stroke="#333" stroke-width="0.5"/>
<path d="M99.80,520.00 C100.13,520.73 101.02,522.93 101.80,524.40 C102.58,525.87 103.77,527.15 104.50,528.80 C105.23,530.45 105.83,532.83 106.20,534.30 C106.57,535.77 106.80,536.33 106.70,537.60 C106.60,538.87 106.15,540.27 105.60,541.90 C105.05,543.53 104.13,545.57 103.40,547.40 C102.67,549.23 101.75,551.25 101.20,552.90 C100.65,554.55 100.30,555.78 100.10,557.30 C99.90,558.82 99.88,560.72 100.00,562.00 C100.12,563.28 100.58,564.17 100.80,565.00 C101.02,565.83 101.37,566.40 101.30,567.00 C101.23,567.60 100.55,568.33 100.40,568.60 L98.80,568.60 C98.65,568.33 97.97,567.60 97.90,567.00 C97.83,566.40 98.18,565.83 98.40,565.00 C98.62,564.17 99.08,563.28 99.20,562.00 C99.32,560.72 99.30,558.82 99.10,557.30 C98.90,555.78 98.55,554.55 98.00,552.90 C97.45,551.25 96.53,549.23 95.80,547.40 C95.07,545.57 94.15,543.53 93.60,541.90 C93.05,540.27 92.60,538.87 92.50,537.60 C92.40,536.33 92.63,535.77 93.00,534.30 C93.37,532.83 93.97,530.45 94.70,528.80 C95.43,527.15 96.62,525.87 97.40,524.40 C98.18,522.93 99.07,520.73 99.40,520.00Z" fill="#f5a02a" stroke="#262626" stroke-width="0.55"/>
<line x1="99.60" y1="520.00" x2="99.60" y2="532.10" stroke="#333" stroke-width="0.5"/>
<line x1="99.60" y1="543.00" x2="99.60" y2="568.60" stroke="#333" stroke-width="0.5"/>
<rect x="98.45" y="532.10" width="2.30" height="10.90" fill="none" stroke="#333" stroke-width="0.45"/>
<line x1="98.45" y1="537.60" x2="100.75" y2="537.60" stroke="#333" stroke-width="0.45"/>
<circle cx="99.60" cy="511.00" r="1.10" fill="#2a2a2a" stroke="none" stroke-width="0.5"/>
<text x="119.10" y="470.30" font-size="8.2" text-anchor="start" fill="#111" stroke="#111" stroke-width="0.18">VCaP</text>
<line x1="119.10" y1="471.80" x2="140.70" y2="471.80" stroke="#111" stroke-width="0.6"/>
<line x1="152.50" y1="494.30" x2="152.50" y2="573.00" stroke="#2a2a2a" stroke-width="1.0"/>
<line x1="152.00" y1="572.50" x2="231.90" y2="572.50" stroke="#2a2a2a" stroke-width="1.0"/>
<line x1="150.50" y1="496.20" x2="152.70" y2="496.20" stroke="#333" stroke-width="0.8"/>
<text x="149.50" y="499.10" font-size="8.2" text-anchor="end" fill="#3a3a3a" stroke="#3a3a3a" stroke-width="0.18">0.16</text>
<line x1="150.50" y1="515.10" x2="152.70" y2="515.10" stroke="#333" stroke-width="0.8"/>
<text x="149.50" y="518.00" font-size="8.2" text-anchor="end" fill="#3a3a3a" stroke="#3a3a3a" stroke-width="0.18">0.12</text>
<line x1="150.50" y1="534.00" x2="152.70" y2="534.00" stroke="#333" stroke-width="0.8"/>
<text x="149.50" y="536.90" font-size="8.2" text-anchor="end" fill="#3a3a3a" stroke="#3a3a3a" stroke-width="0.18">0.08</text>
<line x1="150.50" y1="552.90" x2="152.70" y2="552.90" stroke="#333" stroke-width="0.8"/>
<text x="149.50" y="555.80" font-size="8.2" text-anchor="end" fill="#3a3a3a" stroke="#3a3a3a" stroke-width="0.18">0.04</text>
<line x1="150.50" y1="571.40" x2="152.70" y2="571.40" stroke="#333" stroke-width="0.8"/>
<text x="149.50" y="574.30" font-size="8.2" text-anchor="end" fill="#3a3a3a" stroke="#3a3a3a" stroke-width="0.18">0.00</text>
<line x1="164.30" y1="571.90" x2="164.30" y2="574.10" stroke="#333" stroke-width="0.8"/>
<text x="0.00" y="0.00" transform="translate(168.00,576.00) rotate(-90)" font-size="8.2" text-anchor="end" fill="#1a1a1a" stroke="#1a1a1a" stroke-width="0.18">DMSO</text>
<line x1="183.30" y1="571.90" x2="183.30" y2="574.10" stroke="#333" stroke-width="0.8"/>
<text x="0.00" y="0.00" transform="translate(187.00,576.00) rotate(-90)" font-size="8.2" text-anchor="end" fill="#1a1a1a" stroke="#1a1a1a" stroke-width="0.18">Enza</text>
<line x1="202.10" y1="571.90" x2="202.10" y2="574.10" stroke="#333" stroke-width="0.8"/>
<text x="0.00" y="0.00" transform="translate(205.80,576.00) rotate(-90)" font-size="8.2" text-anchor="end" fill="#1a1a1a" stroke="#1a1a1a" stroke-width="0.18">ARV110</text>
<line x1="220.70" y1="571.90" x2="220.70" y2="574.10" stroke="#333" stroke-width="0.8"/>
<text x="0.00" y="0.00" transform="translate(224.40,576.00) rotate(-90)" font-size="8.2" text-anchor="end" fill="#1a1a1a" stroke="#1a1a1a" stroke-width="0.18">SMACA2.4_1</text>
<text x="204.20" y="477.40" font-size="8.2" text-anchor="middle" fill="#111" stroke="#111" stroke-width="0.18">AR activity</text>
<text x="0.00" y="0.00" transform="translate(131.70,527.80) rotate(-90)" font-size="8.2" text-anchor="middle" fill="#111" stroke="#111" stroke-width="0.18">activity</text>
<line x1="164.30" y1="496.80" x2="164.30" y2="531.50" stroke="#333" stroke-width="0.5"/>
<line x1="164.30" y1="543.30" x2="164.30" y2="568.40" stroke="#333" stroke-width="0.5"/>
<path d="M164.50,512.00 C164.58,513.28 164.75,517.17 165.00,519.70 C165.25,522.23 165.68,525.12 166.00,527.20 C166.32,529.28 166.65,530.33 166.90,532.20 C167.15,534.07 167.50,536.33 167.50,538.40 C167.50,540.47 167.23,542.53 166.90,544.60 C166.57,546.67 165.85,548.73 165.50,550.80 C165.15,552.87 164.97,555.47 164.80,557.00 C164.63,558.53 164.55,559.50 164.50,560.00 L164.10,560.00 C164.05,559.50 163.97,558.53 163.80,557.00 C163.63,555.47 163.45,552.87 163.10,550.80 C162.75,548.73 162.03,546.67 161.70,544.60 C161.37,542.53 161.10,540.47 161.10,538.40 C161.10,536.33 161.45,534.07 161.70,532.20 C161.95,530.33 162.28,529.28 162.60,527.20 C162.92,525.12 163.35,522.23 163.60,519.70 C163.85,517.17 164.02,513.28 164.10,512.00Z" fill="#b4b6b8" stroke="#262626" stroke-width="0.55"/>
<line x1="164.30" y1="512.00" x2="164.30" y2="531.50" stroke="#333" stroke-width="0.5"/>
<line x1="164.30" y1="543.30" x2="164.30" y2="560.00" stroke="#333" stroke-width="0.5"/>
<rect x="163.15" y="531.50" width="2.30" height="11.80" fill="none" stroke="#333" stroke-width="0.45"/>
<line x1="163.15" y1="537.50" x2="165.45" y2="537.50" stroke="#333" stroke-width="0.45"/>
<circle cx="164.30" cy="496.80" r="1.1" fill="#2a2a2a"/>
<circle cx="164.30" cy="498.30" r="1.1" fill="#2a2a2a"/>
<circle cx="164.30" cy="499.60" r="1.1" fill="#2a2a2a"/>
<circle cx="164.30" cy="501.80" r="1.1" fill="#2a2a2a"/>
<circle cx="164.30" cy="502.00" r="1.1" fill="#2a2a2a"/>
<circle cx="164.30" cy="505.00" r="1.1" fill="#2a2a2a"/>
<circle cx="164.30" cy="506.80" r="1.1" fill="#2a2a2a"/>
<circle cx="164.30" cy="509.00" r="1.1" fill="#2a2a2a"/>
<circle cx="164.30" cy="512.00" r="1.1" fill="#2a2a2a"/>
<circle cx="164.30" cy="562.60" r="1.10" fill="#2a2a2a" stroke="none" stroke-width="0.5"/>
<circle cx="164.30" cy="568.40" r="1.10" fill="#2a2a2a" stroke="none" stroke-width="0.5"/>
<line x1="183.30" y1="506.70" x2="183.30" y2="540.80" stroke="#333" stroke-width="0.5"/>
<line x1="183.30" y1="550.80" x2="183.30" y2="563.20" stroke="#333" stroke-width="0.5"/>
<path d="M183.50,527.00 C183.63,527.87 183.97,530.30 184.30,532.20 C184.63,534.10 185.13,536.33 185.50,538.40 C185.87,540.47 186.28,542.75 186.50,544.60 C186.72,546.45 186.92,547.85 186.80,549.50 C186.68,551.15 186.18,553.05 185.80,554.50 C185.42,555.95 184.88,556.75 184.50,558.20 C184.12,559.65 183.67,562.37 183.50,563.20 L183.10,563.20 C182.93,562.37 182.48,559.65 182.10,558.20 C181.72,556.75 181.18,555.95 180.80,554.50 C180.42,553.05 179.92,551.15 179.80,549.50 C179.68,547.85 179.88,546.45 180.10,544.60 C180.32,542.75 180.73,540.47 181.10,538.40 C181.47,536.33 181.97,534.10 182.30,532.20 C182.63,530.30 182.97,527.87 183.10,527.00Z" fill="#e41e2d" stroke="#262626" stroke-width="0.55"/>
<line x1="183.30" y1="527.00" x2="183.30" y2="540.80" stroke="#333" stroke-width="0.5"/>
<line x1="183.30" y1="550.80" x2="183.30" y2="563.20" stroke="#333" stroke-width="0.5"/>
<rect x="182.15" y="540.80" width="2.30" height="10.00" fill="none" stroke="#333" stroke-width="0.45"/>
<line x1="182.15" y1="545.50" x2="184.45" y2="545.50" stroke="#333" stroke-width="0.45"/>
<circle cx="183.30" cy="517.00" r="1.1" fill="#2a2a2a"/>
<circle cx="183.30" cy="518.50" r="1.1" fill="#2a2a2a"/>
<circle cx="183.30" cy="520.70" r="1.1" fill="#2a2a2a"/>
<circle cx="183.30" cy="522.00" r="1.1" fill="#2a2a2a"/>
<circle cx="183.30" cy="523.50" r="1.1" fill="#2a2a2a"/>
<circle cx="183.30" cy="526.00" r="1.1" fill="#2a2a2a"/>
<circle cx="183.30" cy="506.70" r="1.10" fill="#2a2a2a" stroke="none" stroke-width="0.5"/>
<circle cx="183.30" cy="510.50" r="1.10" fill="#2a2a2a" stroke="none" stroke-width="0.5"/>
<line x1="202.10" y1="512.90" x2="202.10" y2="543.00" stroke="#333" stroke-width="0.5"/>
<line x1="202.10" y1="552.00" x2="202.10" y2="565.00" stroke="#333" stroke-width="0.5"/>
<path d="M202.30,530.00 C202.37,530.77 202.37,532.80 202.70,534.60 C203.03,536.40 203.87,538.73 204.30,540.80 C204.73,542.87 205.13,545.13 205.30,547.00 C205.47,548.87 205.47,550.55 205.30,552.00 C205.13,553.45 204.72,554.45 204.30,555.70 C203.88,556.95 203.13,557.95 202.80,559.50 C202.47,561.05 202.38,564.08 202.30,565.00 L201.90,565.00 C201.82,564.08 201.73,561.05 201.40,559.50 C201.07,557.95 200.32,556.95 199.90,555.70 C199.48,554.45 199.07,553.45 198.90,552.00 C198.73,550.55 198.73,548.87 198.90,547.00 C199.07,545.13 199.47,542.87 199.90,540.80 C200.33,538.73 201.17,536.40 201.50,534.60 C201.83,532.80 201.83,530.77 201.90,530.00Z" fill="#2e50a2" stroke="#262626" stroke-width="0.55"/>
<line x1="202.10" y1="530.00" x2="202.10" y2="543.00" stroke="#333" stroke-width="0.5"/>
<line x1="202.10" y1="552.00" x2="202.10" y2="565.00" stroke="#333" stroke-width="0.5"/>
<rect x="200.95" y="543.00" width="2.30" height="9.00" fill="none" stroke="#333" stroke-width="0.45"/>
<line x1="200.95" y1="547.50" x2="203.25" y2="547.50" stroke="#333" stroke-width="0.45"/>
<circle cx="202.10" cy="518.00" r="1.1" fill="#2a2a2a"/>
<circle cx="202.10" cy="519.50" r="1.1" fill="#2a2a2a"/>
<circle cx="202.10" cy="522.90" r="1.1" fill="#2a2a2a"/>
<circle cx="202.10" cy="524.70" r="1.1" fill="#2a2a2a"/>
<circle cx="202.10" cy="527.50" r="1.1" fill="#2a2a2a"/>
<circle cx="202.10" cy="529.00" r="1.1" fill="#2a2a2a"/>
<circle cx="202.10" cy="512.90" r="1.10" fill="#2a2a2a" stroke="none" stroke-width="0.5"/>
<line x1="220.70" y1="547.70" x2="220.70" y2="557.50" stroke="#333" stroke-width="0.5"/>
<line x1="220.70" y1="564.00" x2="220.70" y2="569.20" stroke="#333" stroke-width="0.5"/>
<path d="M221.30,555.70 C221.92,556.12 223.70,557.27 225.00,558.20 C226.30,559.13 228.98,560.47 229.10,561.30 C229.22,562.13 226.93,562.47 225.70,563.20 C224.47,563.93 222.37,565.28 221.70,565.70 L219.70,565.70 C219.03,565.28 216.93,563.93 215.70,563.20 C214.47,562.47 212.18,562.13 212.30,561.30 C212.42,560.47 215.10,559.13 216.40,558.20 C217.70,557.27 219.48,556.12 220.10,555.70Z" fill="#f5a02a" stroke="#262626" stroke-width="0.55"/>
<line x1="220.70" y1="555.70" x2="220.70" y2="557.50" stroke="#333" stroke-width="0.5"/>
<line x1="220.70" y1="564.00" x2="220.70" y2="565.70" stroke="#333" stroke-width="0.5"/>
<rect x="219.55" y="557.50" width="2.30" height="6.50" fill="none" stroke="#333" stroke-width="0.45"/>
<line x1="219.55" y1="561.00" x2="221.85" y2="561.00" stroke="#333" stroke-width="0.45"/>
<circle cx="220.70" cy="547.70" r="1.1" fill="#2a2a2a"/>
<circle cx="220.70" cy="551.10" r="1.1" fill="#2a2a2a"/>
<circle cx="220.70" cy="552.60" r="1.1" fill="#2a2a2a"/>
<circle cx="220.70" cy="555.70" r="1.1" fill="#2a2a2a"/>
<circle cx="220.70" cy="567.50" r="1.10" fill="#2a2a2a" stroke="none" stroke-width="0.5"/>
<circle cx="220.70" cy="569.20" r="1.10" fill="#2a2a2a" stroke="none" stroke-width="0.5"/>
<line x1="304.50" y1="478.90" x2="304.50" y2="573.00" stroke="#2a2a2a" stroke-width="1.0"/>
<line x1="304.00" y1="572.50" x2="384.70" y2="572.50" stroke="#2a2a2a" stroke-width="1.0"/>
<line x1="302.40" y1="494.70" x2="304.60" y2="494.70" stroke="#333" stroke-width="0.8"/>
<text x="301.40" y="497.60" font-size="8.2" text-anchor="end" fill="#3a3a3a" stroke="#3a3a3a" stroke-width="0.18">6</text>
<line x1="302.40" y1="521.20" x2="304.60" y2="521.20" stroke="#333" stroke-width="0.8"/>
<text x="301.40" y="524.10" font-size="8.2" text-anchor="end" fill="#3a3a3a" stroke="#3a3a3a" stroke-width="0.18">4</text>
<line x1="302.40" y1="544.60" x2="304.60" y2="544.60" stroke="#333" stroke-width="0.8"/>
<text x="301.40" y="547.50" font-size="8.2" text-anchor="end" fill="#3a3a3a" stroke="#3a3a3a" stroke-width="0.18">2</text>
<line x1="302.40" y1="568.00" x2="304.60" y2="568.00" stroke="#333" stroke-width="0.8"/>
<text x="301.40" y="570.90" font-size="8.2" text-anchor="end" fill="#3a3a3a" stroke="#3a3a3a" stroke-width="0.18">0</text>
<line x1="316.00" y1="572.20" x2="316.00" y2="574.40" stroke="#333" stroke-width="0.8"/>
<text x="0.00" y="0.00" transform="translate(319.70,576.30) rotate(-90)" font-size="8.2" text-anchor="end" fill="#1a1a1a" stroke="#1a1a1a" stroke-width="0.18">DMSO</text>
<line x1="335.20" y1="572.20" x2="335.20" y2="574.40" stroke="#333" stroke-width="0.8"/>
<text x="0.00" y="0.00" transform="translate(338.90,576.30) rotate(-90)" font-size="8.2" text-anchor="end" fill="#1a1a1a" stroke="#1a1a1a" stroke-width="0.18">Enza</text>
<line x1="354.50" y1="572.20" x2="354.50" y2="574.40" stroke="#333" stroke-width="0.8"/>
<text x="0.00" y="0.00" transform="translate(358.20,576.30) rotate(-90)" font-size="8.2" text-anchor="end" fill="#1a1a1a" stroke="#1a1a1a" stroke-width="0.18">ARV110</text>
<line x1="373.80" y1="572.20" x2="373.80" y2="574.40" stroke="#333" stroke-width="0.8"/>
<text x="0.00" y="0.00" transform="translate(377.50,576.30) rotate(-90)" font-size="8.2" text-anchor="end" fill="#1a1a1a" stroke="#1a1a1a" stroke-width="0.18">SMACA2.4_1</text>
<text x="344.00" y="476.60" font-size="8.2" text-anchor="middle" fill="#111" stroke="#111" stroke-width="0.18">AR mRNA level</text>
<text x="0.00" y="0.00" transform="translate(282.10,529.00) rotate(-90)" font-size="8.3" text-anchor="middle" fill="#111" stroke="#111" stroke-width="0.18">AR gene expression</text>
<text x="0.00" y="0.00" transform="translate(293.30,529.00) rotate(-90)" font-size="8.4" text-anchor="middle" fill="#111" stroke="#111" stroke-width="0.18">(log2 normalized counts)</text>
<line x1="316.00" y1="484.90" x2="316.00" y2="522.30" stroke="#333" stroke-width="0.5"/>
<line x1="316.00" y1="539.40" x2="316.00" y2="568.30" stroke="#333" stroke-width="0.5"/>
<path d="M316.20,505.00 C316.38,505.70 316.45,507.63 317.30,509.20 C318.15,510.77 320.20,512.43 321.30,514.40 C322.40,516.37 323.37,518.80 323.90,521.00 C324.43,523.20 324.68,525.42 324.50,527.60 C324.32,529.78 323.45,531.92 322.80,534.10 C322.15,536.28 321.33,538.50 320.60,540.70 C319.87,542.90 319.00,545.12 318.40,547.30 C317.80,549.48 317.32,551.62 317.00,553.80 C316.68,555.98 316.45,558.87 316.50,560.40 C316.55,561.93 316.90,562.12 317.30,563.00 C317.70,563.88 318.50,564.87 318.90,565.70 C319.30,566.53 320.10,567.57 319.70,568.00 C319.30,568.43 317.03,568.25 316.50,568.30 L315.50,568.30 C314.97,568.25 312.70,568.43 312.30,568.00 C311.90,567.57 312.70,566.53 313.10,565.70 C313.50,564.87 314.30,563.88 314.70,563.00 C315.10,562.12 315.45,561.93 315.50,560.40 C315.55,558.87 315.32,555.98 315.00,553.80 C314.68,551.62 314.20,549.48 313.60,547.30 C313.00,545.12 312.13,542.90 311.40,540.70 C310.67,538.50 309.85,536.28 309.20,534.10 C308.55,531.92 307.68,529.78 307.50,527.60 C307.32,525.42 307.57,523.20 308.10,521.00 C308.63,518.80 309.60,516.37 310.70,514.40 C311.80,512.43 313.85,510.77 314.70,509.20 C315.55,507.63 315.62,505.70 315.80,505.00Z" fill="#b4b6b8" stroke="#262626" stroke-width="0.55"/>
<line x1="316.00" y1="505.00" x2="316.00" y2="522.30" stroke="#333" stroke-width="0.5"/>
<line x1="316.00" y1="539.40" x2="316.00" y2="568.30" stroke="#333" stroke-width="0.5"/>
<rect x="314.85" y="522.30" width="2.30" height="17.10" fill="none" stroke="#333" stroke-width="0.45"/>
<line x1="314.85" y1="530.00" x2="317.15" y2="530.00" stroke="#333" stroke-width="0.45"/>
<circle cx="316.00" cy="484.90" r="1.10" fill="#2a2a2a" stroke="none" stroke-width="0.5"/>
<circle cx="316.00" cy="490.50" r="1.10" fill="#2a2a2a" stroke="none" stroke-width="0.5"/>
<circle cx="316.00" cy="496.00" r="1.10" fill="#2a2a2a" stroke="none" stroke-width="0.5"/>
<circle cx="316.00" cy="568.00" r="1.10" fill="#2a2a2a" stroke="none" stroke-width="0.5"/>
<line x1="335.20" y1="482.90" x2="335.20" y2="523.40" stroke="#333" stroke-width="0.5"/>
<line x1="335.20" y1="542.70" x2="335.20" y2="568.30" stroke="#333" stroke-width="0.5"/>
<path d="M335.40,505.00 C335.58,505.70 335.88,507.63 336.50,509.20 C337.12,510.77 338.27,512.43 339.10,514.40 C339.93,516.37 340.95,518.37 341.50,521.00 C342.05,523.63 342.47,527.35 342.40,530.20 C342.33,533.05 341.75,535.47 341.10,538.10 C340.45,540.73 339.32,543.38 338.50,546.00 C337.68,548.62 336.65,551.40 336.20,553.80 C335.75,556.20 335.53,558.65 335.80,560.40 C336.07,562.15 337.20,563.03 337.80,564.30 C338.40,565.57 339.75,567.33 339.40,568.00 C339.05,568.67 336.32,568.25 335.70,568.30 L334.70,568.30 C334.08,568.25 331.35,568.67 331.00,568.00 C330.65,567.33 332.00,565.57 332.60,564.30 C333.20,563.03 334.33,562.15 334.60,560.40 C334.87,558.65 334.65,556.20 334.20,553.80 C333.75,551.40 332.72,548.62 331.90,546.00 C331.08,543.38 329.95,540.73 329.30,538.10 C328.65,535.47 328.07,533.05 328.00,530.20 C327.93,527.35 328.35,523.63 328.90,521.00 C329.45,518.37 330.47,516.37 331.30,514.40 C332.13,512.43 333.28,510.77 333.90,509.20 C334.52,507.63 334.82,505.70 335.00,505.00Z" fill="#e41e2d" stroke="#262626" stroke-width="0.55"/>
<line x1="335.20" y1="505.00" x2="335.20" y2="523.40" stroke="#333" stroke-width="0.5"/>
<line x1="335.20" y1="542.70" x2="335.20" y2="568.30" stroke="#333" stroke-width="0.5"/>
<rect x="334.05" y="523.40" width="2.30" height="19.30" fill="none" stroke="#333" stroke-width="0.45"/>
<line x1="334.05" y1="531.50" x2="336.35" y2="531.50" stroke="#333" stroke-width="0.45"/>
<circle cx="335.20" cy="482.90" r="1.10" fill="#2a2a2a" stroke="none" stroke-width="0.5"/>
<line x1="354.50" y1="486.60" x2="354.50" y2="527.30" stroke="#333" stroke-width="0.5"/>
<line x1="354.50" y1="546.60" x2="354.50" y2="568.30" stroke="#333" stroke-width="0.5"/>
<path d="M354.70,508.00 C355.00,508.63 355.65,510.07 356.50,511.80 C357.35,513.53 358.93,515.77 359.80,518.40 C360.67,521.03 361.45,524.98 361.70,527.60 C361.95,530.22 361.67,531.70 361.30,534.10 C360.93,536.50 360.20,539.37 359.50,542.00 C358.80,544.63 357.77,547.27 357.10,549.90 C356.43,552.53 355.77,555.83 355.50,557.80 C355.23,559.77 355.18,560.38 355.50,561.70 C355.82,563.02 356.95,564.65 357.40,565.70 C357.85,566.75 358.60,567.57 358.20,568.00 C357.80,568.43 355.53,568.25 355.00,568.30 L354.00,568.30 C353.47,568.25 351.20,568.43 350.80,568.00 C350.40,567.57 351.15,566.75 351.60,565.70 C352.05,564.65 353.18,563.02 353.50,561.70 C353.82,560.38 353.77,559.77 353.50,557.80 C353.23,555.83 352.57,552.53 351.90,549.90 C351.23,547.27 350.20,544.63 349.50,542.00 C348.80,539.37 348.07,536.50 347.70,534.10 C347.33,531.70 347.05,530.22 347.30,527.60 C347.55,524.98 348.33,521.03 349.20,518.40 C350.07,515.77 351.65,513.53 352.50,511.80 C353.35,510.07 354.00,508.63 354.30,508.00Z" fill="#2e50a2" stroke="#262626" stroke-width="0.55"/>
<line x1="354.50" y1="508.00" x2="354.50" y2="527.30" stroke="#333" stroke-width="0.5"/>
<line x1="354.50" y1="546.60" x2="354.50" y2="568.30" stroke="#333" stroke-width="0.5"/>
<rect x="353.35" y="527.30" width="2.30" height="19.30" fill="none" stroke="#333" stroke-width="0.45"/>
<line x1="353.35" y1="536.00" x2="355.65" y2="536.00" stroke="#333" stroke-width="0.45"/>
<circle cx="354.50" cy="486.60" r="1.10" fill="#2a2a2a" stroke="none" stroke-width="0.5"/>
<circle cx="354.50" cy="491.40" r="1.10" fill="#2a2a2a" stroke="none" stroke-width="0.5"/>
<circle cx="354.50" cy="496.70" r="1.10" fill="#2a2a2a" stroke="none" stroke-width="0.5"/>
<line x1="373.80" y1="499.30" x2="373.80" y2="536.10" stroke="#333" stroke-width="0.5"/>
<line x1="373.80" y1="555.10" x2="373.80" y2="568.30" stroke="#333" stroke-width="0.5"/>
<path d="M374.00,512.00 C374.30,513.50 375.18,518.40 375.80,521.00 C376.42,523.60 377.15,525.42 377.70,527.60 C378.25,529.78 378.70,531.48 379.10,534.10 C379.50,536.72 380.07,540.45 380.10,543.30 C380.13,546.15 379.92,548.78 379.30,551.20 C378.68,553.62 377.15,556.05 376.40,557.80 C375.65,559.55 374.58,560.38 374.80,561.70 C375.02,563.02 376.77,564.65 377.70,565.70 C378.63,566.75 380.97,567.57 380.40,568.00 C379.83,568.43 375.32,568.25 374.30,568.30 L373.30,568.30 C372.28,568.25 367.77,568.43 367.20,568.00 C366.63,567.57 368.97,566.75 369.90,565.70 C370.83,564.65 372.58,563.02 372.80,561.70 C373.02,560.38 371.95,559.55 371.20,557.80 C370.45,556.05 368.92,553.62 368.30,551.20 C367.68,548.78 367.47,546.15 367.50,543.30 C367.53,540.45 368.10,536.72 368.50,534.10 C368.90,531.48 369.35,529.78 369.90,527.60 C370.45,525.42 371.18,523.60 371.80,521.00 C372.42,518.40 373.30,513.50 373.60,512.00Z" fill="#f5a02a" stroke="#262626" stroke-width="0.55"/>
<line x1="373.80" y1="512.00" x2="373.80" y2="536.10" stroke="#333" stroke-width="0.5"/>
<line x1="373.80" y1="555.10" x2="373.80" y2="568.30" stroke="#333" stroke-width="0.5"/>
<rect x="372.65" y="536.10" width="2.30" height="19.00" fill="none" stroke="#333" stroke-width="0.45"/>
<line x1="372.65" y1="545.50" x2="374.95" y2="545.50" stroke="#333" stroke-width="0.45"/>
<circle cx="373.80" cy="499.30" r="1.1" fill="#2a2a2a"/>
<circle cx="373.80" cy="500.80" r="1.1" fill="#2a2a2a"/>
<circle cx="373.80" cy="502.10" r="1.1" fill="#2a2a2a"/>
<circle cx="373.80" cy="503.60" r="1.1" fill="#2a2a2a"/>
<circle cx="373.80" cy="505.90" r="1.1" fill="#2a2a2a"/>
<text x="399.40" y="470.30" font-size="8.2" text-anchor="start" fill="#111" stroke="#111" stroke-width="0.18">LNCaP</text>
<line x1="399.40" y1="471.80" x2="426.00" y2="471.80" stroke="#111" stroke-width="0.6"/>
<line x1="426.50" y1="494.00" x2="426.50" y2="573.00" stroke="#2a2a2a" stroke-width="1.0"/>
<line x1="426.00" y1="572.50" x2="513.00" y2="572.50" stroke="#2a2a2a" stroke-width="1.0"/>
<line x1="423.90" y1="497.10" x2="426.10" y2="497.10" stroke="#333" stroke-width="0.8"/>
<text x="422.90" y="500.00" font-size="8.2" text-anchor="end" fill="#3a3a3a" stroke="#3a3a3a" stroke-width="0.18">0.15</text>
<line x1="423.90" y1="520.60" x2="426.10" y2="520.60" stroke="#333" stroke-width="0.8"/>
<text x="422.90" y="523.50" font-size="8.2" text-anchor="end" fill="#3a3a3a" stroke="#3a3a3a" stroke-width="0.18">0.10</text>
<line x1="423.90" y1="544.30" x2="426.10" y2="544.30" stroke="#333" stroke-width="0.8"/>
<text x="422.90" y="547.20" font-size="8.2" text-anchor="end" fill="#3a3a3a" stroke="#3a3a3a" stroke-width="0.18">0.05</text>
<line x1="423.90" y1="567.30" x2="426.10" y2="567.30" stroke="#333" stroke-width="0.8"/>
<text x="422.90" y="570.20" font-size="8.2" text-anchor="end" fill="#3a3a3a" stroke="#3a3a3a" stroke-width="0.18">0.00</text>
<line x1="438.20" y1="572.40" x2="438.20" y2="574.60" stroke="#333" stroke-width="0.8"/>
<text x="0.00" y="0.00" transform="translate(441.90,576.50) rotate(-90)" font-size="8.2" text-anchor="end" fill="#1a1a1a" stroke="#1a1a1a" stroke-width="0.18">DMSO</text>
<line x1="459.00" y1="572.40" x2="459.00" y2="574.60" stroke="#333" stroke-width="0.8"/>
<text x="0.00" y="0.00" transform="translate(462.70,576.50) rotate(-90)" font-size="8.2" text-anchor="end" fill="#1a1a1a" stroke="#1a1a1a" stroke-width="0.18">Enza</text>
<line x1="479.80" y1="572.40" x2="479.80" y2="574.60" stroke="#333" stroke-width="0.8"/>
<text x="0.00" y="0.00" transform="translate(483.50,576.50) rotate(-90)" font-size="8.2" text-anchor="end" fill="#1a1a1a" stroke="#1a1a1a" stroke-width="0.18">ARV110</text>
<line x1="500.60" y1="572.40" x2="500.60" y2="574.60" stroke="#333" stroke-width="0.8"/>
<text x="0.00" y="0.00" transform="translate(504.30,576.50) rotate(-90)" font-size="8.2" text-anchor="end" fill="#1a1a1a" stroke="#1a1a1a" stroke-width="0.18">SMACA2.4_1</text>
<text x="473.20" y="478.40" font-size="8.2" text-anchor="middle" fill="#111" stroke="#111" stroke-width="0.18">AR activity</text>
<text x="0.00" y="0.00" transform="translate(405.80,527.80) rotate(-90)" font-size="8.2" text-anchor="middle" fill="#111" stroke="#111" stroke-width="0.18">activity</text>
<line x1="438.20" y1="496.80" x2="438.20" y2="535.00" stroke="#333" stroke-width="0.5"/>
<line x1="438.20" y1="546.00" x2="438.20" y2="568.90" stroke="#333" stroke-width="0.5"/>
<path d="M438.60,519.00 C438.73,520.17 438.97,523.67 439.40,526.00 C439.83,528.33 440.75,530.67 441.20,533.00 C441.65,535.33 442.10,537.67 442.10,540.00 C442.10,542.33 441.60,544.83 441.20,547.00 C440.80,549.17 440.10,550.83 439.70,553.00 C439.30,555.17 439.00,557.83 438.80,560.00 C438.60,562.17 438.55,565.00 438.50,566.00 L437.90,566.00 C437.85,565.00 437.80,562.17 437.60,560.00 C437.40,557.83 437.10,555.17 436.70,553.00 C436.30,550.83 435.60,549.17 435.20,547.00 C434.80,544.83 434.30,542.33 434.30,540.00 C434.30,537.67 434.75,535.33 435.20,533.00 C435.65,530.67 436.57,528.33 437.00,526.00 C437.43,523.67 437.67,520.17 437.80,519.00Z" fill="#b4b6b8" stroke="#262626" stroke-width="0.55"/>
<line x1="438.20" y1="519.00" x2="438.20" y2="535.00" stroke="#333" stroke-width="0.5"/>
<line x1="438.20" y1="546.00" x2="438.20" y2="566.00" stroke="#333" stroke-width="0.5"/>
<rect x="437.05" y="535.00" width="2.30" height="11.00" fill="none" stroke="#333" stroke-width="0.45"/>
<line x1="437.05" y1="540.00" x2="439.35" y2="540.00" stroke="#333" stroke-width="0.45"/>
<circle cx="438.20" cy="496.80" r="1.1" fill="#2a2a2a"/>
<circle cx="438.20" cy="500.20" r="1.1" fill="#2a2a2a"/>
<circle cx="438.20" cy="503.60" r="1.1" fill="#2a2a2a"/>
<circle cx="438.20" cy="506.40" r="1.1" fill="#2a2a2a"/>
<circle cx="438.20" cy="508.20" r="1.1" fill="#2a2a2a"/>
<circle cx="438.20" cy="511.00" r="1.1" fill="#2a2a2a"/>
<circle cx="438.20" cy="513.20" r="1.1" fill="#2a2a2a"/>
<circle cx="438.20" cy="516.00" r="1.1" fill="#2a2a2a"/>
<circle cx="438.20" cy="518.80" r="1.1" fill="#2a2a2a"/>
<circle cx="438.20" cy="519.70" r="1.1" fill="#2a2a2a"/>
<circle cx="438.20" cy="562.70" r="1.1" fill="#2a2a2a"/>
<circle cx="438.20" cy="564.20" r="1.1" fill="#2a2a2a"/>
<circle cx="438.20" cy="565.70" r="1.1" fill="#2a2a2a"/>
<circle cx="438.20" cy="567.50" r="1.1" fill="#2a2a2a"/>
<circle cx="438.20" cy="568.90" r="1.1" fill="#2a2a2a"/>
<line x1="459.00" y1="521.80" x2="459.00" y2="545.00" stroke="#333" stroke-width="0.5"/>
<line x1="459.00" y1="554.00" x2="459.00" y2="567.50" stroke="#333" stroke-width="0.5"/>
<path d="M459.30,540.00 C459.67,540.50 460.78,542.00 461.50,543.00 C462.22,544.00 463.10,544.92 463.60,546.00 C464.10,547.08 464.47,548.33 464.50,549.50 C464.53,550.67 464.30,551.75 463.80,553.00 C463.30,554.25 462.25,555.83 461.50,557.00 C460.75,558.17 459.67,559.50 459.30,560.00 L458.70,560.00 C458.33,559.50 457.25,558.17 456.50,557.00 C455.75,555.83 454.70,554.25 454.20,553.00 C453.70,551.75 453.47,550.67 453.50,549.50 C453.53,548.33 453.90,547.08 454.40,546.00 C454.90,544.92 455.78,544.00 456.50,543.00 C457.22,542.00 458.33,540.50 458.70,540.00Z" fill="#e41e2d" stroke="#262626" stroke-width="0.55"/>
<line x1="459.00" y1="540.00" x2="459.00" y2="545.00" stroke="#333" stroke-width="0.5"/>
<line x1="459.00" y1="554.00" x2="459.00" y2="560.00" stroke="#333" stroke-width="0.5"/>
<rect x="457.85" y="545.00" width="2.30" height="9.00" fill="none" stroke="#333" stroke-width="0.45"/>
<line x1="457.85" y1="549.50" x2="460.15" y2="549.50" stroke="#333" stroke-width="0.45"/>
<circle cx="459.00" cy="521.80" r="1.1" fill="#2a2a2a"/>
<circle cx="459.00" cy="523.30" r="1.1" fill="#2a2a2a"/>
<circle cx="459.00" cy="526.70" r="1.1" fill="#2a2a2a"/>
<circle cx="459.00" cy="530.10" r="1.1" fill="#2a2a2a"/>
<circle cx="459.00" cy="533.50" r="1.1" fill="#2a2a2a"/>
<circle cx="459.00" cy="535.70" r="1.1" fill="#2a2a2a"/>
<circle cx="459.00" cy="537.00" r="1.1" fill="#2a2a2a"/>
<circle cx="459.00" cy="540.40" r="1.1" fill="#2a2a2a"/>
<circle cx="459.00" cy="540.50" r="1.1" fill="#2a2a2a"/>
<circle cx="459.00" cy="559.90" r="1.1" fill="#2a2a2a"/>
<circle cx="459.00" cy="563.30" r="1.1" fill="#2a2a2a"/>
<circle cx="459.00" cy="564.80" r="1.1" fill="#2a2a2a"/>
<circle cx="459.00" cy="567.00" r="1.1" fill="#2a2a2a"/>
<circle cx="459.00" cy="567.50" r="1.1" fill="#2a2a2a"/>
<line x1="479.80" y1="526.60" x2="479.80" y2="545.00" stroke="#333" stroke-width="0.5"/>
<line x1="479.80" y1="553.00" x2="479.80" y2="566.10" stroke="#333" stroke-width="0.5"/>
<path d="M480.10,538.00 C480.47,538.67 481.52,540.67 482.30,542.00 C483.08,543.33 484.18,544.67 484.80,546.00 C485.42,547.33 486.08,548.67 486.00,550.00 C485.92,551.33 485.03,552.83 484.30,554.00 C483.57,555.17 482.30,556.17 481.60,557.00 C480.90,557.83 480.35,558.67 480.10,559.00 L479.50,559.00 C479.25,558.67 478.70,557.83 478.00,557.00 C477.30,556.17 476.03,555.17 475.30,554.00 C474.57,552.83 473.68,551.33 473.60,550.00 C473.52,548.67 474.18,547.33 474.80,546.00 C475.42,544.67 476.52,543.33 477.30,542.00 C478.08,540.67 479.13,538.67 479.50,538.00Z" fill="#2e50a2" stroke="#262626" stroke-width="0.55"/>
<line x1="479.80" y1="538.00" x2="479.80" y2="545.00" stroke="#333" stroke-width="0.5"/>
<line x1="479.80" y1="553.00" x2="479.80" y2="559.00" stroke="#333" stroke-width="0.5"/>
<rect x="478.65" y="545.00" width="2.30" height="8.00" fill="none" stroke="#333" stroke-width="0.45"/>
<line x1="478.65" y1="549.00" x2="480.95" y2="549.00" stroke="#333" stroke-width="0.45"/>
<circle cx="479.80" cy="526.60" r="1.1" fill="#2a2a2a"/>
<circle cx="479.80" cy="530.00" r="1.1" fill="#2a2a2a"/>
<circle cx="479.80" cy="531.50" r="1.1" fill="#2a2a2a"/>
<circle cx="479.80" cy="533.70" r="1.1" fill="#2a2a2a"/>
<circle cx="479.80" cy="535.20" r="1.1" fill="#2a2a2a"/>
<circle cx="479.80" cy="538.60" r="1.1" fill="#2a2a2a"/>
<circle cx="479.80" cy="539.10" r="1.1" fill="#2a2a2a"/>
<circle cx="479.80" cy="558.50" r="1.1" fill="#2a2a2a"/>
<circle cx="479.80" cy="561.30" r="1.1" fill="#2a2a2a"/>
<circle cx="479.80" cy="563.10" r="1.1" fill="#2a2a2a"/>
<circle cx="479.80" cy="564.60" r="1.1" fill="#2a2a2a"/>
<circle cx="479.80" cy="566.10" r="1.1" fill="#2a2a2a"/>
<line x1="500.60" y1="527.30" x2="500.60" y2="555.00" stroke="#333" stroke-width="0.5"/>
<line x1="500.60" y1="562.00" x2="500.60" y2="566.00" stroke="#333" stroke-width="0.5"/>
<path d="M501.10,549.00 C501.27,549.67 501.60,551.83 502.10,553.00 C502.60,554.17 503.18,555.08 504.10,556.00 C505.02,556.92 506.68,557.83 507.60,558.50 C508.52,559.17 509.43,559.50 509.60,560.00 C509.77,560.50 509.43,561.00 508.60,561.50 C507.77,562.00 505.77,562.42 504.60,563.00 C503.43,563.58 502.22,564.50 501.60,565.00 C500.98,565.50 501.02,565.83 500.90,566.00 L500.30,566.00 C500.18,565.83 500.22,565.50 499.60,565.00 C498.98,564.50 497.77,563.58 496.60,563.00 C495.43,562.42 493.43,562.00 492.60,561.50 C491.77,561.00 491.43,560.50 491.60,560.00 C491.77,559.50 492.68,559.17 493.60,558.50 C494.52,557.83 496.18,556.92 497.10,556.00 C498.02,555.08 498.60,554.17 499.10,553.00 C499.60,551.83 499.93,549.67 500.10,549.00Z" fill="#f5a02a" stroke="#262626" stroke-width="0.55"/>
<line x1="500.60" y1="549.00" x2="500.60" y2="555.00" stroke="#333" stroke-width="0.5"/>
<line x1="500.60" y1="562.00" x2="500.60" y2="566.00" stroke="#333" stroke-width="0.5"/>
<rect x="499.45" y="555.00" width="2.30" height="7.00" fill="none" stroke="#333" stroke-width="0.45"/>
<line x1="499.45" y1="559.00" x2="501.75" y2="559.00" stroke="#333" stroke-width="0.45"/>
<circle cx="500.60" cy="527.30" r="1.1" fill="#2a2a2a"/>
<circle cx="500.60" cy="528.60" r="1.1" fill="#2a2a2a"/>
<circle cx="500.60" cy="530.80" r="1.1" fill="#2a2a2a"/>
<circle cx="500.60" cy="533.00" r="1.1" fill="#2a2a2a"/>
<circle cx="500.60" cy="534.50" r="1.1" fill="#2a2a2a"/>
<circle cx="500.60" cy="536.70" r="1.1" fill="#2a2a2a"/>
<circle cx="500.60" cy="538.50" r="1.1" fill="#2a2a2a"/>
<circle cx="500.60" cy="539.80" r="1.1" fill="#2a2a2a"/>
<circle cx="500.60" cy="541.10" r="1.1" fill="#2a2a2a"/>
<circle cx="500.60" cy="544.50" r="1.1" fill="#2a2a2a"/>
<circle cx="500.60" cy="546.00" r="1.1" fill="#2a2a2a"/>
<circle cx="500.60" cy="549.40" r="1.1" fill="#2a2a2a"/>
<circle cx="500.60" cy="550.20" r="1.1" fill="#2a2a2a"/>
<line x1="38.50" y1="654.30" x2="38.50" y2="748.00" stroke="#2a2a2a" stroke-width="1.0"/>
<line x1="38.00" y1="747.50" x2="118.50" y2="747.50" stroke="#2a2a2a" stroke-width="1.0"/>
<line x1="36.40" y1="662.10" x2="38.60" y2="662.10" stroke="#333" stroke-width="0.8"/>
<text x="35.40" y="665.00" font-size="8.2" text-anchor="end" fill="#3a3a3a" stroke="#3a3a3a" stroke-width="0.18">6</text>
<line x1="36.40" y1="692.30" x2="38.60" y2="692.30" stroke="#333" stroke-width="0.8"/>
<text x="35.40" y="695.20" font-size="8.2" text-anchor="end" fill="#3a3a3a" stroke="#3a3a3a" stroke-width="0.18">4</text>
<line x1="36.40" y1="718.20" x2="38.60" y2="718.20" stroke="#333" stroke-width="0.8"/>
<text x="35.40" y="721.10" font-size="8.2" text-anchor="end" fill="#3a3a3a" stroke="#3a3a3a" stroke-width="0.18">2</text>
<line x1="36.40" y1="743.60" x2="38.60" y2="743.60" stroke="#333" stroke-width="0.8"/>
<text x="35.40" y="746.50" font-size="8.2" text-anchor="end" fill="#3a3a3a" stroke="#3a3a3a" stroke-width="0.18">0</text>
<line x1="49.60" y1="747.60" x2="49.60" y2="749.80" stroke="#333" stroke-width="0.8"/>
<text x="0.00" y="0.00" transform="translate(53.30,751.70) rotate(-90)" font-size="8.2" text-anchor="end" fill="#1a1a1a" stroke="#1a1a1a" stroke-width="0.18">DMSO</text>
<line x1="68.90" y1="747.60" x2="68.90" y2="749.80" stroke="#333" stroke-width="0.8"/>
<text x="0.00" y="0.00" transform="translate(72.60,751.70) rotate(-90)" font-size="8.2" text-anchor="end" fill="#1a1a1a" stroke="#1a1a1a" stroke-width="0.18">Enza</text>
<line x1="88.00" y1="747.60" x2="88.00" y2="749.80" stroke="#333" stroke-width="0.8"/>
<text x="0.00" y="0.00" transform="translate(91.70,751.70) rotate(-90)" font-size="8.2" text-anchor="end" fill="#1a1a1a" stroke="#1a1a1a" stroke-width="0.18">ARV110</text>
<line x1="107.40" y1="747.60" x2="107.40" y2="749.80" stroke="#333" stroke-width="0.8"/>
<text x="0.00" y="0.00" transform="translate(111.10,751.70) rotate(-90)" font-size="8.2" text-anchor="end" fill="#1a1a1a" stroke="#1a1a1a" stroke-width="0.18">SMACA2.4_1</text>
<text x="75.90" y="652.30" font-size="8.2" text-anchor="middle" fill="#111" stroke="#111" stroke-width="0.18">AR mRNA level</text>
<text x="0.00" y="0.00" transform="translate(9.90,709.00) rotate(-90)" font-size="8.3" text-anchor="middle" fill="#111" stroke="#111" stroke-width="0.18">AR gene expression</text>
<text x="0.00" y="0.00" transform="translate(21.20,709.00) rotate(-90)" font-size="8.4" text-anchor="middle" fill="#111" stroke="#111" stroke-width="0.18">(log2 normalized counts)</text>
<line x1="49.60" y1="658.50" x2="49.60" y2="675.40" stroke="#333" stroke-width="0.5"/>
<line x1="49.60" y1="689.20" x2="49.60" y2="743.60" stroke="#333" stroke-width="0.5"/>
<path d="M49.80,658.50 C49.97,659.50 50.03,662.50 50.80,664.50 C51.57,666.50 53.18,668.68 54.40,670.50 C55.62,672.32 57.38,674.08 58.10,675.40 C58.82,676.72 58.92,676.60 58.70,678.40 C58.48,680.20 57.42,683.88 56.80,686.20 C56.18,688.52 55.70,690.28 55.00,692.30 C54.30,694.32 53.30,696.70 52.60,698.30 C51.90,699.90 51.23,700.78 50.80,701.90 C50.37,703.02 50.13,704.48 50.00,705.00 L49.20,705.00 C49.07,704.48 48.83,703.02 48.40,701.90 C47.97,700.78 47.30,699.90 46.60,698.30 C45.90,696.70 44.90,694.32 44.20,692.30 C43.50,690.28 43.02,688.52 42.40,686.20 C41.78,683.88 40.72,680.20 40.50,678.40 C40.28,676.60 40.38,676.72 41.10,675.40 C41.82,674.08 43.58,672.32 44.80,670.50 C46.02,668.68 47.63,666.50 48.40,664.50 C49.17,662.50 49.23,659.50 49.40,658.50Z" fill="#b4b6b8" stroke="#262626" stroke-width="0.55"/>
<line x1="49.60" y1="658.50" x2="49.60" y2="675.40" stroke="#333" stroke-width="0.5"/>
<line x1="49.60" y1="689.20" x2="49.60" y2="705.00" stroke="#333" stroke-width="0.5"/>
<rect x="48.45" y="675.40" width="2.30" height="13.80" fill="none" stroke="#333" stroke-width="0.45"/>
<line x1="48.45" y1="682.00" x2="50.75" y2="682.00" stroke="#333" stroke-width="0.45"/>
<circle cx="49.60" cy="709.00" r="1.1" fill="#2a2a2a"/>
<circle cx="49.60" cy="711.80" r="1.1" fill="#2a2a2a"/>
<circle cx="49.60" cy="713.10" r="1.1" fill="#2a2a2a"/>
<circle cx="49.60" cy="714.40" r="1.1" fill="#2a2a2a"/>
<circle cx="49.60" cy="717.20" r="1.1" fill="#2a2a2a"/>
<circle cx="49.60" cy="720.00" r="1.1" fill="#2a2a2a"/>
<circle cx="49.60" cy="721.30" r="1.1" fill="#2a2a2a"/>
<circle cx="49.60" cy="722.40" r="1.1" fill="#2a2a2a"/>
<circle cx="49.60" cy="726.70" r="1.10" fill="#2a2a2a" stroke="none" stroke-width="0.5"/>
<circle cx="49.60" cy="743.60" r="1.10" fill="#2a2a2a" stroke="none" stroke-width="0.5"/>
<line x1="68.90" y1="659.00" x2="68.90" y2="675.40" stroke="#333" stroke-width="0.5"/>
<line x1="68.90" y1="688.60" x2="68.90" y2="743.60" stroke="#333" stroke-width="0.5"/>
<path d="M69.10,659.00 C69.27,659.92 69.23,662.58 70.10,664.50 C70.97,666.42 73.20,668.68 74.30,670.50 C75.40,672.32 76.18,673.78 76.70,675.40 C77.22,677.02 77.50,678.40 77.40,680.20 C77.30,682.00 76.72,684.18 76.10,686.20 C75.48,688.22 74.50,690.28 73.70,692.30 C72.90,694.32 71.98,696.50 71.30,698.30 C70.62,700.10 69.95,701.98 69.60,703.10 C69.25,704.22 69.27,704.68 69.20,705.00 L68.60,705.00 C68.53,704.68 68.55,704.22 68.20,703.10 C67.85,701.98 67.18,700.10 66.50,698.30 C65.82,696.50 64.90,694.32 64.10,692.30 C63.30,690.28 62.32,688.22 61.70,686.20 C61.08,684.18 60.50,682.00 60.40,680.20 C60.30,678.40 60.58,677.02 61.10,675.40 C61.62,673.78 62.40,672.32 63.50,670.50 C64.60,668.68 66.83,666.42 67.70,664.50 C68.57,662.58 68.53,659.92 68.70,659.00Z" fill="#e41e2d" stroke="#262626" stroke-width="0.55"/>
<line x1="68.90" y1="659.00" x2="68.90" y2="675.40" stroke="#333" stroke-width="0.5"/>
<line x1="68.90" y1="688.60" x2="68.90" y2="705.00" stroke="#333" stroke-width="0.5"/>
<rect x="67.75" y="675.40" width="2.30" height="13.20" fill="none" stroke="#333" stroke-width="0.45"/>
<line x1="67.75" y1="681.50" x2="70.05" y2="681.50" stroke="#333" stroke-width="0.45"/>
<circle cx="68.90" cy="705.50" r="1.1" fill="#2a2a2a"/>
<circle cx="68.90" cy="707.70" r="1.1" fill="#2a2a2a"/>
<circle cx="68.90" cy="709.20" r="1.1" fill="#2a2a2a"/>
<circle cx="68.90" cy="710.70" r="1.1" fill="#2a2a2a"/>
<circle cx="68.90" cy="714.10" r="1.1" fill="#2a2a2a"/>
<circle cx="68.90" cy="715.20" r="1.1" fill="#2a2a2a"/>
<circle cx="68.90" cy="722.40" r="1.1" fill="#2a2a2a"/>
<circle cx="68.90" cy="725.20" r="1.1" fill="#2a2a2a"/>
<circle cx="68.90" cy="726.00" r="1.1" fill="#2a2a2a"/>
<circle cx="68.90" cy="743.60" r="1.10" fill="#2a2a2a" stroke="none" stroke-width="0.5"/>
<line x1="88.00" y1="659.10" x2="88.00" y2="676.00" stroke="#333" stroke-width="0.5"/>
<line x1="88.00" y1="689.90" x2="88.00" y2="743.60" stroke="#333" stroke-width="0.5"/>
<path d="M88.20,659.10 C88.37,660.20 88.43,664.00 89.20,665.70 C89.97,667.40 91.83,667.88 92.80,669.30 C93.77,670.72 94.48,672.38 95.00,674.20 C95.52,676.02 95.97,678.20 95.90,680.20 C95.83,682.20 95.22,684.18 94.60,686.20 C93.98,688.22 92.90,690.28 92.20,692.30 C91.50,694.32 90.90,696.30 90.40,698.30 C89.90,700.30 89.53,702.68 89.20,704.30 C88.87,705.92 88.53,707.38 88.40,708.00 L87.60,708.00 C87.47,707.38 87.13,705.92 86.80,704.30 C86.47,702.68 86.10,700.30 85.60,698.30 C85.10,696.30 84.50,694.32 83.80,692.30 C83.10,690.28 82.02,688.22 81.40,686.20 C80.78,684.18 80.17,682.20 80.10,680.20 C80.03,678.20 80.48,676.02 81.00,674.20 C81.52,672.38 82.23,670.72 83.20,669.30 C84.17,667.88 86.03,667.40 86.80,665.70 C87.57,664.00 87.63,660.20 87.80,659.10Z" fill="#2e50a2" stroke="#262626" stroke-width="0.55"/>
<line x1="88.00" y1="659.10" x2="88.00" y2="676.00" stroke="#333" stroke-width="0.5"/>
<line x1="88.00" y1="689.90" x2="88.00" y2="708.00" stroke="#333" stroke-width="0.5"/>
<rect x="86.85" y="676.00" width="2.30" height="13.90" fill="none" stroke="#333" stroke-width="0.45"/>
<line x1="86.85" y1="682.50" x2="89.15" y2="682.50" stroke="#333" stroke-width="0.45"/>
<circle cx="88.00" cy="709.20" r="1.1" fill="#2a2a2a"/>
<circle cx="88.00" cy="712.60" r="1.1" fill="#2a2a2a"/>
<circle cx="88.00" cy="716.00" r="1.1" fill="#2a2a2a"/>
<circle cx="88.00" cy="717.80" r="1.1" fill="#2a2a2a"/>
<circle cx="88.00" cy="719.10" r="1.1" fill="#2a2a2a"/>
<circle cx="88.00" cy="721.30" r="1.1" fill="#2a2a2a"/>
<circle cx="88.00" cy="721.30" r="1.1" fill="#2a2a2a"/>
<circle cx="88.00" cy="743.60" r="1.10" fill="#2a2a2a" stroke="none" stroke-width="0.5"/>
<line x1="107.40" y1="659.70" x2="107.40" y2="685.60" stroke="#333" stroke-width="0.5"/>
<line x1="107.40" y1="706.80" x2="107.40" y2="744.00" stroke="#333" stroke-width="0.5"/>
<path d="M107.60,659.70 C107.73,661.50 107.93,667.68 108.40,670.50 C108.87,673.32 109.77,674.58 110.40,676.60 C111.03,678.62 111.73,680.60 112.20,682.60 C112.67,684.60 113.15,686.58 113.20,688.60 C113.25,690.62 112.82,692.48 112.50,694.70 C112.18,696.92 111.75,699.48 111.30,701.90 C110.85,704.32 110.25,706.78 109.80,709.20 C109.35,711.62 108.93,714.18 108.60,716.40 C108.27,718.62 107.95,718.90 107.80,722.50 C107.65,726.10 107.60,734.92 107.70,738.00 C107.80,741.08 108.23,740.20 108.40,741.00 C108.57,741.80 108.78,742.30 108.70,742.80 C108.62,743.30 108.03,743.80 107.90,744.00 L106.90,744.00 C106.77,743.80 106.18,743.30 106.10,742.80 C106.02,742.30 106.23,741.80 106.40,741.00 C106.57,740.20 107.00,741.08 107.10,738.00 C107.20,734.92 107.15,726.10 107.00,722.50 C106.85,718.90 106.53,718.62 106.20,716.40 C105.87,714.18 105.45,711.62 105.00,709.20 C104.55,706.78 103.95,704.32 103.50,701.90 C103.05,699.48 102.62,696.92 102.30,694.70 C101.98,692.48 101.55,690.62 101.60,688.60 C101.65,686.58 102.13,684.60 102.60,682.60 C103.07,680.60 103.77,678.62 104.40,676.60 C105.03,674.58 105.93,673.32 106.40,670.50 C106.87,667.68 107.07,661.50 107.20,659.70Z" fill="#f5a02a" stroke="#262626" stroke-width="0.55"/>
<line x1="107.40" y1="659.70" x2="107.40" y2="685.60" stroke="#333" stroke-width="0.5"/>
<line x1="107.40" y1="706.80" x2="107.40" y2="744.00" stroke="#333" stroke-width="0.5"/>
<rect x="106.25" y="685.60" width="2.30" height="21.20" fill="none" stroke="#333" stroke-width="0.45"/>
<line x1="106.25" y1="694.00" x2="108.55" y2="694.00" stroke="#333" stroke-width="0.45"/>
<text x="123.50" y="642.80" font-size="8.2" text-anchor="start" fill="#111" stroke="#111" stroke-width="0.18">22RV1</text>
<line x1="123.50" y1="644.30" x2="148.80" y2="644.30" stroke="#111" stroke-width="0.6"/>
<line x1="157.50" y1="669.20" x2="157.50" y2="748.00" stroke="#2a2a2a" stroke-width="1.0"/>
<line x1="157.00" y1="747.50" x2="241.50" y2="747.50" stroke="#2a2a2a" stroke-width="1.0"/>
<line x1="155.70" y1="676.60" x2="157.90" y2="676.60" stroke="#333" stroke-width="0.8"/>
<text x="154.70" y="679.50" font-size="8.2" text-anchor="end" fill="#3a3a3a" stroke="#3a3a3a" stroke-width="0.18">0.06</text>
<line x1="155.70" y1="701.80" x2="157.90" y2="701.80" stroke="#333" stroke-width="0.8"/>
<text x="154.70" y="704.70" font-size="8.2" text-anchor="end" fill="#3a3a3a" stroke="#3a3a3a" stroke-width="0.18">0.04</text>
<line x1="155.70" y1="726.10" x2="157.90" y2="726.10" stroke="#333" stroke-width="0.8"/>
<text x="154.70" y="729.00" font-size="8.2" text-anchor="end" fill="#3a3a3a" stroke="#3a3a3a" stroke-width="0.18">0.02</text>
<line x1="170.50" y1="747.10" x2="170.50" y2="749.30" stroke="#333" stroke-width="0.8"/>
<text x="0.00" y="0.00" transform="translate(174.20,751.20) rotate(-90)" font-size="8.2" text-anchor="end" fill="#1a1a1a" stroke="#1a1a1a" stroke-width="0.18">DMSO</text>
<line x1="191.10" y1="747.10" x2="191.10" y2="749.30" stroke="#333" stroke-width="0.8"/>
<text x="0.00" y="0.00" transform="translate(194.80,751.20) rotate(-90)" font-size="8.2" text-anchor="end" fill="#1a1a1a" stroke="#1a1a1a" stroke-width="0.18">Enza</text>
<line x1="211.90" y1="747.10" x2="211.90" y2="749.30" stroke="#333" stroke-width="0.8"/>
<text x="0.00" y="0.00" transform="translate(215.60,751.20) rotate(-90)" font-size="8.2" text-anchor="end" fill="#1a1a1a" stroke="#1a1a1a" stroke-width="0.18">ARV110</text>
<line x1="232.80" y1="747.10" x2="232.80" y2="749.30" stroke="#333" stroke-width="0.8"/>
<text x="0.00" y="0.00" transform="translate(236.50,751.20) rotate(-90)" font-size="8.2" text-anchor="end" fill="#1a1a1a" stroke="#1a1a1a" stroke-width="0.18">SMACA2.4_1</text>
<text x="204.20" y="652.30" font-size="8.2" text-anchor="middle" fill="#111" stroke="#111" stroke-width="0.18">AR activity</text>
<text x="0.00" y="0.00" transform="translate(131.00,702.10) rotate(-90)" font-size="8.2" text-anchor="middle" fill="#111" stroke="#111" stroke-width="0.18">activity</text>
<line x1="170.50" y1="672.20" x2="170.50" y2="709.00" stroke="#333" stroke-width="0.5"/>
<line x1="170.50" y1="718.90" x2="170.50" y2="737.30" stroke="#333" stroke-width="0.5"/>
<path d="M170.70,693.00 C170.83,693.58 171.05,695.03 171.50,696.50 C171.95,697.97 172.80,700.05 173.40,701.80 C174.00,703.55 174.70,705.03 175.10,707.00 C175.50,708.97 175.80,711.62 175.80,713.60 C175.80,715.58 175.50,717.15 175.10,718.90 C174.70,720.65 174.00,722.35 173.40,724.10 C172.80,725.85 171.93,727.92 171.50,729.40 C171.07,730.88 170.92,732.40 170.80,733.00 L170.20,733.00 C170.08,732.40 169.93,730.88 169.50,729.40 C169.07,727.92 168.20,725.85 167.60,724.10 C167.00,722.35 166.30,720.65 165.90,718.90 C165.50,717.15 165.20,715.58 165.20,713.60 C165.20,711.62 165.50,708.97 165.90,707.00 C166.30,705.03 167.00,703.55 167.60,701.80 C168.20,700.05 169.05,697.97 169.50,696.50 C169.95,695.03 170.17,693.58 170.30,693.00Z" fill="#b4b6b8" stroke="#262626" stroke-width="0.55"/>
<line x1="170.50" y1="693.00" x2="170.50" y2="709.00" stroke="#333" stroke-width="0.5"/>
<line x1="170.50" y1="718.90" x2="170.50" y2="733.00" stroke="#333" stroke-width="0.5"/>
<rect x="169.35" y="709.00" width="2.30" height="9.90" fill="none" stroke="#333" stroke-width="0.45"/>
<line x1="169.35" y1="714.00" x2="171.65" y2="714.00" stroke="#333" stroke-width="0.45"/>
<circle cx="170.50" cy="681.40" r="1.1" fill="#2a2a2a"/>
<circle cx="170.50" cy="684.20" r="1.1" fill="#2a2a2a"/>
<circle cx="170.50" cy="687.60" r="1.1" fill="#2a2a2a"/>
<circle cx="170.50" cy="689.10" r="1.1" fill="#2a2a2a"/>
<circle cx="170.50" cy="690.60" r="1.1" fill="#2a2a2a"/>
<circle cx="170.50" cy="691.30" r="1.1" fill="#2a2a2a"/>
<circle cx="170.50" cy="672.20" r="1.10" fill="#2a2a2a" stroke="none" stroke-width="0.5"/>
<circle cx="170.50" cy="737.30" r="1.10" fill="#2a2a2a" stroke="none" stroke-width="0.5"/>
<line x1="191.10" y1="681.40" x2="191.10" y2="707.70" stroke="#333" stroke-width="0.5"/>
<line x1="191.10" y1="720.20" x2="191.10" y2="734.60" stroke="#333" stroke-width="0.5"/>
<path d="M191.30,692.00 C191.48,692.97 191.88,695.95 192.40,697.80 C192.92,699.65 193.85,701.12 194.40,703.10 C194.95,705.08 195.37,707.83 195.70,709.70 C196.03,711.57 196.52,712.55 196.40,714.30 C196.28,716.05 195.55,718.12 195.00,720.20 C194.45,722.28 193.68,724.40 193.10,726.80 C192.52,729.20 191.77,733.30 191.50,734.60 L190.70,734.60 C190.43,733.30 189.68,729.20 189.10,726.80 C188.52,724.40 187.75,722.28 187.20,720.20 C186.65,718.12 185.92,716.05 185.80,714.30 C185.68,712.55 186.17,711.57 186.50,709.70 C186.83,707.83 187.25,705.08 187.80,703.10 C188.35,701.12 189.28,699.65 189.80,697.80 C190.32,695.95 190.72,692.97 190.90,692.00Z" fill="#e41e2d" stroke="#262626" stroke-width="0.55"/>
<line x1="191.10" y1="692.00" x2="191.10" y2="707.70" stroke="#333" stroke-width="0.5"/>
<line x1="191.10" y1="720.20" x2="191.10" y2="734.60" stroke="#333" stroke-width="0.5"/>
<rect x="189.95" y="707.70" width="2.30" height="12.50" fill="none" stroke="#333" stroke-width="0.45"/>
<line x1="189.95" y1="714.00" x2="192.25" y2="714.00" stroke="#333" stroke-width="0.45"/>
<circle cx="191.10" cy="681.40" r="1.1" fill="#2a2a2a"/>
<circle cx="191.10" cy="684.20" r="1.1" fill="#2a2a2a"/>
<circle cx="191.10" cy="687.60" r="1.1" fill="#2a2a2a"/>
<circle cx="191.10" cy="690.60" r="1.1" fill="#2a2a2a"/>
<line x1="211.90" y1="688.00" x2="211.90" y2="711.00" stroke="#333" stroke-width="0.5"/>
<line x1="211.90" y1="722.20" x2="211.90" y2="739.20" stroke="#333" stroke-width="0.5"/>
<path d="M212.10,694.00 C212.23,694.87 212.45,697.25 212.90,699.20 C213.35,701.15 214.25,703.52 214.80,705.70 C215.35,707.88 215.80,710.32 216.20,712.30 C216.60,714.28 217.27,715.85 217.20,717.60 C217.13,719.35 216.35,720.83 215.80,722.80 C215.25,724.77 214.45,727.43 213.90,729.40 C213.35,731.37 212.80,733.50 212.50,734.60 C212.20,735.70 212.17,735.77 212.10,736.00 L211.70,736.00 C211.63,735.77 211.60,735.70 211.30,734.60 C211.00,733.50 210.45,731.37 209.90,729.40 C209.35,727.43 208.55,724.77 208.00,722.80 C207.45,720.83 206.67,719.35 206.60,717.60 C206.53,715.85 207.20,714.28 207.60,712.30 C208.00,710.32 208.45,707.88 209.00,705.70 C209.55,703.52 210.45,701.15 210.90,699.20 C211.35,697.25 211.57,694.87 211.70,694.00Z" fill="#2e50a2" stroke="#262626" stroke-width="0.55"/>
<line x1="211.90" y1="694.00" x2="211.90" y2="711.00" stroke="#333" stroke-width="0.5"/>
<line x1="211.90" y1="722.20" x2="211.90" y2="736.00" stroke="#333" stroke-width="0.5"/>
<rect x="210.75" y="711.00" width="2.30" height="11.20" fill="none" stroke="#333" stroke-width="0.45"/>
<line x1="210.75" y1="716.50" x2="213.05" y2="716.50" stroke="#333" stroke-width="0.45"/>
<circle cx="211.90" cy="688.00" r="1.1" fill="#2a2a2a"/>
<circle cx="211.90" cy="689.80" r="1.1" fill="#2a2a2a"/>
<circle cx="211.90" cy="692.00" r="1.1" fill="#2a2a2a"/>
<circle cx="211.90" cy="693.20" r="1.1" fill="#2a2a2a"/>
<circle cx="211.90" cy="739.20" r="1.10" fill="#2a2a2a" stroke="none" stroke-width="0.5"/>
<line x1="232.80" y1="691.00" x2="232.80" y2="724.00" stroke="#2a2a2a" stroke-width="2.1"/>
<line x1="232.80" y1="690.60" x2="232.80" y2="730.00" stroke="#333" stroke-width="0.5"/>
<line x1="232.80" y1="736.60" x2="232.80" y2="743.20" stroke="#333" stroke-width="0.5"/>
<path d="M233.10,724.00 C233.22,724.47 233.20,725.68 233.80,726.80 C234.40,727.92 235.55,729.40 236.70,730.70 C237.85,732.00 239.82,733.62 240.70,734.60 C241.58,735.58 242.22,735.93 242.00,736.60 C241.78,737.27 240.50,737.83 239.40,738.60 C238.30,739.37 236.43,740.43 235.40,741.20 C234.37,741.97 233.57,742.87 233.20,743.20 L232.40,743.20 C232.03,742.87 231.23,741.97 230.20,741.20 C229.17,740.43 227.30,739.37 226.20,738.60 C225.10,737.83 223.82,737.27 223.60,736.60 C223.38,735.93 224.02,735.58 224.90,734.60 C225.78,733.62 227.75,732.00 228.90,730.70 C230.05,729.40 231.20,727.92 231.80,726.80 C232.40,725.68 232.38,724.47 232.50,724.00Z" fill="#f5a02a" stroke="#262626" stroke-width="0.55"/>
<line x1="232.80" y1="724.00" x2="232.80" y2="730.00" stroke="#333" stroke-width="0.5"/>
<line x1="232.80" y1="736.60" x2="232.80" y2="743.20" stroke="#333" stroke-width="0.5"/>
<rect x="231.65" y="730.00" width="2.30" height="6.60" fill="none" stroke="#333" stroke-width="0.45"/>
<line x1="231.65" y1="733.50" x2="233.95" y2="733.50" stroke="#333" stroke-width="0.45"/>
<circle cx="232.80" cy="690.60" r="1.1" fill="#2a2a2a"/>
<circle cx="232.80" cy="692.80" r="1.1" fill="#2a2a2a"/>
<circle cx="232.80" cy="695.00" r="1.1" fill="#2a2a2a"/>
<circle cx="232.80" cy="698.40" r="1.1" fill="#2a2a2a"/>
<circle cx="232.80" cy="700.20" r="1.1" fill="#2a2a2a"/>
<circle cx="232.80" cy="703.00" r="1.1" fill="#2a2a2a"/>
<circle cx="232.80" cy="704.30" r="1.1" fill="#2a2a2a"/>
<circle cx="232.80" cy="705.80" r="1.1" fill="#2a2a2a"/>
<circle cx="232.80" cy="707.10" r="1.1" fill="#2a2a2a"/>
<circle cx="232.80" cy="708.90" r="1.1" fill="#2a2a2a"/>
<circle cx="232.80" cy="712.30" r="1.1" fill="#2a2a2a"/>
<circle cx="232.80" cy="714.50" r="1.1" fill="#2a2a2a"/>
<circle cx="232.80" cy="716.70" r="1.1" fill="#2a2a2a"/>
<circle cx="232.80" cy="718.90" r="1.1" fill="#2a2a2a"/>
<circle cx="232.80" cy="720.40" r="1.1" fill="#2a2a2a"/>
<circle cx="232.80" cy="723.20" r="1.1" fill="#2a2a2a"/>
<circle cx="232.80" cy="724.10" r="1.1" fill="#2a2a2a"/>
<line x1="304.50" y1="654.60" x2="304.50" y2="748.00" stroke="#2a2a2a" stroke-width="1.0"/>
<line x1="304.00" y1="747.50" x2="384.10" y2="747.50" stroke="#2a2a2a" stroke-width="1.0"/>
<line x1="302.00" y1="661.20" x2="304.20" y2="661.20" stroke="#333" stroke-width="0.8"/>
<text x="301.00" y="664.10" font-size="8.2" text-anchor="end" fill="#3a3a3a" stroke="#3a3a3a" stroke-width="0.18">5</text>
<line x1="302.00" y1="677.60" x2="304.20" y2="677.60" stroke="#333" stroke-width="0.8"/>
<text x="301.00" y="680.50" font-size="8.2" text-anchor="end" fill="#3a3a3a" stroke="#3a3a3a" stroke-width="0.18">4</text>
<line x1="302.00" y1="694.00" x2="304.20" y2="694.00" stroke="#333" stroke-width="0.8"/>
<text x="301.00" y="696.90" font-size="8.2" text-anchor="end" fill="#3a3a3a" stroke="#3a3a3a" stroke-width="0.18">3</text>
<line x1="302.00" y1="710.40" x2="304.20" y2="710.40" stroke="#333" stroke-width="0.8"/>
<text x="301.00" y="713.30" font-size="8.2" text-anchor="end" fill="#3a3a3a" stroke="#3a3a3a" stroke-width="0.18">2</text>
<line x1="302.00" y1="726.90" x2="304.20" y2="726.90" stroke="#333" stroke-width="0.8"/>
<text x="301.00" y="729.80" font-size="8.2" text-anchor="end" fill="#3a3a3a" stroke="#3a3a3a" stroke-width="0.18">1</text>
<line x1="302.00" y1="743.00" x2="304.20" y2="743.00" stroke="#333" stroke-width="0.8"/>
<text x="301.00" y="745.90" font-size="8.2" text-anchor="end" fill="#3a3a3a" stroke="#3a3a3a" stroke-width="0.18">0</text>
<line x1="315.50" y1="747.20" x2="315.50" y2="749.40" stroke="#333" stroke-width="0.8"/>
<text x="0.00" y="0.00" transform="translate(319.20,751.30) rotate(-90)" font-size="8.2" text-anchor="end" fill="#1a1a1a" stroke="#1a1a1a" stroke-width="0.18">DMSO</text>
<line x1="334.60" y1="747.20" x2="334.60" y2="749.40" stroke="#333" stroke-width="0.8"/>
<text x="0.00" y="0.00" transform="translate(338.30,751.30) rotate(-90)" font-size="8.2" text-anchor="end" fill="#1a1a1a" stroke="#1a1a1a" stroke-width="0.18">Enza</text>
<line x1="353.90" y1="747.20" x2="353.90" y2="749.40" stroke="#333" stroke-width="0.8"/>
<text x="0.00" y="0.00" transform="translate(357.60,751.30) rotate(-90)" font-size="8.2" text-anchor="end" fill="#1a1a1a" stroke="#1a1a1a" stroke-width="0.18">ARV110</text>
<line x1="373.10" y1="747.20" x2="373.10" y2="749.40" stroke="#333" stroke-width="0.8"/>
<text x="0.00" y="0.00" transform="translate(376.80,751.30) rotate(-90)" font-size="8.2" text-anchor="end" fill="#1a1a1a" stroke="#1a1a1a" stroke-width="0.18">SMACA2.4_1</text>
<text x="345.20" y="652.80" font-size="8.2" text-anchor="middle" fill="#111" stroke="#111" stroke-width="0.18">AR mRNA level</text>
<text x="0.00" y="0.00" transform="translate(280.50,703.00) rotate(-90)" font-size="8.3" text-anchor="middle" fill="#111" stroke="#111" stroke-width="0.18">AR gene expression</text>
<text x="0.00" y="0.00" transform="translate(291.70,703.00) rotate(-90)" font-size="8.4" text-anchor="middle" fill="#111" stroke="#111" stroke-width="0.18">(log2 normalized counts)</text>
<line x1="315.50" y1="657.90" x2="315.50" y2="695.30" stroke="#333" stroke-width="0.5"/>
<line x1="315.50" y1="742.00" x2="315.50" y2="743.30" stroke="#333" stroke-width="0.5"/>
<path d="M315.70,657.90 C315.78,660.53 315.80,670.20 316.20,673.70 C316.60,677.20 317.33,676.72 318.10,678.90 C318.87,681.08 320.18,684.17 320.80,686.80 C321.42,689.43 321.70,692.07 321.80,694.70 C321.90,697.33 321.80,699.98 321.40,702.60 C321.00,705.22 320.05,707.78 319.40,710.40 C318.75,713.02 318.02,715.88 317.50,718.30 C316.98,720.72 316.30,722.70 316.30,724.90 C316.30,727.10 316.98,729.53 317.50,731.50 C318.02,733.47 318.75,734.95 319.40,736.70 C320.05,738.45 321.07,740.90 321.40,742.00 C321.73,743.10 321.40,743.08 321.40,743.30 L309.60,743.30 C309.60,743.08 309.27,743.10 309.60,742.00 C309.93,740.90 310.95,738.45 311.60,736.70 C312.25,734.95 312.98,733.47 313.50,731.50 C314.02,729.53 314.70,727.10 314.70,724.90 C314.70,722.70 314.02,720.72 313.50,718.30 C312.98,715.88 312.25,713.02 311.60,710.40 C310.95,707.78 310.00,705.22 309.60,702.60 C309.20,699.98 309.10,697.33 309.20,694.70 C309.30,692.07 309.58,689.43 310.20,686.80 C310.82,684.17 312.13,681.08 312.90,678.90 C313.67,676.72 314.40,677.20 314.80,673.70 C315.20,670.20 315.22,660.53 315.30,657.90Z" fill="#b4b6b8" stroke="#262626" stroke-width="0.55"/>
<line x1="315.50" y1="657.90" x2="315.50" y2="695.30" stroke="#333" stroke-width="0.5"/>
<line x1="315.50" y1="742.00" x2="315.50" y2="743.30" stroke="#333" stroke-width="0.5"/>
<rect x="314.35" y="695.30" width="2.30" height="46.70" fill="none" stroke="#333" stroke-width="0.45"/>
<line x1="314.35" y1="707.80" x2="316.65" y2="707.80" stroke="#333" stroke-width="0.45"/>
<line x1="334.60" y1="669.70" x2="334.60" y2="694.00" stroke="#333" stroke-width="0.5"/>
<line x1="334.60" y1="743.30" x2="334.60" y2="743.30" stroke="#333" stroke-width="0.5"/>
<path d="M334.90,669.70 C335.12,669.92 335.77,669.90 336.20,671.00 C336.63,672.10 337.07,674.10 337.50,676.30 C337.93,678.50 338.40,681.35 338.80,684.20 C339.20,687.05 339.72,690.33 339.90,693.40 C340.08,696.47 340.13,699.53 339.90,702.60 C339.67,705.67 339.05,708.73 338.50,711.80 C337.95,714.87 337.08,718.17 336.60,721.00 C336.12,723.83 335.50,726.40 335.60,728.80 C335.70,731.20 336.67,732.98 337.20,735.40 C337.73,737.82 338.53,741.98 338.80,743.30 L330.40,743.30 C330.67,741.98 331.47,737.82 332.00,735.40 C332.53,732.98 333.50,731.20 333.60,728.80 C333.70,726.40 333.08,723.83 332.60,721.00 C332.12,718.17 331.25,714.87 330.70,711.80 C330.15,708.73 329.53,705.67 329.30,702.60 C329.07,699.53 329.12,696.47 329.30,693.40 C329.48,690.33 330.00,687.05 330.40,684.20 C330.80,681.35 331.27,678.50 331.70,676.30 C332.13,674.10 332.57,672.10 333.00,671.00 C333.43,669.90 334.08,669.92 334.30,669.70Z" fill="#e41e2d" stroke="#262626" stroke-width="0.55"/>
<line x1="334.60" y1="669.70" x2="334.60" y2="694.00" stroke="#333" stroke-width="0.5"/>
<line x1="334.60" y1="743.30" x2="334.60" y2="743.30" stroke="#333" stroke-width="0.5"/>
<rect x="333.45" y="694.00" width="2.30" height="49.30" fill="none" stroke="#333" stroke-width="0.45"/>
<line x1="333.45" y1="707.20" x2="335.75" y2="707.20" stroke="#333" stroke-width="0.45"/>
<line x1="353.90" y1="678.90" x2="353.90" y2="702.00" stroke="#333" stroke-width="0.5"/>
<line x1="353.90" y1="743.30" x2="353.90" y2="743.30" stroke="#333" stroke-width="0.5"/>
<path d="M354.20,678.90 C354.42,679.55 354.90,681.05 355.50,682.80 C356.10,684.55 357.08,686.98 357.80,689.40 C358.52,691.82 359.35,694.67 359.80,697.30 C360.25,699.93 360.60,702.57 360.50,705.20 C360.40,707.83 359.87,710.47 359.20,713.10 C358.53,715.73 357.22,718.60 356.50,721.00 C355.78,723.40 354.78,725.32 354.90,727.50 C355.02,729.68 356.27,731.90 357.20,734.10 C358.13,736.30 359.85,739.17 360.50,740.70 C361.15,742.23 361.00,742.87 361.10,743.30 L346.70,743.30 C346.80,742.87 346.65,742.23 347.30,740.70 C347.95,739.17 349.67,736.30 350.60,734.10 C351.53,731.90 352.78,729.68 352.90,727.50 C353.02,725.32 352.02,723.40 351.30,721.00 C350.58,718.60 349.27,715.73 348.60,713.10 C347.93,710.47 347.40,707.83 347.30,705.20 C347.20,702.57 347.55,699.93 348.00,697.30 C348.45,694.67 349.28,691.82 350.00,689.40 C350.72,686.98 351.70,684.55 352.30,682.80 C352.90,681.05 353.38,679.55 353.60,678.90Z" fill="#2e50a2" stroke="#262626" stroke-width="0.55"/>
<line x1="353.90" y1="678.90" x2="353.90" y2="702.00" stroke="#333" stroke-width="0.5"/>
<line x1="353.90" y1="743.30" x2="353.90" y2="743.30" stroke="#333" stroke-width="0.5"/>
<rect x="352.75" y="702.00" width="2.30" height="41.30" fill="none" stroke="#333" stroke-width="0.45"/>
<line x1="352.75" y1="712.50" x2="355.05" y2="712.50" stroke="#333" stroke-width="0.45"/>
<line x1="373.10" y1="665.10" x2="373.10" y2="703.20" stroke="#333" stroke-width="0.5"/>
<line x1="373.10" y1="743.30" x2="373.10" y2="743.30" stroke="#333" stroke-width="0.5"/>
<path d="M373.30,665.10 C373.38,666.97 373.35,673.12 373.80,676.30 C374.25,679.48 375.35,681.58 376.00,684.20 C376.65,686.82 377.20,688.93 377.70,692.00 C378.20,695.07 378.88,699.53 379.00,702.60 C379.12,705.67 378.83,707.78 378.40,710.40 C377.97,713.02 377.07,715.67 376.40,718.30 C375.73,720.93 374.62,724.00 374.40,726.20 C374.18,728.40 374.33,729.53 375.10,731.50 C375.87,733.47 377.92,736.03 379.00,738.00 C380.08,739.97 381.17,742.42 381.60,743.30 L364.60,743.30 C365.03,742.42 366.12,739.97 367.20,738.00 C368.28,736.03 370.33,733.47 371.10,731.50 C371.87,729.53 372.02,728.40 371.80,726.20 C371.58,724.00 370.47,720.93 369.80,718.30 C369.13,715.67 368.23,713.02 367.80,710.40 C367.37,707.78 367.08,705.67 367.20,702.60 C367.32,699.53 368.00,695.07 368.50,692.00 C369.00,688.93 369.55,686.82 370.20,684.20 C370.85,681.58 371.95,679.48 372.40,676.30 C372.85,673.12 372.82,666.97 372.90,665.10Z" fill="#f5a02a" stroke="#262626" stroke-width="0.55"/>
<line x1="373.10" y1="665.10" x2="373.10" y2="703.20" stroke="#333" stroke-width="0.5"/>
<line x1="373.10" y1="743.30" x2="373.10" y2="743.30" stroke="#333" stroke-width="0.5"/>
<rect x="371.95" y="703.20" width="2.30" height="40.10" fill="none" stroke="#333" stroke-width="0.45"/>
<line x1="371.95" y1="715.00" x2="374.25" y2="715.00" stroke="#333" stroke-width="0.45"/>
<text x="389.30" y="642.60" font-size="8.2" text-anchor="start" fill="#111" stroke="#111" stroke-width="0.18">MDA-PCa-2b</text>
<line x1="389.30" y1="644.10" x2="438.30" y2="644.10" stroke="#111" stroke-width="0.6"/>
<line x1="430.50" y1="668.30" x2="430.50" y2="747.00" stroke="#2a2a2a" stroke-width="1.0"/>
<line x1="430.00" y1="746.50" x2="509.10" y2="746.50" stroke="#2a2a2a" stroke-width="1.0"/>
<line x1="427.80" y1="688.40" x2="430.00" y2="688.40" stroke="#333" stroke-width="0.8"/>
<text x="426.80" y="691.30" font-size="8.2" text-anchor="end" fill="#3a3a3a" stroke="#3a3a3a" stroke-width="0.18">0.03</text>
<line x1="427.80" y1="711.60" x2="430.00" y2="711.60" stroke="#333" stroke-width="0.8"/>
<text x="426.80" y="714.50" font-size="8.2" text-anchor="end" fill="#3a3a3a" stroke="#3a3a3a" stroke-width="0.18">0.02</text>
<line x1="427.80" y1="735.30" x2="430.00" y2="735.30" stroke="#333" stroke-width="0.8"/>
<text x="426.80" y="738.20" font-size="8.2" text-anchor="end" fill="#3a3a3a" stroke="#3a3a3a" stroke-width="0.18">0.01</text>
<line x1="441.20" y1="746.50" x2="441.20" y2="748.70" stroke="#333" stroke-width="0.8"/>
<text x="0.00" y="0.00" transform="translate(444.90,750.60) rotate(-90)" font-size="8.2" text-anchor="end" fill="#1a1a1a" stroke="#1a1a1a" stroke-width="0.18">DMSO</text>
<line x1="460.00" y1="746.50" x2="460.00" y2="748.70" stroke="#333" stroke-width="0.8"/>
<text x="0.00" y="0.00" transform="translate(463.70,750.60) rotate(-90)" font-size="8.2" text-anchor="end" fill="#1a1a1a" stroke="#1a1a1a" stroke-width="0.18">Enza</text>
<line x1="478.60" y1="746.50" x2="478.60" y2="748.70" stroke="#333" stroke-width="0.8"/>
<text x="0.00" y="0.00" transform="translate(482.30,750.60) rotate(-90)" font-size="8.2" text-anchor="end" fill="#1a1a1a" stroke="#1a1a1a" stroke-width="0.18">ARV110</text>
<line x1="497.50" y1="746.50" x2="497.50" y2="748.70" stroke="#333" stroke-width="0.8"/>
<text x="0.00" y="0.00" transform="translate(501.20,750.60) rotate(-90)" font-size="8.2" text-anchor="end" fill="#1a1a1a" stroke="#1a1a1a" stroke-width="0.18">SMACA2.4_1</text>
<text x="474.70" y="653.50" font-size="8.2" text-anchor="middle" fill="#111" stroke="#111" stroke-width="0.18">AR activity</text>
<text x="0.00" y="0.00" transform="translate(405.60,704.40) rotate(-90)" font-size="8.2" text-anchor="middle" fill="#111" stroke="#111" stroke-width="0.18">activity</text>
<line x1="441.20" y1="676.80" x2="441.20" y2="712.30" stroke="#333" stroke-width="0.5"/>
<line x1="441.20" y1="722.20" x2="441.20" y2="734.60" stroke="#333" stroke-width="0.5"/>
<path d="M441.50,697.80 C441.72,698.68 442.23,701.33 442.80,703.10 C443.37,704.87 444.28,706.43 444.90,708.40 C445.52,710.37 446.20,712.93 446.50,714.90 C446.80,716.87 446.93,718.45 446.70,720.20 C446.47,721.95 445.80,723.65 445.10,725.40 C444.40,727.15 443.10,729.17 442.50,730.70 C441.90,732.23 441.67,733.95 441.50,734.60 L440.90,734.60 C440.73,733.95 440.50,732.23 439.90,730.70 C439.30,729.17 438.00,727.15 437.30,725.40 C436.60,723.65 435.93,721.95 435.70,720.20 C435.47,718.45 435.60,716.87 435.90,714.90 C436.20,712.93 436.88,710.37 437.50,708.40 C438.12,706.43 439.03,704.87 439.60,703.10 C440.17,701.33 440.68,698.68 440.90,697.80Z" fill="#b4b6b8" stroke="#262626" stroke-width="0.55"/>
<line x1="441.20" y1="697.80" x2="441.20" y2="712.30" stroke="#333" stroke-width="0.5"/>
<line x1="441.20" y1="722.20" x2="441.20" y2="734.60" stroke="#333" stroke-width="0.5"/>
<rect x="440.05" y="712.30" width="2.30" height="9.90" fill="none" stroke="#333" stroke-width="0.45"/>
<line x1="440.05" y1="717.00" x2="442.35" y2="717.00" stroke="#333" stroke-width="0.45"/>
<circle cx="441.20" cy="676.80" r="1.1" fill="#2a2a2a"/>
<circle cx="441.20" cy="679.60" r="1.1" fill="#2a2a2a"/>
<circle cx="441.20" cy="681.40" r="1.1" fill="#2a2a2a"/>
<circle cx="441.20" cy="684.20" r="1.1" fill="#2a2a2a"/>
<circle cx="441.20" cy="685.70" r="1.1" fill="#2a2a2a"/>
<circle cx="441.20" cy="687.20" r="1.1" fill="#2a2a2a"/>
<circle cx="441.20" cy="689.00" r="1.1" fill="#2a2a2a"/>
<circle cx="441.20" cy="690.50" r="1.1" fill="#2a2a2a"/>
<circle cx="441.20" cy="691.30" r="1.1" fill="#2a2a2a"/>
<circle cx="441.20" cy="676.80" r="1.10" fill="#2a2a2a" stroke="none" stroke-width="0.5"/>
<line x1="460.00" y1="670.90" x2="460.00" y2="710.30" stroke="#333" stroke-width="0.5"/>
<line x1="460.00" y1="721.50" x2="460.00" y2="732.00" stroke="#333" stroke-width="0.5"/>
<path d="M460.30,700.50 C460.58,700.93 461.28,701.78 462.00,703.10 C462.72,704.42 464.02,706.43 464.60,708.40 C465.18,710.37 465.38,712.93 465.50,714.90 C465.62,716.87 465.67,718.45 465.30,720.20 C464.93,721.95 464.02,723.65 463.30,725.40 C462.58,727.15 461.50,729.60 461.00,730.70 C460.50,731.80 460.42,731.78 460.30,732.00 L459.70,732.00 C459.58,731.78 459.50,731.80 459.00,730.70 C458.50,729.60 457.42,727.15 456.70,725.40 C455.98,723.65 455.07,721.95 454.70,720.20 C454.33,718.45 454.38,716.87 454.50,714.90 C454.62,712.93 454.82,710.37 455.40,708.40 C455.98,706.43 457.28,704.42 458.00,703.10 C458.72,701.78 459.42,700.93 459.70,700.50Z" fill="#e41e2d" stroke="#262626" stroke-width="0.55"/>
<line x1="460.00" y1="700.50" x2="460.00" y2="710.30" stroke="#333" stroke-width="0.5"/>
<line x1="460.00" y1="721.50" x2="460.00" y2="732.00" stroke="#333" stroke-width="0.5"/>
<rect x="458.85" y="710.30" width="2.30" height="11.20" fill="none" stroke="#333" stroke-width="0.45"/>
<line x1="458.85" y1="716.00" x2="461.15" y2="716.00" stroke="#333" stroke-width="0.45"/>
<circle cx="460.00" cy="670.90" r="1.10" fill="#2a2a2a" stroke="none" stroke-width="0.5"/>
<circle cx="460.00" cy="681.40" r="1.10" fill="#2a2a2a" stroke="none" stroke-width="0.5"/>
<line x1="478.60" y1="670.90" x2="478.60" y2="714.30" stroke="#333" stroke-width="0.5"/>
<line x1="478.60" y1="722.80" x2="478.60" y2="733.30" stroke="#333" stroke-width="0.5"/>
<path d="M478.90,705.70 C479.40,706.37 480.97,708.17 481.90,709.70 C482.83,711.23 483.92,713.15 484.50,714.90 C485.08,716.65 485.62,718.45 485.40,720.20 C485.18,721.95 484.12,723.65 483.20,725.40 C482.28,727.15 480.62,729.38 479.90,730.70 C479.18,732.02 479.07,732.87 478.90,733.30 L478.30,733.30 C478.13,732.87 478.02,732.02 477.30,730.70 C476.58,729.38 474.92,727.15 474.00,725.40 C473.08,723.65 472.02,721.95 471.80,720.20 C471.58,718.45 472.12,716.65 472.70,714.90 C473.28,713.15 474.37,711.23 475.30,709.70 C476.23,708.17 477.80,706.37 478.30,705.70Z" fill="#2e50a2" stroke="#262626" stroke-width="0.55"/>
<line x1="478.60" y1="705.70" x2="478.60" y2="714.30" stroke="#333" stroke-width="0.5"/>
<line x1="478.60" y1="722.80" x2="478.60" y2="733.30" stroke="#333" stroke-width="0.5"/>
<rect x="477.45" y="714.30" width="2.30" height="8.50" fill="none" stroke="#333" stroke-width="0.45"/>
<line x1="477.45" y1="718.50" x2="479.75" y2="718.50" stroke="#333" stroke-width="0.45"/>
<circle cx="478.60" cy="686.00" r="1.1" fill="#2a2a2a"/>
<circle cx="478.60" cy="687.80" r="1.1" fill="#2a2a2a"/>
<circle cx="478.60" cy="691.20" r="1.1" fill="#2a2a2a"/>
<circle cx="478.60" cy="692.50" r="1.1" fill="#2a2a2a"/>
<circle cx="478.60" cy="693.80" r="1.1" fill="#2a2a2a"/>
<circle cx="478.60" cy="696.60" r="1.1" fill="#2a2a2a"/>
<circle cx="478.60" cy="699.40" r="1.1" fill="#2a2a2a"/>
<circle cx="478.60" cy="701.20" r="1.1" fill="#2a2a2a"/>
<circle cx="478.60" cy="703.00" r="1.1" fill="#2a2a2a"/>
<circle cx="478.60" cy="704.40" r="1.1" fill="#2a2a2a"/>
<circle cx="478.60" cy="670.90" r="1.10" fill="#2a2a2a" stroke="none" stroke-width="0.5"/>
<circle cx="478.60" cy="673.50" r="1.10" fill="#2a2a2a" stroke="none" stroke-width="0.5"/>
<circle cx="478.60" cy="677.50" r="1.10" fill="#2a2a2a" stroke="none" stroke-width="0.5"/>
<circle cx="478.60" cy="682.00" r="1.10" fill="#2a2a2a" stroke="none" stroke-width="0.5"/>
<circle cx="478.60" cy="687.00" r="1.10" fill="#2a2a2a" stroke="none" stroke-width="0.5"/>
<circle cx="478.60" cy="692.00" r="1.10" fill="#2a2a2a" stroke="none" stroke-width="0.5"/>
<circle cx="478.60" cy="697.00" r="1.10" fill="#2a2a2a" stroke="none" stroke-width="0.5"/>
<line x1="497.50" y1="688.00" x2="497.50" y2="726.10" stroke="#333" stroke-width="0.5"/>
<line x1="497.50" y1="734.00" x2="497.50" y2="742.50" stroke="#333" stroke-width="0.5"/>
<path d="M497.90,720.20 C498.48,720.85 500.27,722.78 501.40,724.10 C502.53,725.42 503.93,727.00 504.70,728.10 C505.47,729.20 506.22,729.62 506.00,730.70 C505.78,731.78 504.48,733.28 503.40,734.60 C502.32,735.92 500.42,737.62 499.50,738.60 C498.58,739.58 498.17,740.18 497.90,740.50 L497.10,740.50 C496.83,740.18 496.42,739.58 495.50,738.60 C494.58,737.62 492.68,735.92 491.60,734.60 C490.52,733.28 489.22,731.78 489.00,730.70 C488.78,729.62 489.53,729.20 490.30,728.10 C491.07,727.00 492.47,725.42 493.60,724.10 C494.73,722.78 496.52,720.85 497.10,720.20Z" fill="#f5a02a" stroke="#262626" stroke-width="0.55"/>
<line x1="497.50" y1="720.20" x2="497.50" y2="726.10" stroke="#333" stroke-width="0.5"/>
<line x1="497.50" y1="734.00" x2="497.50" y2="740.50" stroke="#333" stroke-width="0.5"/>
<rect x="496.35" y="726.10" width="2.30" height="7.90" fill="none" stroke="#333" stroke-width="0.45"/>
<line x1="496.35" y1="730.00" x2="498.65" y2="730.00" stroke="#333" stroke-width="0.45"/>
<circle cx="497.50" cy="690.00" r="1.1" fill="#2a2a2a"/>
<circle cx="497.50" cy="692.80" r="1.1" fill="#2a2a2a"/>
<circle cx="497.50" cy="695.60" r="1.1" fill="#2a2a2a"/>
<circle cx="497.50" cy="697.10" r="1.1" fill="#2a2a2a"/>
<circle cx="497.50" cy="698.90" r="1.1" fill="#2a2a2a"/>
<circle cx="497.50" cy="701.70" r="1.1" fill="#2a2a2a"/>
<circle cx="497.50" cy="703.50" r="1.1" fill="#2a2a2a"/>
<circle cx="497.50" cy="704.80" r="1.1" fill="#2a2a2a"/>
<circle cx="497.50" cy="708.20" r="1.1" fill="#2a2a2a"/>
<circle cx="497.50" cy="709.50" r="1.1" fill="#2a2a2a"/>
<circle cx="497.50" cy="712.30" r="1.1" fill="#2a2a2a"/>
<circle cx="497.50" cy="714.50" r="1.1" fill="#2a2a2a"/>
<circle cx="497.50" cy="716.70" r="1.1" fill="#2a2a2a"/>
<circle cx="497.50" cy="718.90" r="1.1" fill="#2a2a2a"/>
<circle cx="497.50" cy="720.20" r="1.1" fill="#2a2a2a"/>
<circle cx="497.50" cy="742.50" r="1.10" fill="#2a2a2a" stroke="none" stroke-width="0.5"/>
<circle cx="497.50" cy="688.00" r="1.10" fill="#2a2a2a" stroke="none" stroke-width="0.5"/>
<text x="526.00" y="463.60" font-size="10.3" text-anchor="start" fill="#111" font-weight="bold">g</text>
<rect x="556.10" y="484.40" width="19.10" height="101.90" fill="#e3202c" stroke="none" stroke-width="1"/>
<rect x="577.30" y="499.61" width="19.10" height="86.69" fill="#0b8546" stroke="none" stroke-width="1"/>
<rect x="598.80" y="504.68" width="19.10" height="81.62" fill="#3656a3" stroke="none" stroke-width="1"/>
<rect x="620.00" y="508.48" width="19.10" height="77.82" fill="#4f5354" stroke="none" stroke-width="1"/>
<rect x="641.10" y="509.75" width="19.10" height="76.55" fill="#f49b2f" stroke="none" stroke-width="1"/>
<rect x="662.50" y="524.96" width="19.10" height="61.34" fill="#7dc4cd" stroke="none" stroke-width="1"/>
<rect x="552.50" y="474.60" width="131.90" height="116.40" fill="none" stroke="#8c8c8c" stroke-width="0.9"/>
<line x1="550.30" y1="585.80" x2="552.50" y2="585.80" stroke="#333" stroke-width="0.8"/>
<text x="548.60" y="588.70" font-size="8.2" text-anchor="end" fill="#4d4d4d" stroke="#4d4d4d" stroke-width="0.18">0.0</text>
<line x1="550.30" y1="560.45" x2="552.50" y2="560.45" stroke="#333" stroke-width="0.8"/>
<text x="548.60" y="563.35" font-size="8.2" text-anchor="end" fill="#4d4d4d" stroke="#4d4d4d" stroke-width="0.18">0.2</text>
<line x1="550.30" y1="535.10" x2="552.50" y2="535.10" stroke="#333" stroke-width="0.8"/>
<text x="548.60" y="538.00" font-size="8.2" text-anchor="end" fill="#4d4d4d" stroke="#4d4d4d" stroke-width="0.18">0.4</text>
<line x1="550.30" y1="509.75" x2="552.50" y2="509.75" stroke="#333" stroke-width="0.8"/>
<text x="548.60" y="512.65" font-size="8.2" text-anchor="end" fill="#4d4d4d" stroke="#4d4d4d" stroke-width="0.18">0.6</text>
<line x1="550.30" y1="484.40" x2="552.50" y2="484.40" stroke="#333" stroke-width="0.8"/>
<text x="548.60" y="487.30" font-size="8.2" text-anchor="end" fill="#4d4d4d" stroke="#4d4d4d" stroke-width="0.18">0.8</text>
<text x="0.00" y="0.00" transform="translate(535.60,522.40) rotate(-90)" font-size="8.2" text-anchor="middle" fill="#111" stroke="#111" stroke-width="0.18">AUROC</text>
<line x1="565.65" y1="591.00" x2="565.65" y2="593.20" stroke="#333" stroke-width="0.8"/>
<text x="0.00" y="0.00" transform="translate(568.95,594.30) rotate(-90)" font-size="6.9" text-anchor="end" fill="#222" stroke="#222" stroke-width="0.18">Epiregulon</text>
<line x1="586.85" y1="591.00" x2="586.85" y2="593.20" stroke="#333" stroke-width="0.8"/>
<text x="0.00" y="0.00" transform="translate(590.15,594.30) rotate(-90)" font-size="6.9" text-anchor="end" fill="#222" stroke="#222" stroke-width="0.18">SCENIC+_pos_region</text>
<line x1="608.35" y1="591.00" x2="608.35" y2="593.20" stroke="#333" stroke-width="0.8"/>
<text x="0.00" y="0.00" transform="translate(611.65,594.30) rotate(-90)" font-size="6.9" text-anchor="end" fill="#222" stroke="#222" stroke-width="0.18">Pando</text>
<line x1="629.55" y1="591.00" x2="629.55" y2="593.20" stroke="#333" stroke-width="0.8"/>
<text x="0.00" y="0.00" transform="translate(632.85,594.30) rotate(-90)" font-size="6.9" text-anchor="end" fill="#222" stroke="#222" stroke-width="0.18">FigR</text>
<line x1="650.65" y1="591.00" x2="650.65" y2="593.20" stroke="#333" stroke-width="0.8"/>
<text x="0.00" y="0.00" transform="translate(653.95,594.30) rotate(-90)" font-size="6.9" text-anchor="end" fill="#222" stroke="#222" stroke-width="0.18">SCENIC+_pos_gene</text>
<line x1="672.05" y1="591.00" x2="672.05" y2="593.20" stroke="#333" stroke-width="0.8"/>
<text x="0.00" y="0.00" transform="translate(675.35,594.30) rotate(-90)" font-size="6.9" text-anchor="end" fill="#222" stroke="#222" stroke-width="0.18">Gene expression</text>
<text x="623.20" y="668.50" font-size="8.1" text-anchor="middle" fill="#222" stroke="#222" stroke-width="0.18">package</text>
<circle cx="559.70" cy="482.00" r="1.25" fill="#000" stroke="#fff" stroke-width="0.6"/>
<rect x="561.40" y="485.10" width="2.40" height="2.40" fill="#000" stroke="#fff" stroke-width="0.6"/>
<path d="M565.30,487.50 L566.90,490.30 L563.70,490.30Z" fill="#000" stroke="#fff" stroke-width="0.6"/>
<circle cx="569.40" cy="483.40" r="1.25" fill="#000" stroke="#fff" stroke-width="0.6"/>
<circle cx="582.60" cy="492.30" r="1.25" fill="#000" stroke="#fff" stroke-width="0.6"/>
<rect x="581.90" y="499.60" width="2.40" height="2.40" fill="#000" stroke="#fff" stroke-width="0.6"/>
<circle cx="587.00" cy="502.40" r="1.25" fill="#000" stroke="#fff" stroke-width="0.6"/>
<circle cx="590.30" cy="499.60" r="1.25" fill="#000" stroke="#fff" stroke-width="0.6"/>
<circle cx="601.90" cy="479.80" r="1.25" fill="#000" stroke="#fff" stroke-width="0.6"/>
<circle cx="612.00" cy="482.70" r="1.25" fill="#000" stroke="#fff" stroke-width="0.6"/>
<circle cx="603.80" cy="527.30" r="1.25" fill="#000" stroke="#fff" stroke-width="0.6"/>
<path d="M607.90,529.90 L609.50,532.70 L606.30,532.70Z" fill="#000" stroke="#fff" stroke-width="0.6"/>
<circle cx="623.60" cy="500.00" r="1.25" fill="#000" stroke="#fff" stroke-width="0.6"/>
<circle cx="633.20" cy="506.30" r="1.25" fill="#000" stroke="#fff" stroke-width="0.6"/>
<path d="M625.20,509.40 L626.80,512.20 L623.60,512.20Z" fill="#000" stroke="#fff" stroke-width="0.6"/>
<rect x="628.40" y="518.80" width="2.40" height="2.40" fill="#000" stroke="#fff" stroke-width="0.6"/>
<circle cx="644.40" cy="494.30" r="1.25" fill="#000" stroke="#fff" stroke-width="0.6"/>
<circle cx="655.10" cy="496.80" r="1.25" fill="#000" stroke="#fff" stroke-width="0.6"/>
<circle cx="647.00" cy="523.40" r="1.25" fill="#000" stroke="#fff" stroke-width="0.6"/>
<circle cx="650.70" cy="528.40" r="1.25" fill="#000" stroke="#fff" stroke-width="0.6"/>
<circle cx="666.10" cy="509.00" r="1.25" fill="#000" stroke="#fff" stroke-width="0.6"/>
<circle cx="676.00" cy="519.20" r="1.25" fill="#000" stroke="#fff" stroke-width="0.6"/>
<circle cx="668.60" cy="532.70" r="1.25" fill="#000" stroke="#fff" stroke-width="0.6"/>
<circle cx="672.20" cy="551.60" r="1.25" fill="#000" stroke="#fff" stroke-width="0.6"/>
<text x="550.60" y="698.00" font-size="6.9" text-anchor="start" fill="#111" stroke="#111" stroke-width="0.18">treatment</text>
<rect x="550.40" y="701.50" width="10.20" height="10.30" fill="#fff" stroke="#333" stroke-width="0.6"/>
<circle cx="555.50" cy="706.65" r="1.05" fill="#000" stroke="none" stroke-width="0.5"/>
<text x="564.30" y="709.10" font-size="6.9" text-anchor="start" fill="#222" stroke="#222" stroke-width="0.18">LNCaP−ARV110</text>
<rect x="550.40" y="711.80" width="10.20" height="10.30" fill="#fff" stroke="#333" stroke-width="0.6"/>
<rect x="554.60" y="716.10" width="1.80" height="1.80" fill="#000" stroke="none" stroke-width="1"/>
<text x="564.30" y="719.40" font-size="6.9" text-anchor="start" fill="#222" stroke="#222" stroke-width="0.18">LNCaP−Enza</text>
<rect x="550.40" y="722.10" width="10.20" height="10.30" fill="#fff" stroke="#333" stroke-width="0.6"/>
<circle cx="555.50" cy="727.25" r="1.05" fill="#000" stroke="none" stroke-width="0.5"/>
<text x="564.30" y="729.70" font-size="6.9" text-anchor="start" fill="#222" stroke="#222" stroke-width="0.18">VCaP−ARV110</text>
<rect x="550.40" y="732.40" width="10.20" height="10.30" fill="#fff" stroke="#333" stroke-width="0.6"/>
<path d="M555.5,736.00 L557.1,739.00 L553.9,739.00Z" fill="#000" stroke="#231f20" stroke-width="1"/>
<text x="564.30" y="740.00" font-size="6.9" text-anchor="start" fill="#222" stroke="#222" stroke-width="0.18">VCaP−Enza</text>
<text x="551.00" y="760.70" font-size="6.9" text-anchor="start" fill="#111" stroke="#111" stroke-width="0.18">package</text>
<rect x="550.20" y="766.10" width="10.30" height="10.10" fill="#e3202c" stroke="none" stroke-width="1"/>
<text x="563.90" y="773.50" font-size="6.9" text-anchor="start" fill="#222" stroke="#222" stroke-width="0.18">Epiregulon (0.80)</text>
<rect x="550.20" y="776.70" width="10.30" height="10.10" fill="#0b8546" stroke="none" stroke-width="1"/>
<text x="563.90" y="784.10" font-size="6.9" text-anchor="start" fill="#222" stroke="#222" stroke-width="0.18">SCENIC+_pos_region (0.68)</text>
<rect x="550.20" y="787.30" width="10.30" height="10.10" fill="#3656a3" stroke="none" stroke-width="1"/>
<text x="563.90" y="794.70" font-size="6.9" text-anchor="start" fill="#222" stroke="#222" stroke-width="0.18">Pando (0.64)</text>
<rect x="550.20" y="797.90" width="10.30" height="10.10" fill="#4f5354" stroke="none" stroke-width="1"/>
<text x="563.90" y="805.30" font-size="6.9" text-anchor="start" fill="#222" stroke="#222" stroke-width="0.18">FigR (0.61)</text>
<rect x="550.20" y="808.50" width="10.30" height="10.10" fill="#f49b2f" stroke="none" stroke-width="1"/>
<text x="563.90" y="815.90" font-size="6.9" text-anchor="start" fill="#222" stroke="#222" stroke-width="0.18">SCENIC_pos_gene (0.60)</text>
<rect x="550.20" y="819.10" width="10.30" height="10.10" fill="#7dc4cd" stroke="none" stroke-width="1"/>
<text x="563.90" y="826.50" font-size="6.9" text-anchor="start" fill="#222" stroke="#222" stroke-width="0.18">Gene expression (0.48)</text>
</svg></div></body></html>
